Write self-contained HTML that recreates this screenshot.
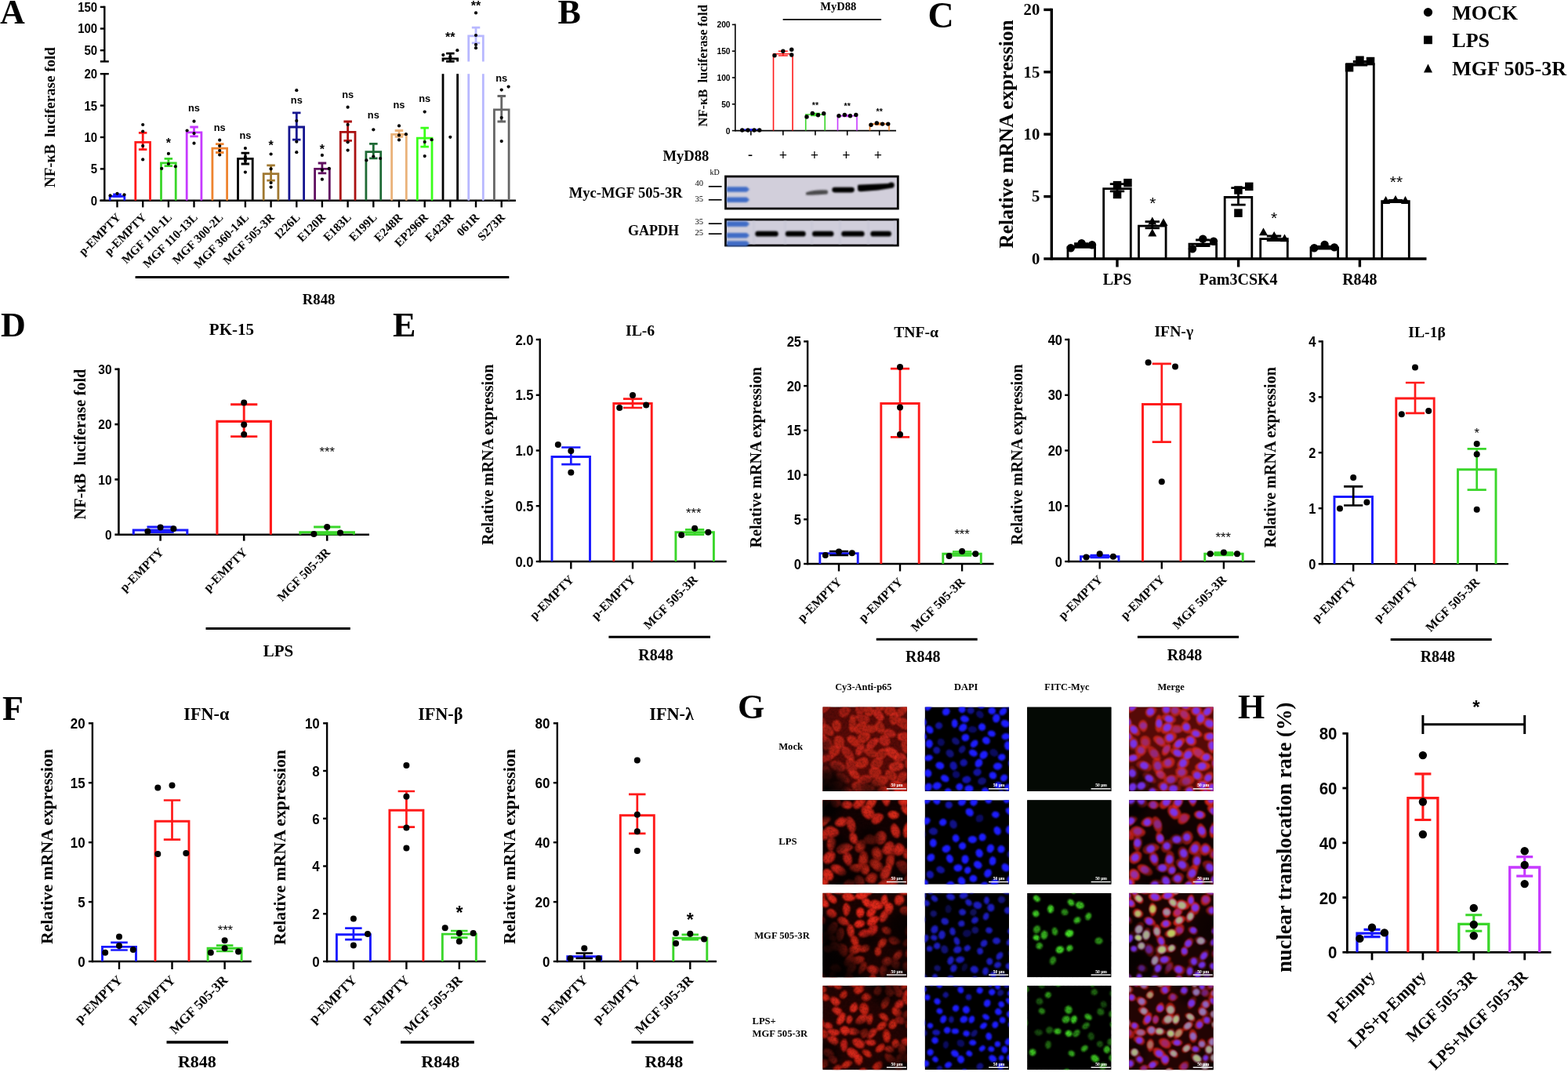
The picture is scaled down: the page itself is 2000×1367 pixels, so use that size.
<!DOCTYPE html>
<html><head><meta charset="utf-8"><title>Figure</title>
<style>
html,body{margin:0;padding:0;background:#fff;}
svg{display:block;}
.s{font-family:"Liberation Serif","Times New Roman",serif;font-weight:bold;}
.a{font-family:"Liberation Sans",Arial,sans-serif;font-weight:bold;}
.n{font-family:"Liberation Serif","Times New Roman",serif;}
.r{font-family:"Liberation Sans",Arial,sans-serif;}
</style></head><body>
<svg width="2000" height="1367" viewBox="0 0 2000 1367">
<defs>
<filter id="bl1" x="-20%" y="-100%" width="140%" height="300%"><feGaussianBlur stdDeviation="0.8"/></filter>
<filter id="bl2"><feGaussianBlur stdDeviation="0.9"/></filter>
<filter id="spk" x="0" y="0" width="100%" height="100%"><feTurbulence type="fractalNoise" baseFrequency="0.35" numOctaves="2" seed="7"/><feColorMatrix type="matrix" values="0 0 0 0 0 0 0 0 0 0 0 0 0 0 0 2.2 0 0 0 -0.95"/><feGaussianBlur stdDeviation="0.35"/></filter>
<radialGradient id="dg"><stop offset="0" stop-color="#000" stop-opacity="1"/><stop offset="0.55" stop-color="#000" stop-opacity="0.75"/><stop offset="1" stop-color="#000" stop-opacity="0"/></radialGradient>
<g id="rc0"><path d="M21.6 30.3Q19.7 33.0 16.8 31.5Q13.8 29.9 12.4 26.6Q11.0 23.3 12.4 20.3Q13.8 17.2 16.6 16.5Q19.5 15.7 21.7 18.4Q23.8 21.0 23.7 24.3Q23.5 27.7 21.6 30.3Z" opacity="0.71" stroke="#000" stroke-opacity="0.4" stroke-width="1"/><path d="M10.5 91.9Q8.0 95.1 4.2 94.1Q0.3 93.1 -0.9 89.0Q-2.1 84.9 -1.7 81.6Q-1.3 78.2 1.4 76.0Q4.1 73.8 7.1 76.9Q10.1 80.0 11.6 84.4Q13.0 88.7 10.5 91.9Z" opacity="0.59" stroke="#000" stroke-opacity="0.4" stroke-width="1"/><path d="M24.2 13.2Q21.3 11.6 20.4 8.7Q19.5 5.7 21.8 2.9Q24.0 0.2 27.2 -0.4Q30.4 -0.9 33.4 0.7Q36.5 2.3 34.8 6.0Q33.1 9.6 30.1 12.1Q27.1 14.7 24.2 13.2Z" opacity="0.61" stroke="#000" stroke-opacity="0.4" stroke-width="1"/><path d="M78.4 14.5Q77.9 18.0 74.4 18.0Q70.9 18.0 67.9 14.8Q64.9 11.5 63.2 7.7Q61.5 3.9 64.2 3.0Q66.9 2.0 70.0 3.1Q73.2 4.2 76.0 7.6Q78.9 11.1 78.4 14.5Z" opacity="0.77" stroke="#000" stroke-opacity="0.4" stroke-width="1"/><path d="M93.2 34.0Q94.4 36.7 91.8 38.0Q89.1 39.3 85.4 39.1Q81.6 38.9 79.3 36.5Q77.0 34.0 77.5 31.7Q78.1 29.4 81.4 28.2Q84.7 27.1 88.4 29.2Q92.0 31.3 93.2 34.0Z" opacity="0.77" stroke="#000" stroke-opacity="0.4" stroke-width="1"/><path d="M97.1 97.4Q93.8 98.1 94.1 94.7Q94.5 91.3 96.0 87.7Q97.6 84.1 101.4 82.9Q105.1 81.7 106.9 83.9Q108.7 86.1 107.5 89.5Q106.4 92.9 103.5 94.8Q100.5 96.7 97.1 97.4Z" opacity="0.70" stroke="#000" stroke-opacity="0.4" stroke-width="1"/><path d="M34.2 93.8Q35.3 97.0 31.8 97.3Q28.2 97.5 24.6 96.1Q21.0 94.7 18.5 91.6Q16.1 88.4 17.1 85.7Q18.2 83.0 22.6 83.8Q26.9 84.5 30.0 87.5Q33.1 90.5 34.2 93.8Z" opacity="0.67" stroke="#000" stroke-opacity="0.4" stroke-width="1"/><path d="M48.5 10.0Q45.8 10.4 43.7 8.7Q41.7 7.0 41.4 3.1Q41.1 -0.8 43.7 -3.8Q46.4 -6.8 49.3 -5.6Q52.2 -4.5 53.3 -1.0Q54.4 2.4 52.8 6.0Q51.2 9.6 48.5 10.0Z" opacity="0.63" stroke="#000" stroke-opacity="0.4" stroke-width="1"/><path d="M80.5 114.3Q77.5 116.0 74.8 114.1Q72.1 112.2 70.5 108.9Q68.8 105.5 71.4 103.3Q74.1 101.1 76.8 100.4Q79.6 99.6 81.9 102.2Q84.2 104.8 83.9 108.7Q83.5 112.6 80.5 114.3Z" opacity="0.79" stroke="#000" stroke-opacity="0.4" stroke-width="1"/><path d="M42.2 84.2Q40.0 87.6 36.1 86.2Q32.3 84.8 30.5 79.6Q28.7 74.5 29.6 69.9Q30.5 65.4 33.8 65.0Q37.1 64.6 40.2 67.6Q43.2 70.6 43.9 75.7Q44.5 80.9 42.2 84.2Z" opacity="0.59" stroke="#000" stroke-opacity="0.4" stroke-width="1"/><path d="M58.8 54.5Q56.4 53.6 55.5 51.2Q54.6 48.8 57.8 45.0Q61.0 41.2 64.5 40.0Q68.1 38.7 70.4 39.8Q72.8 41.0 70.8 45.0Q68.8 49.0 65.0 52.2Q61.1 55.4 58.8 54.5Z" opacity="0.80" stroke="#000" stroke-opacity="0.4" stroke-width="1"/><path d="M8.2 106.3Q6.1 104.0 6.6 100.9Q7.1 97.9 11.4 96.2Q15.7 94.5 19.6 94.7Q23.5 94.9 25.1 97.4Q26.7 100.0 23.7 103.3Q20.6 106.6 15.5 107.6Q10.4 108.6 8.2 106.3Z" opacity="0.60" stroke="#000" stroke-opacity="0.4" stroke-width="1"/><path d="M44.9 97.0Q42.9 94.3 44.6 91.6Q46.4 88.8 50.5 87.2Q54.7 85.5 58.5 87.0Q62.3 88.4 62.6 91.2Q62.9 94.0 59.9 96.5Q56.8 99.0 51.9 99.3Q46.9 99.6 44.9 97.0Z" opacity="0.67" stroke="#000" stroke-opacity="0.4" stroke-width="1"/><path d="M0.6 7.8Q-2.6 9.0 -2.7 5.8Q-2.7 2.5 -0.6 -1.9Q1.6 -6.3 4.9 -7.4Q8.3 -8.4 10.1 -7.3Q11.8 -6.2 11.1 -2.7Q10.4 0.9 7.2 3.8Q3.9 6.6 0.6 7.8Z" opacity="0.67" stroke="#000" stroke-opacity="0.4" stroke-width="1"/><path d="M66.5 79.9Q63.2 80.1 61.6 77.2Q59.9 74.2 62.2 70.2Q64.4 66.1 67.7 64.6Q71.0 63.1 74.1 64.1Q77.1 65.0 77.0 69.4Q77.0 73.8 73.4 76.8Q69.8 79.8 66.5 79.9Z" opacity="0.66" stroke="#000" stroke-opacity="0.4" stroke-width="1"/><path d="M60.7 88.7Q59.1 85.7 58.8 82.4Q58.4 79.0 62.7 77.1Q66.9 75.3 70.2 76.9Q73.4 78.5 74.7 81.2Q76.0 83.9 73.7 86.9Q71.3 89.9 66.8 90.7Q62.3 91.6 60.7 88.7Z" opacity="0.66" stroke="#000" stroke-opacity="0.4" stroke-width="1"/><path d="M44.8 77.7Q41.7 76.3 41.5 72.8Q41.3 69.4 44.5 67.2Q47.7 65.0 51.5 64.1Q55.3 63.3 57.4 66.3Q59.4 69.2 57.7 73.1Q55.9 76.9 51.9 78.0Q47.9 79.0 44.8 77.7Z" opacity="0.72" stroke="#000" stroke-opacity="0.4" stroke-width="1"/><path d="M9.0 54.6Q5.9 55.4 2.7 54.9Q-0.5 54.3 -0.5 49.8Q-0.5 45.2 0.6 41.0Q1.7 36.8 4.8 37.7Q8.0 38.7 10.1 41.6Q12.2 44.5 12.1 49.1Q12.1 53.7 9.0 54.6Z" opacity="0.62" stroke="#000" stroke-opacity="0.4" stroke-width="1"/><path d="M84.8 79.6Q83.1 77.2 84.4 74.6Q85.7 72.1 90.2 70.4Q94.6 68.7 98.5 70.1Q102.3 71.4 103.6 74.1Q104.9 76.9 100.9 79.4Q96.8 81.9 91.7 81.9Q86.5 82.0 84.8 79.6Z" opacity="0.81" stroke="#000" stroke-opacity="0.4" stroke-width="1"/><path d="M87.1 103.1Q84.7 100.9 86.0 97.8Q87.4 94.6 91.1 94.0Q94.7 93.4 98.1 94.7Q101.4 95.9 101.7 99.2Q101.9 102.4 99.2 104.9Q96.4 107.3 93.0 106.3Q89.5 105.3 87.1 103.1Z" opacity="0.86" stroke="#000" stroke-opacity="0.4" stroke-width="1"/><path d="M114.4 103.1Q114.7 106.1 112.4 108.3Q110.1 110.4 105.8 109.5Q101.5 108.5 99.7 105.3Q97.9 102.1 99.2 99.7Q100.5 97.2 103.8 96.9Q107.1 96.7 110.6 98.3Q114.1 100.0 114.4 103.1Z" opacity="0.88" stroke="#000" stroke-opacity="0.4" stroke-width="1"/><path d="M47.2 47.0Q47.9 50.1 44.9 50.9Q41.8 51.6 38.0 49.3Q34.1 47.0 31.7 43.4Q29.4 39.9 31.4 37.9Q33.3 35.9 37.3 36.5Q41.2 37.0 43.9 40.4Q46.5 43.8 47.2 47.0Z" opacity="0.74" stroke="#000" stroke-opacity="0.4" stroke-width="1"/><path d="M112.7 22.1Q112.6 25.7 110.0 28.0Q107.4 30.4 102.5 28.3Q97.6 26.3 95.3 23.1Q92.9 20.0 93.0 16.4Q93.0 12.9 98.0 13.2Q103.1 13.6 108.0 16.1Q112.8 18.6 112.7 22.1Z" opacity="0.70" stroke="#000" stroke-opacity="0.4" stroke-width="1"/><path d="M28.6 75.6Q30.2 79.0 27.3 81.4Q24.3 83.8 19.2 82.4Q14.1 81.0 10.7 77.6Q7.4 74.2 9.5 71.4Q11.5 68.7 15.5 68.4Q19.4 68.1 23.2 70.1Q26.9 72.2 28.6 75.6Z" opacity="0.55" stroke="#000" stroke-opacity="0.4" stroke-width="1"/><path d="M109.0 57.8Q107.1 60.5 104.5 58.5Q101.8 56.6 100.6 52.0Q99.3 47.5 101.1 44.4Q102.8 41.4 105.2 39.9Q107.7 38.4 110.1 42.1Q112.4 45.9 111.6 50.5Q110.9 55.0 109.0 57.8Z" opacity="0.76" stroke="#000" stroke-opacity="0.4" stroke-width="1"/><path d="M11.1 62.3Q8.0 60.3 7.3 56.7Q6.5 53.1 9.3 50.5Q12.1 47.8 15.5 48.2Q18.9 48.5 21.1 51.0Q23.2 53.5 22.0 56.9Q20.8 60.2 17.6 62.2Q14.3 64.3 11.1 62.3Z" opacity="0.70" stroke="#000" stroke-opacity="0.4" stroke-width="1"/><path d="M5.9 41.4Q6.4 45.3 2.5 45.7Q-1.4 46.0 -5.0 43.2Q-8.7 40.4 -10.6 36.5Q-12.4 32.7 -10.2 30.5Q-8.0 28.2 -4.0 29.3Q0.0 30.4 2.7 33.9Q5.4 37.4 5.9 41.4Z" opacity="0.77" stroke="#000" stroke-opacity="0.4" stroke-width="1"/><path d="M117.7 2.8Q116.2 6.0 112.9 5.9Q109.6 5.9 106.4 3.7Q103.2 1.5 102.0 -2.2Q100.8 -5.8 103.1 -7.5Q105.5 -9.1 108.9 -8.2Q112.3 -7.3 115.7 -3.9Q119.1 -0.4 117.7 2.8Z" opacity="0.77" stroke="#000" stroke-opacity="0.4" stroke-width="1"/><path d="M-3.3 69.4Q-4.7 67.1 -3.8 64.7Q-2.8 62.3 1.5 61.0Q5.9 59.8 9.9 60.1Q14.0 60.5 14.8 62.8Q15.5 65.2 11.7 67.1Q7.8 69.1 3.0 70.4Q-1.9 71.7 -3.3 69.4Z" opacity="0.63" stroke="#000" stroke-opacity="0.4" stroke-width="1"/><path d="M69.5 26.5Q70.7 29.2 68.5 31.1Q66.3 33.0 62.3 33.5Q58.4 33.9 54.1 32.6Q49.9 31.2 50.6 28.5Q51.4 25.7 54.8 23.7Q58.3 21.7 63.3 22.8Q68.4 23.8 69.5 26.5Z" opacity="0.66" stroke="#000" stroke-opacity="0.4" stroke-width="1"/><path d="M47.6 107.0Q44.3 105.1 46.6 102.2Q49.0 99.4 53.6 99.0Q58.2 98.6 62.4 99.6Q66.5 100.6 66.4 103.5Q66.3 106.4 62.7 108.1Q59.0 109.8 55.0 109.4Q51.0 109.0 47.6 107.0Z" opacity="0.71" stroke="#000" stroke-opacity="0.4" stroke-width="1"/><path d="M43.6 34.2Q40.6 33.0 39.7 29.8Q38.9 26.6 42.4 22.8Q46.0 18.9 50.2 18.2Q54.4 17.4 55.6 20.1Q56.8 22.8 55.2 26.0Q53.6 29.2 50.2 32.3Q46.7 35.5 43.6 34.2Z" opacity="0.75" stroke="#000" stroke-opacity="0.4" stroke-width="1"/><path d="M71.5 68.0Q68.5 67.7 68.0 64.8Q67.4 61.8 69.5 57.7Q71.5 53.6 75.9 52.4Q80.4 51.2 82.8 53.7Q85.2 56.2 82.8 60.1Q80.5 63.9 77.4 66.2Q74.4 68.4 71.5 68.0Z" opacity="0.69" stroke="#000" stroke-opacity="0.4" stroke-width="1"/><path d="M60.5 12.1Q57.2 13.1 54.9 10.8Q52.6 8.5 52.3 5.0Q52.1 1.5 54.5 -0.6Q56.9 -2.8 59.7 -2.5Q62.6 -2.2 64.4 0.7Q66.3 3.6 65.0 7.4Q63.8 11.2 60.5 12.1Z" opacity="0.65" stroke="#000" stroke-opacity="0.4" stroke-width="1"/><path d="M26.2 50.8Q24.5 53.8 20.8 53.8Q17.1 53.8 15.4 49.9Q13.7 46.0 14.0 42.3Q14.3 38.7 17.3 37.1Q20.2 35.4 23.8 37.5Q27.3 39.6 27.6 43.7Q28.0 47.8 26.2 50.8Z" opacity="0.66" stroke="#000" stroke-opacity="0.4" stroke-width="1"/><path d="M93.2 3.7Q93.6 6.9 91.7 9.5Q89.9 12.1 85.8 11.7Q81.7 11.4 79.7 8.5Q77.7 5.6 78.6 3.0Q79.5 0.4 82.4 -0.8Q85.4 -2.0 89.1 -0.7Q92.9 0.6 93.2 3.7Z" opacity="0.74" stroke="#000" stroke-opacity="0.4" stroke-width="1"/><path d="M97.9 61.3Q98.7 65.0 95.2 66.4Q91.8 67.8 87.3 65.1Q82.8 62.4 81.2 59.2Q79.5 56.0 80.2 53.2Q80.8 50.5 85.1 50.9Q89.4 51.3 93.3 54.5Q97.1 57.6 97.9 61.3Z" opacity="0.83" stroke="#000" stroke-opacity="0.4" stroke-width="1"/><path d="M95.3 13.6Q92.0 13.8 92.4 10.5Q92.7 7.2 95.2 3.9Q97.6 0.7 101.4 -1.5Q105.2 -3.7 106.8 -1.5Q108.4 0.7 107.3 4.5Q106.1 8.3 102.3 10.8Q98.6 13.4 95.3 13.6Z" opacity="0.74" stroke="#000" stroke-opacity="0.4" stroke-width="1"/><path d="M64.6 100.7Q60.6 99.1 62.3 95.2Q64.0 91.4 68.4 89.1Q72.9 86.8 77.5 87.2Q82.1 87.6 83.5 90.8Q84.8 94.1 81.3 97.2Q77.7 100.4 73.1 101.3Q68.5 102.2 64.6 100.7Z" opacity="0.65" stroke="#000" stroke-opacity="0.4" stroke-width="1"/><path d="M37.6 108.0Q37.9 111.1 35.5 113.1Q33.2 115.0 29.7 113.7Q26.3 112.5 24.7 110.2Q23.0 107.9 23.4 105.4Q23.8 102.9 27.0 102.2Q30.2 101.5 33.7 103.2Q37.2 104.9 37.6 108.0Z" opacity="0.60" stroke="#000" stroke-opacity="0.4" stroke-width="1"/><path d="M40.3 64.8Q40.8 68.8 37.0 69.0Q33.2 69.3 29.6 65.5Q25.9 61.7 24.4 57.7Q22.8 53.7 24.5 51.0Q26.3 48.3 30.6 50.7Q35.0 53.1 37.4 56.9Q39.8 60.8 40.3 64.8Z" opacity="0.60" stroke="#000" stroke-opacity="0.4" stroke-width="1"/><path d="M113.0 78.7Q111.1 80.5 108.6 79.5Q106.1 78.6 105.3 74.4Q104.4 70.3 105.8 67.0Q107.2 63.8 109.5 64.2Q111.9 64.7 113.4 67.2Q114.9 69.8 114.9 73.3Q114.9 76.8 113.0 78.7Z" opacity="0.74" stroke="#000" stroke-opacity="0.4" stroke-width="1"/><path d="M50.8 103.9Q50.9 107.1 47.9 108.4Q44.8 109.8 41.9 107.8Q39.0 105.9 37.1 102.7Q35.2 99.6 37.8 97.4Q40.4 95.2 43.6 95.3Q46.9 95.5 48.8 98.1Q50.7 100.7 50.8 103.9Z" opacity="0.65" stroke="#000" stroke-opacity="0.4" stroke-width="1"/><path d="M79.4 0.7Q78.7 4.1 75.4 4.8Q72.1 5.5 69.2 3.0Q66.3 0.5 64.0 -3.2Q61.6 -6.8 64.2 -9.2Q66.9 -11.6 70.6 -10.0Q74.4 -8.4 77.2 -5.5Q80.0 -2.6 79.4 0.7Z" opacity="0.71" stroke="#000" stroke-opacity="0.4" stroke-width="1"/><path d="M79.0 30.9Q78.2 34.5 74.6 33.9Q70.9 33.4 68.2 30.5Q65.4 27.7 66.0 24.2Q66.7 20.7 69.1 18.4Q71.5 16.2 74.4 18.6Q77.3 21.1 78.5 24.2Q79.7 27.2 79.0 30.9Z" opacity="0.68" stroke="#000" stroke-opacity="0.4" stroke-width="1"/><path d="M3.0 110.9Q-0.4 111.9 -2.1 108.9Q-3.9 105.8 -2.1 101.7Q-0.3 97.7 2.7 95.7Q5.6 93.7 8.2 94.8Q10.7 96.0 10.4 99.5Q10.0 103.1 8.2 106.5Q6.3 109.8 3.0 110.9Z" opacity="0.65" stroke="#000" stroke-opacity="0.4" stroke-width="1"/><path d="M95.7 41.0Q94.7 38.4 95.3 35.8Q95.8 33.1 100.4 32.5Q105.1 31.8 108.6 33.1Q112.2 34.4 112.4 37.0Q112.6 39.5 109.2 41.1Q105.7 42.7 101.2 43.1Q96.7 43.5 95.7 41.0Z" opacity="0.85" stroke="#000" stroke-opacity="0.4" stroke-width="1"/><path d="M3.1 26.0Q1.4 28.6 -1.3 27.1Q-4.0 25.6 -6.1 22.3Q-8.3 19.0 -7.7 15.6Q-7.1 12.2 -5.0 10.9Q-2.9 9.5 -0.3 12.4Q2.2 15.2 3.4 19.3Q4.7 23.5 3.1 26.0Z" opacity="0.59" stroke="#000" stroke-opacity="0.4" stroke-width="1"/><path d="M44.9 62.3Q42.0 62.0 41.6 59.1Q41.2 56.2 42.9 52.8Q44.6 49.5 47.5 47.7Q50.5 45.9 52.2 47.4Q54.0 48.9 53.2 52.1Q52.5 55.2 50.1 58.9Q47.8 62.6 44.9 62.3Z" opacity="0.78" stroke="#000" stroke-opacity="0.4" stroke-width="1"/><path d="M106.1 113.0Q105.9 116.7 102.4 117.0Q98.8 117.4 95.9 116.1Q92.9 114.8 90.8 111.8Q88.6 108.8 90.9 106.6Q93.1 104.4 96.6 103.9Q100.2 103.3 103.2 106.3Q106.3 109.4 106.1 113.0Z" opacity="0.83" stroke="#000" stroke-opacity="0.4" stroke-width="1"/><path d="M91.3 68.3Q88.9 66.3 90.5 63.6Q92.1 61.0 95.4 59.2Q98.7 57.5 101.5 58.9Q104.3 60.3 106.2 62.7Q108.1 65.0 104.8 67.3Q101.4 69.5 97.6 69.8Q93.8 70.2 91.3 68.3Z" opacity="0.77" stroke="#000" stroke-opacity="0.4" stroke-width="1"/><path d="M14.1 34.5Q13.3 37.6 10.0 37.0Q6.7 36.4 2.9 33.7Q-0.9 31.1 -2.4 26.5Q-3.8 21.9 -0.7 21.5Q2.4 21.1 5.7 22.2Q9.0 23.3 11.9 27.4Q14.9 31.4 14.1 34.5Z" opacity="0.65" stroke="#000" stroke-opacity="0.4" stroke-width="1"/><path d="M94.7 90.1Q94.0 93.3 90.9 94.1Q87.8 95.0 85.0 92.7Q82.1 90.5 80.3 87.4Q78.5 84.3 80.3 81.8Q82.1 79.4 85.8 80.2Q89.5 81.0 92.5 83.9Q95.5 86.9 94.7 90.1Z" opacity="0.69" stroke="#000" stroke-opacity="0.4" stroke-width="1"/><path d="M70.7 60.5Q71.1 63.4 68.1 64.1Q65.2 64.9 61.2 63.8Q57.2 62.7 54.1 59.6Q51.0 56.5 52.4 54.2Q53.7 51.8 57.9 52.4Q62.1 52.9 66.2 55.2Q70.4 57.6 70.7 60.5Z" opacity="0.65" stroke="#000" stroke-opacity="0.4" stroke-width="1"/><path d="M40.4 30.8Q38.5 34.1 35.9 32.0Q33.2 29.9 33.2 24.4Q33.2 18.8 34.3 14.6Q35.3 10.5 37.9 9.8Q40.4 9.2 41.5 13.9Q42.6 18.6 42.4 23.1Q42.3 27.6 40.4 30.8Z" opacity="0.73" stroke="#000" stroke-opacity="0.4" stroke-width="1"/><path d="M47.4 88.2Q47.6 91.2 44.7 91.9Q41.7 92.6 38.6 91.2Q35.5 89.9 34.1 87.1Q32.6 84.4 33.7 82.0Q34.8 79.6 38.2 80.0Q41.6 80.4 44.4 82.8Q47.2 85.2 47.4 88.2Z" opacity="0.72" stroke="#000" stroke-opacity="0.4" stroke-width="1"/><path d="M86.0 45.4Q85.1 48.6 82.0 49.7Q79.0 50.7 75.8 48.6Q72.6 46.5 71.8 43.4Q71.1 40.2 72.9 38.1Q74.6 36.1 78.1 35.8Q81.6 35.5 84.3 38.9Q86.9 42.3 86.0 45.4Z" opacity="0.80" stroke="#000" stroke-opacity="0.4" stroke-width="1"/><path d="M59.9 15.3Q60.6 18.2 58.2 19.9Q55.8 21.5 51.6 20.6Q47.4 19.6 44.0 17.3Q40.6 15.0 41.2 12.3Q41.8 9.6 46.0 9.2Q50.3 8.8 54.8 10.6Q59.2 12.4 59.9 15.3Z" opacity="0.63" stroke="#000" stroke-opacity="0.4" stroke-width="1"/><path d="M92.0 22.9Q89.2 24.3 87.3 21.8Q85.3 19.4 85.1 15.0Q84.8 10.5 87.5 7.5Q90.3 4.4 92.9 5.5Q95.5 6.5 96.5 10.0Q97.4 13.5 96.1 17.5Q94.8 21.4 92.0 22.9Z" opacity="0.71" stroke="#000" stroke-opacity="0.4" stroke-width="1"/><path d="M46.8 45.4Q44.3 43.3 44.3 40.1Q44.2 37.0 47.1 34.3Q50.0 31.5 54.1 31.6Q58.1 31.6 60.2 34.6Q62.2 37.6 59.5 40.9Q56.9 44.2 53.1 45.9Q49.4 47.5 46.8 45.4Z" opacity="0.73" stroke="#000" stroke-opacity="0.4" stroke-width="1"/></g>
<g id="rn0"><ellipse cx="18" cy="23.9" rx="4.4" ry="4.6" transform="rotate(79 18 23.9)" opacity="0.60"/><ellipse cx="4.1" cy="84.5" rx="5.2" ry="4.6" transform="rotate(69 4.1 84.5)"/><ellipse cx="27.2" cy="6.1" rx="5.1" ry="4.6" transform="rotate(136 27.2 6.1)"/><ellipse cx="70.3" cy="9.5" rx="5.3" ry="4.2" transform="rotate(48 70.3 9.5)" opacity="0.42"/><ellipse cx="85.2" cy="34" rx="5" ry="4" transform="rotate(16 85.2 34)"/><ellipse cx="100.9" cy="90.5" rx="4.9" ry="4.2" transform="rotate(133 100.9 90.5)"/><ellipse cx="25.7" cy="91.1" rx="5.6" ry="4.3" transform="rotate(31 25.7 91.1)"/><ellipse cx="47.5" cy="3" rx="4.7" ry="4.5" transform="rotate(102 47.5 3)"/><ellipse cx="77" cy="107.2" rx="4.4" ry="4.6" transform="rotate(86 77 107.2)"/><ellipse cx="36.6" cy="75.1" rx="5.6" ry="4.6" transform="rotate(75 36.6 75.1)" opacity="0.66"/><ellipse cx="63.1" cy="46.9" rx="5.6" ry="4" transform="rotate(135 63.1 46.9)"/><ellipse cx="15.6" cy="100.6" rx="5.6" ry="4.6" transform="rotate(160 15.6 100.6)"/><ellipse cx="53.3" cy="92.7" rx="5.6" ry="4.6" transform="rotate(171 53.3 92.7)" opacity="0.69"/><ellipse cx="4.6" cy="-0.4" rx="5.6" ry="3.9" transform="rotate(127 4.6 -0.4)"/><ellipse cx="68.8" cy="71.7" rx="5.6" ry="4.6" transform="rotate(123 68.8 71.7)"/><ellipse cx="67" cy="83.3" rx="5.2" ry="4.6" transform="rotate(163 67 83.3)" opacity="0.63"/><ellipse cx="49.6" cy="71.2" rx="4.8" ry="4.6" transform="rotate(147 49.6 71.2)" opacity="0.65"/><ellipse cx="5.6" cy="46.9" rx="5.5" ry="4.6" transform="rotate(87 5.6 46.9)"/><ellipse cx="93" cy="75.6" rx="5.6" ry="4.6" transform="rotate(170 93 75.6)"/><ellipse cx="93.6" cy="100" rx="4.8" ry="4.6" transform="rotate(174 93.6 100)"/><ellipse cx="106.5" cy="102.7" rx="4.9" ry="4.6" transform="rotate(22 106.5 102.7)"/><ellipse cx="39.4" cy="43.7" rx="5.5" ry="4.1" transform="rotate(36 39.4 43.7)" opacity="0.46"/><ellipse cx="102.6" cy="21.2" rx="5.6" ry="4.6" transform="rotate(24 102.6 21.2)"/><ellipse cx="19.2" cy="74.8" rx="5.6" ry="4.6" transform="rotate(20 19.2 74.8)"/><ellipse cx="105.9" cy="49.4" rx="5.6" ry="4.4" transform="rotate(84 105.9 49.4)"/><ellipse cx="15.1" cy="55.2" rx="4.4" ry="4.6" transform="rotate(144 15.1 55.2)" opacity="0.61"/><ellipse cx="-2.8" cy="37.1" rx="5.6" ry="4.6" transform="rotate(41 -2.8 37.1)"/><ellipse cx="109.2" cy="-1.4" rx="5.6" ry="4.6" transform="rotate(46 109.2 -1.4)" opacity="0.55"/><ellipse cx="4.8" cy="65" rx="5.6" ry="3.9" transform="rotate(167 4.8 65)"/><ellipse cx="60.8" cy="28.7" rx="5.6" ry="4.3" transform="rotate(2 60.8 28.7)" opacity="0.38"/><ellipse cx="56.4" cy="104.3" rx="5.6" ry="4.6" transform="rotate(176 56.4 104.3)"/><ellipse cx="48.6" cy="26.3" rx="5.6" ry="4.5" transform="rotate(140 48.6 26.3)"/><ellipse cx="75.1" cy="61.2" rx="5.6" ry="4.6" transform="rotate(135 75.1 61.2)"/><ellipse cx="58.6" cy="4.4" rx="4.5" ry="4.6" transform="rotate(99 58.6 4.4)" opacity="0.57"/><ellipse cx="20.6" cy="45" rx="4.9" ry="4.6" transform="rotate(66 20.6 45)" opacity="0.38"/><ellipse cx="85.6" cy="4.8" rx="4.8" ry="4.6" transform="rotate(14 85.6 4.8)"/><ellipse cx="88.1" cy="58.4" rx="5.6" ry="4.6" transform="rotate(31 88.1 58.4)" opacity="0.37"/><ellipse cx="99.8" cy="5.8" rx="5.6" ry="4.1" transform="rotate(134 99.8 5.8)"/><ellipse cx="73" cy="94.6" rx="5.6" ry="4.6" transform="rotate(159 73 94.6)" opacity="0.48"/><ellipse cx="29.7" cy="108" rx="4.5" ry="4.4" transform="rotate(20 29.7 108)"/><ellipse cx="32" cy="59.3" rx="5.6" ry="4.6" transform="rotate(46 32 59.3)" opacity="0.48"/><ellipse cx="110.4" cy="71.9" rx="4.9" ry="3.9" transform="rotate(85 110.4 71.9)"/><ellipse cx="44.2" cy="101.9" rx="4.5" ry="4.6" transform="rotate(37 44.2 101.9)"/><ellipse cx="71.5" cy="-2.6" rx="5.2" ry="4.6" transform="rotate(42 71.5 -2.6)"/><ellipse cx="73" cy="25.6" rx="4.8" ry="4.6" transform="rotate(59 73 25.6)"/><ellipse cx="4.4" cy="102.3" rx="5.3" ry="4.6" transform="rotate(116 4.4 102.3)"/><ellipse cx="103.3" cy="37.7" rx="5.4" ry="4.1" transform="rotate(175 103.3 37.7)"/><ellipse cx="-2.1" cy="19" rx="5.4" ry="4.1" transform="rotate(69 -2.1 19)"/><ellipse cx="47.6" cy="54.1" rx="5.2" ry="3.9" transform="rotate(125 47.6 54.1)" opacity="0.50"/><ellipse cx="97.6" cy="111" rx="4.8" ry="4.6" transform="rotate(34 97.6 111)"/><ellipse cx="98.2" cy="64.1" rx="4.8" ry="4.3" transform="rotate(166 98.2 64.1)"/><ellipse cx="6.1" cy="28.9" rx="5.6" ry="4.3" transform="rotate(50 6.1 28.9)"/><ellipse cx="86.8" cy="87.4" rx="4.9" ry="4.6" transform="rotate(39 86.8 87.4)"/><ellipse cx="61.7" cy="58.7" rx="5.6" ry="4.2" transform="rotate(26 61.7 58.7)"/><ellipse cx="38.1" cy="21" rx="5.6" ry="3.9" transform="rotate(88 38.1 21)"/><ellipse cx="40" cy="86.2" rx="4.8" ry="4.4" transform="rotate(33 40 86.2)" opacity="0.42"/><ellipse cx="78.3" cy="42.8" rx="5.2" ry="4.6" transform="rotate(40 78.3 42.8)"/><ellipse cx="50.9" cy="15.3" rx="5.6" ry="4.3" transform="rotate(16 50.9 15.3)"/><ellipse cx="91.2" cy="14.4" rx="5.6" ry="4.6" transform="rotate(101 91.2 14.4)"/><ellipse cx="51.8" cy="39.1" rx="5" ry="4.6" transform="rotate(150 51.8 39.1)"/></g>
<g id="rc1"><path d="M108.4 47.9Q105.4 49.9 103.6 46.6Q101.9 43.4 102.6 39.0Q103.2 34.5 105.4 30.9Q107.7 27.2 110.7 27.4Q113.7 27.6 114.5 32.2Q115.2 36.8 113.4 41.4Q111.5 46.0 108.4 47.9Z" opacity="0.76" stroke="#000" stroke-opacity="0.4" stroke-width="1"/><path d="M97.1 17.2Q98.3 19.6 96.8 21.8Q95.3 24.1 91.3 24.4Q87.3 24.8 84.9 22.4Q82.5 20.1 82.7 17.7Q83.0 15.2 86.0 14.1Q89.1 13.0 92.5 14.0Q95.9 14.9 97.1 17.2Z" opacity="0.76" stroke="#000" stroke-opacity="0.4" stroke-width="1"/><path d="M87.4 88.3Q84.6 91.2 82.5 87.9Q80.4 84.5 80.1 79.1Q79.9 73.6 82.7 70.8Q85.5 68.0 88.5 66.9Q91.5 65.7 91.7 71.0Q92.0 76.2 91.1 80.8Q90.3 85.5 87.4 88.3Z" opacity="0.50" stroke="#000" stroke-opacity="0.4" stroke-width="1"/><path d="M85.3 113.3Q81.9 112.7 80.0 109.3Q78.2 105.9 81.7 102.3Q85.2 98.6 89.0 98.0Q92.8 97.3 94.8 99.6Q96.8 101.9 96.5 105.7Q96.2 109.4 92.5 111.6Q88.8 113.8 85.3 113.3Z" opacity="0.62" stroke="#000" stroke-opacity="0.4" stroke-width="1"/><path d="M65.9 19.6Q64.4 23.0 60.9 24.4Q57.5 25.9 53.9 22.5Q50.2 19.1 49.3 15.2Q48.5 11.3 50.3 8.2Q52.1 5.1 56.7 6.5Q61.2 7.9 64.3 12.0Q67.3 16.2 65.9 19.6Z" opacity="0.71" stroke="#000" stroke-opacity="0.4" stroke-width="1"/><path d="M65.6 30.8Q62.4 30.0 62.1 26.8Q61.7 23.5 64.3 20.0Q66.8 16.4 70.3 16.6Q73.8 16.7 76.3 18.3Q78.7 19.9 77.1 23.4Q75.4 26.9 72.1 29.2Q68.8 31.6 65.6 30.8Z" opacity="0.71" stroke="#000" stroke-opacity="0.4" stroke-width="1"/><path d="M68.6 47.9Q70.6 50.5 69.2 53.7Q67.8 56.9 63.2 56.8Q58.7 56.7 54.5 55.3Q50.2 53.9 51.4 50.6Q52.5 47.4 55.5 45.0Q58.4 42.6 62.5 43.9Q66.5 45.3 68.6 47.9Z" opacity="0.52" stroke="#000" stroke-opacity="0.4" stroke-width="1"/><path d="M53.8 84.4Q50.6 85.4 47.6 84.0Q44.5 82.6 45.1 77.9Q45.8 73.1 47.3 68.8Q48.9 64.4 52.3 64.7Q55.8 65.0 57.2 69.4Q58.5 73.8 57.7 78.6Q56.9 83.4 53.8 84.4Z" opacity="0.50" stroke="#000" stroke-opacity="0.4" stroke-width="1"/><path d="M41.6 38.9Q40.5 42.2 37.2 41.6Q34.0 41.0 31.7 35.8Q29.4 30.5 29.6 25.9Q29.7 21.2 32.5 20.8Q35.3 20.4 38.1 23.4Q41.0 26.5 41.9 31.0Q42.8 35.6 41.6 38.9Z" opacity="0.61" stroke="#000" stroke-opacity="0.4" stroke-width="1"/><path d="M116.4 72.4Q114.8 75.5 111.6 75.8Q108.5 76.2 105.1 74.6Q101.7 73.1 102.4 69.6Q103.1 66.1 104.9 63.3Q106.8 60.5 110.3 61.8Q113.8 63.2 115.9 66.3Q118.1 69.4 116.4 72.4Z" opacity="0.64" stroke="#000" stroke-opacity="0.4" stroke-width="1"/><path d="M108.7 108.9Q106.0 108.8 104.0 107.1Q102.0 105.5 103.1 101.5Q104.2 97.5 106.7 94.8Q109.2 92.0 111.7 93.1Q114.1 94.2 114.7 97.8Q115.4 101.3 113.3 105.2Q111.3 109.0 108.7 108.9Z" opacity="0.60" stroke="#000" stroke-opacity="0.4" stroke-width="1"/><path d="M13.4 100.1Q11.9 103.1 8.7 102.9Q5.4 102.8 2.3 99.9Q-0.8 97.1 -0.5 93.4Q-0.2 89.7 2.3 88.3Q4.7 86.8 8.0 88.1Q11.3 89.4 13.1 93.2Q14.9 97.1 13.4 100.1Z" opacity="0.81" stroke="#000" stroke-opacity="0.4" stroke-width="1"/><path d="M19.8 38.4Q22.0 41.3 20.0 44.3Q17.9 47.4 12.5 47.6Q7.1 47.8 3.5 44.9Q-0.0 42.0 1.0 38.9Q2.0 35.7 5.7 34.0Q9.3 32.3 13.5 34.0Q17.6 35.6 19.8 38.4Z" opacity="0.68" stroke="#000" stroke-opacity="0.4" stroke-width="1"/><path d="M74.9 56.7Q71.0 57.8 68.6 54.7Q66.2 51.6 66.2 47.6Q66.3 43.5 69.3 41.2Q72.2 38.9 75.5 39.4Q78.9 40.0 80.7 43.6Q82.5 47.2 80.6 51.4Q78.8 55.6 74.9 56.7Z" opacity="0.59" stroke="#000" stroke-opacity="0.4" stroke-width="1"/><path d="M-0.9 8.5Q-4.8 7.8 -5.8 4.0Q-6.8 0.2 -4.1 -3.2Q-1.3 -6.5 2.3 -7.3Q5.8 -8.0 8.7 -6.2Q11.7 -4.4 10.2 -0.6Q8.7 3.1 5.8 6.1Q2.9 9.1 -0.9 8.5Z" opacity="0.73" stroke="#000" stroke-opacity="0.4" stroke-width="1"/><path d="M76.7 85.4Q76.1 88.7 73.3 90.6Q70.5 92.5 66.3 89.5Q62.2 86.5 60.4 83.1Q58.6 79.7 60.0 77.1Q61.4 74.5 65.6 75.0Q69.7 75.5 73.5 78.8Q77.4 82.1 76.7 85.4Z" opacity="0.46" stroke="#000" stroke-opacity="0.4" stroke-width="1"/><path d="M55.1 103.7Q52.3 101.7 54.3 98.8Q56.2 96.0 59.5 93.7Q62.7 91.5 66.6 93.1Q70.6 94.8 69.9 98.2Q69.2 101.7 67.3 104.7Q65.4 107.7 61.6 106.7Q57.9 105.7 55.1 103.7Z" opacity="0.50" stroke="#000" stroke-opacity="0.4" stroke-width="1"/><path d="M20.0 68.0Q17.1 66.4 17.1 63.1Q17.2 59.7 22.2 56.8Q27.3 53.9 31.3 55.0Q35.3 56.0 37.9 58.3Q40.4 60.6 36.3 63.8Q32.1 67.0 27.5 68.3Q22.9 69.6 20.0 68.0Z" opacity="0.57" stroke="#000" stroke-opacity="0.4" stroke-width="1"/><path d="M83.0 70.2Q79.8 70.3 77.2 68.0Q74.5 65.8 76.4 61.3Q78.2 56.7 81.5 54.0Q84.7 51.2 87.8 52.7Q90.8 54.3 91.7 58.5Q92.6 62.8 89.4 66.5Q86.3 70.1 83.0 70.2Z" opacity="0.63" stroke="#000" stroke-opacity="0.4" stroke-width="1"/><path d="M29.8 90.8Q31.0 94.0 28.2 95.8Q25.4 97.6 20.2 95.5Q14.9 93.3 12.3 90.1Q9.6 86.8 10.6 84.4Q11.5 82.0 15.9 81.8Q20.2 81.7 24.5 84.7Q28.7 87.7 29.8 90.8Z" opacity="0.70" stroke="#000" stroke-opacity="0.4" stroke-width="1"/><path d="M13.1 63.6Q10.7 66.3 8.0 63.9Q5.4 61.5 5.4 57.1Q5.5 52.8 6.9 49.7Q8.3 46.6 10.8 46.4Q13.3 46.2 15.5 49.2Q17.7 52.2 16.6 56.5Q15.5 60.8 13.1 63.6Z" opacity="0.65" stroke="#000" stroke-opacity="0.4" stroke-width="1"/><path d="M42.6 11.6Q39.3 11.0 38.6 7.8Q37.8 4.6 41.4 0.4Q45.0 -3.7 48.7 -5.1Q52.3 -6.4 54.6 -5.1Q56.9 -3.9 55.5 0.2Q54.0 4.4 49.9 8.3Q45.9 12.1 42.6 11.6Z" opacity="0.71" stroke="#000" stroke-opacity="0.4" stroke-width="1"/><path d="M102.5 8.0Q99.2 7.2 97.2 4.5Q95.1 1.7 97.6 -3.3Q100.0 -8.3 104.4 -10.4Q108.7 -12.5 112.1 -11.0Q115.4 -9.4 114.7 -4.2Q113.9 1.1 109.8 4.9Q105.7 8.7 102.5 8.0Z" opacity="0.83" stroke="#000" stroke-opacity="0.4" stroke-width="1"/><path d="M75.1 75.6Q73.1 79.1 69.3 77.8Q65.5 76.5 63.5 72.2Q61.5 67.8 62.5 63.9Q63.5 59.9 66.6 59.2Q69.7 58.6 72.3 61.2Q75.0 63.9 76.0 68.0Q77.1 72.1 75.1 75.6Z" opacity="0.47" stroke="#000" stroke-opacity="0.4" stroke-width="1"/><path d="M110.3 90.4Q109.2 93.5 106.0 94.6Q102.9 95.8 99.6 92.3Q96.3 88.9 94.3 84.3Q92.2 79.7 95.7 78.1Q99.1 76.6 103.4 77.5Q107.7 78.4 109.5 82.9Q111.3 87.4 110.3 90.4Z" opacity="0.54" stroke="#000" stroke-opacity="0.4" stroke-width="1"/><path d="M70.2 118.2Q66.3 119.6 66.1 115.9Q65.9 112.3 69.4 108.0Q72.9 103.7 76.9 101.3Q81.0 99.0 83.0 100.7Q85.1 102.4 83.8 106.9Q82.5 111.4 78.3 114.2Q74.0 116.9 70.2 118.2Z" opacity="0.57" stroke="#000" stroke-opacity="0.4" stroke-width="1"/><path d="M4.1 81.3Q0.9 80.3 -0.2 77.1Q-1.3 73.9 1.4 70.3Q4.1 66.7 8.1 65.3Q12.2 63.9 14.5 66.4Q16.9 68.9 16.0 73.0Q15.1 77.2 11.2 79.8Q7.3 82.4 4.1 81.3Z" opacity="0.69" stroke="#000" stroke-opacity="0.4" stroke-width="1"/><path d="M79.1 101.9Q76.1 102.3 74.2 100.0Q72.3 97.7 73.6 92.6Q74.8 87.6 78.6 84.2Q82.4 80.8 85.5 82.4Q88.6 84.0 88.1 88.9Q87.5 93.9 84.8 97.7Q82.0 101.5 79.1 101.9Z" opacity="0.58" stroke="#000" stroke-opacity="0.4" stroke-width="1"/><path d="M98.4 70.7Q94.8 71.9 91.9 69.3Q89.0 66.6 89.9 62.8Q90.9 58.9 93.6 56.4Q96.2 53.9 99.2 55.3Q102.3 56.7 104.1 59.8Q105.9 62.9 103.9 66.2Q101.9 69.5 98.4 70.7Z" opacity="0.69" stroke="#000" stroke-opacity="0.4" stroke-width="1"/><path d="M6.2 46.3Q7.9 50.4 3.5 50.9Q-0.9 51.4 -5.3 49.4Q-9.6 47.5 -12.7 43.6Q-15.7 39.7 -13.3 37.2Q-10.9 34.7 -6.6 35.3Q-2.2 35.9 1.1 39.0Q4.5 42.1 6.2 46.3Z" opacity="0.68" stroke="#000" stroke-opacity="0.4" stroke-width="1"/><path d="M83.8 6.9Q81.7 9.6 79.4 7.1Q77.1 4.6 75.5 0.7Q73.9 -3.2 76.0 -6.2Q78.2 -9.2 81.0 -10.2Q83.8 -11.2 85.2 -7.2Q86.6 -3.2 86.2 0.5Q85.8 4.2 83.8 6.9Z" opacity="0.69" stroke="#000" stroke-opacity="0.4" stroke-width="1"/><path d="M53.6 95.9Q51.2 95.7 49.6 93.9Q48.0 92.0 49.3 88.4Q50.5 84.9 53.5 82.8Q56.6 80.6 58.1 82.9Q59.7 85.2 60.0 88.0Q60.4 90.8 58.2 93.4Q55.9 96.1 53.6 95.9Z" opacity="0.52" stroke="#000" stroke-opacity="0.4" stroke-width="1"/><path d="M27.3 115.9Q24.6 114.8 24.6 111.8Q24.6 108.9 27.3 105.0Q30.0 101.2 33.7 101.4Q37.4 101.6 40.3 102.8Q43.1 104.1 40.6 108.0Q38.0 111.9 34.0 114.5Q30.1 117.1 27.3 115.9Z" opacity="0.73" stroke="#000" stroke-opacity="0.4" stroke-width="1"/><path d="M-4.0 34.1Q-7.4 33.4 -6.0 30.0Q-4.5 26.6 -2.1 23.3Q0.3 20.1 3.8 20.2Q7.2 20.3 9.4 21.9Q11.6 23.5 9.0 26.6Q6.3 29.7 2.8 32.3Q-0.7 34.9 -4.0 34.1Z" opacity="0.79" stroke="#000" stroke-opacity="0.4" stroke-width="1"/><path d="M117.5 17.7Q117.9 20.9 114.6 21.1Q111.3 21.3 107.5 19.3Q103.6 17.2 101.2 14.0Q98.9 10.7 100.1 8.6Q101.4 6.5 105.5 6.9Q109.6 7.3 113.3 10.9Q117.1 14.6 117.5 17.7Z" opacity="0.76" stroke="#000" stroke-opacity="0.4" stroke-width="1"/><path d="M47.1 67.0Q43.6 67.7 41.7 64.6Q39.8 61.5 41.4 57.8Q43.1 54.2 46.0 51.8Q48.8 49.4 51.8 50.8Q54.9 52.1 55.4 56.0Q56.0 59.9 53.3 63.1Q50.6 66.3 47.1 67.0Z" opacity="0.49" stroke="#000" stroke-opacity="0.4" stroke-width="1"/><path d="M21.6 7.3Q19.1 9.8 15.7 9.5Q12.3 9.3 10.2 5.0Q8.1 0.6 8.0 -3.8Q8.0 -8.2 11.1 -9.2Q14.2 -10.1 17.4 -7.4Q20.6 -4.7 22.3 0.0Q24.0 4.8 21.6 7.3Z" opacity="0.69" stroke="#000" stroke-opacity="0.4" stroke-width="1"/><path d="M34.8 89.1Q32.8 87.0 34.7 84.7Q36.7 82.4 40.5 81.6Q44.3 80.8 48.6 81.9Q52.8 83.0 51.9 85.9Q50.9 88.7 48.1 91.1Q45.4 93.6 41.1 92.4Q36.8 91.3 34.8 89.1Z" opacity="0.53" stroke="#000" stroke-opacity="0.4" stroke-width="1"/><path d="M18.0 33.4Q15.2 32.4 15.2 29.4Q15.3 26.4 18.6 23.8Q21.9 21.2 25.6 21.6Q29.3 22.0 30.2 24.7Q31.0 27.3 29.7 30.6Q28.4 33.8 24.6 34.1Q20.8 34.3 18.0 33.4Z" opacity="0.68" stroke="#000" stroke-opacity="0.4" stroke-width="1"/><path d="M98.2 46.3Q96.6 49.0 93.5 48.4Q90.4 47.9 88.2 43.6Q85.9 39.2 86.5 35.7Q87.0 32.1 89.2 30.3Q91.3 28.5 94.3 31.5Q97.3 34.5 98.6 39.0Q99.8 43.5 98.2 46.3Z" opacity="0.68" stroke="#000" stroke-opacity="0.4" stroke-width="1"/><path d="M43.2 55.3Q41.0 57.1 38.6 55.9Q36.1 54.7 34.6 51.2Q33.2 47.7 34.2 44.0Q35.2 40.2 38.0 40.8Q40.8 41.4 42.6 43.8Q44.4 46.2 44.9 49.8Q45.4 53.5 43.2 55.3Z" opacity="0.63" stroke="#000" stroke-opacity="0.4" stroke-width="1"/><path d="M37.8 4.6Q39.0 7.3 36.9 9.5Q34.9 11.6 31.7 11.4Q28.4 11.1 25.6 9.5Q22.8 7.9 23.4 5.3Q24.1 2.6 26.9 1.5Q29.8 0.3 33.2 1.1Q36.7 1.8 37.8 4.6Z" opacity="0.69" stroke="#000" stroke-opacity="0.4" stroke-width="1"/><path d="M60.3 11.2Q56.6 12.0 55.2 8.5Q53.8 5.1 56.2 1.5Q58.7 -2.1 61.4 -3.7Q64.2 -5.3 67.1 -4.6Q69.9 -3.8 69.2 0.0Q68.5 3.9 66.2 7.2Q63.9 10.5 60.3 11.2Z" opacity="0.73" stroke="#000" stroke-opacity="0.4" stroke-width="1"/><path d="M36.8 82.1Q35.6 85.1 32.7 84.2Q29.8 83.3 27.2 78.9Q24.6 74.5 25.6 70.9Q26.6 67.3 28.7 66.0Q30.9 64.8 34.1 67.2Q37.3 69.7 37.7 74.5Q38.0 79.2 36.8 82.1Z" opacity="0.56" stroke="#000" stroke-opacity="0.4" stroke-width="1"/><path d="M52.5 109.1Q51.3 111.9 48.2 111.9Q45.1 111.8 42.3 108.0Q39.5 104.2 40.3 100.6Q41.1 97.1 43.4 96.2Q45.6 95.3 48.6 96.9Q51.6 98.5 52.6 102.4Q53.7 106.4 52.5 109.1Z" opacity="0.63" stroke="#000" stroke-opacity="0.4" stroke-width="1"/><path d="M-4.2 112.5Q-7.0 110.5 -8.0 107.1Q-8.9 103.8 -5.8 101.7Q-2.7 99.5 0.9 98.8Q4.5 98.0 6.2 101.0Q8.0 104.0 7.1 107.7Q6.2 111.3 2.4 112.9Q-1.4 114.5 -4.2 112.5Z" opacity="0.81" stroke="#000" stroke-opacity="0.4" stroke-width="1"/></g>
<g id="rn1"><ellipse cx="108.1" cy="37.9" rx="5.6" ry="4.6" transform="rotate(102 108.1 37.9)"/><ellipse cx="90.2" cy="18.6" rx="4.8" ry="4.2" transform="rotate(7 90.2 18.6)"/><ellipse cx="86.5" cy="77.7" rx="5.6" ry="4.4" transform="rotate(98 86.5 77.7)"/><ellipse cx="89" cy="105.6" rx="5.6" ry="4.6" transform="rotate(134 89 105.6)"/><ellipse cx="57.1" cy="15.6" rx="5.6" ry="4.6" transform="rotate(45 57.1 15.6)"/><ellipse cx="69.9" cy="23.5" rx="5.2" ry="4.6" transform="rotate(138 69.9 23.5)" opacity="0.38"/><ellipse cx="60.8" cy="50.4" rx="5.6" ry="4.6" transform="rotate(0 60.8 50.4)"/><ellipse cx="51.5" cy="75.6" rx="5.6" ry="4.6" transform="rotate(94 51.5 75.6)"/><ellipse cx="36.4" cy="30.9" rx="5.6" ry="4.6" transform="rotate(69 36.4 30.9)" opacity="0.53"/><ellipse cx="109.5" cy="69.2" rx="4.6" ry="4.6" transform="rotate(49 109.5 69.2)" opacity="0.58"/><ellipse cx="108.8" cy="101.3" rx="5" ry="4.1" transform="rotate(109 108.8 101.3)"/><ellipse cx="6.7" cy="95" rx="5" ry="4.6" transform="rotate(57 6.7 95)" opacity="0.69"/><ellipse cx="10.9" cy="39.9" rx="5.6" ry="4.6" transform="rotate(7 10.9 39.9)" opacity="0.56"/><ellipse cx="73.5" cy="47.5" rx="4.9" ry="4.6" transform="rotate(103 73.5 47.5)"/><ellipse cx="2.6" cy="-0.1" rx="5.4" ry="4.6" transform="rotate(133 2.6 -0.1)"/><ellipse cx="67.7" cy="82.6" rx="5.6" ry="4.6" transform="rotate(35 67.7 82.6)"/><ellipse cx="61.8" cy="100.1" rx="4.9" ry="4.6" transform="rotate(170 61.8 100.1)"/><ellipse cx="27.4" cy="62.2" rx="5.6" ry="4.6" transform="rotate(157 27.4 62.2)"/><ellipse cx="83.7" cy="61.8" rx="5.6" ry="4.6" transform="rotate(114 83.7 61.8)"/><ellipse cx="20" cy="88.9" rx="5.6" ry="4.3" transform="rotate(25 20 88.9)" opacity="0.63"/><ellipse cx="10.7" cy="54.7" rx="5.3" ry="4.4" transform="rotate(90 10.7 54.7)"/><ellipse cx="47.6" cy="2.2" rx="5.6" ry="4.5" transform="rotate(132 47.6 2.2)"/><ellipse cx="105.1" cy="-1.3" rx="5.6" ry="4.6" transform="rotate(124 105.1 -1.3)"/><ellipse cx="69.5" cy="67.8" rx="5.6" ry="4.6" transform="rotate(72 69.5 67.8)"/><ellipse cx="103" cy="86.1" rx="5.6" ry="4.6" transform="rotate(49 103 86.1)"/><ellipse cx="75.4" cy="109.3" rx="5.6" ry="4.3" transform="rotate(131 75.4 109.3)"/><ellipse cx="7.7" cy="73.4" rx="5.3" ry="4.6" transform="rotate(134 7.7 73.4)"/><ellipse cx="80.4" cy="93.4" rx="5.6" ry="4.6" transform="rotate(115 80.4 93.4)"/><ellipse cx="97.4" cy="62.6" rx="4.8" ry="4.6" transform="rotate(105 97.4 62.6)"/><ellipse cx="-3.8" cy="43" rx="5.6" ry="4.6" transform="rotate(32 -3.8 43)" opacity="0.36"/><ellipse cx="81.2" cy="-1" rx="5.5" ry="4.6" transform="rotate(87 81.2 -1)"/><ellipse cx="54.7" cy="89.6" rx="4.6" ry="4.1" transform="rotate(119 54.7 89.6)"/><ellipse cx="32.3" cy="108.6" rx="5.6" ry="4.6" transform="rotate(141 32.3 108.6)"/><ellipse cx="2" cy="26.8" rx="5.4" ry="4.2" transform="rotate(145 2 26.8)"/><ellipse cx="108.3" cy="14.3" rx="5.6" ry="4.1" transform="rotate(34 108.3 14.3)"/><ellipse cx="48" cy="58.6" rx="4.7" ry="4.6" transform="rotate(115 48 58.6)"/><ellipse cx="15.1" cy="0.2" rx="5.6" ry="4.6" transform="rotate(67 15.1 0.2)"/><ellipse cx="42.4" cy="86.6" rx="5.6" ry="4.6" transform="rotate(177 42.4 86.6)"/><ellipse cx="23.1" cy="28.4" rx="4.8" ry="4.4" transform="rotate(153 23.1 28.4)"/><ellipse cx="92.5" cy="39.1" rx="5.6" ry="4.4" transform="rotate(67 92.5 39.1)"/><ellipse cx="39.6" cy="48.7" rx="5" ry="4.4" transform="rotate(80 39.6 48.7)"/><ellipse cx="30.7" cy="6.2" rx="4.6" ry="4.5" transform="rotate(7 30.7 6.2)" opacity="0.69"/><ellipse cx="62.5" cy="2.4" rx="5.2" ry="4.6" transform="rotate(121 62.5 2.4)"/><ellipse cx="31.9" cy="74.8" rx="5.6" ry="4.3" transform="rotate(69 31.9 74.8)"/><ellipse cx="47" cy="103.3" rx="5.6" ry="4.6" transform="rotate(63 47 103.3)"/><ellipse cx="-0.3" cy="105.8" rx="4.6" ry="4.6" transform="rotate(144 -0.3 105.8)"/></g>
<g id="rc2"><path d="M98.8 59.8Q100.8 62.0 98.5 63.8Q96.2 65.7 92.6 66.0Q88.9 66.4 86.7 64.4Q84.5 62.4 83.8 59.8Q83.1 57.3 86.5 55.7Q89.9 54.1 93.3 55.9Q96.8 57.6 98.8 59.8Z" opacity="0.57" stroke="#000" stroke-opacity="0.4" stroke-width="1"/><path d="M91.5 88.0Q88.5 88.5 88.3 85.4Q88.2 82.4 90.4 78.4Q92.5 74.4 96.1 72.8Q99.6 71.2 101.0 73.1Q102.4 74.9 101.8 78.3Q101.2 81.7 97.9 84.6Q94.6 87.5 91.5 88.0Z" opacity="0.39" stroke="#000" stroke-opacity="0.4" stroke-width="1"/><path d="M58.7 3.3Q56.3 4.1 55.8 1.6Q55.2 -0.9 55.8 -4.7Q56.3 -8.5 59.1 -9.6Q61.9 -10.8 63.6 -10.1Q65.3 -9.4 65.4 -6.4Q65.6 -3.3 63.3 -0.4Q61.1 2.6 58.7 3.3Z" opacity="0.91" stroke="#000" stroke-opacity="0.4" stroke-width="1"/><path d="M31.6 28.8Q29.3 31.2 27.7 28.1Q26.0 25.0 25.5 21.6Q25.0 18.2 26.5 14.9Q28.0 11.6 30.3 12.5Q32.5 13.4 34.3 16.0Q36.1 18.5 35.0 22.4Q33.9 26.4 31.6 28.8Z" opacity="0.86" stroke="#000" stroke-opacity="0.4" stroke-width="1"/><path d="M78.1 108.0Q75.7 110.4 74.4 107.2Q73.1 104.0 72.4 100.2Q71.8 96.4 74.0 93.4Q76.3 90.3 78.5 91.4Q80.7 92.5 82.3 95.4Q83.9 98.2 82.2 101.9Q80.5 105.7 78.1 108.0Z" opacity="0.41" stroke="#000" stroke-opacity="0.4" stroke-width="1"/><path d="M63.8 54.5Q60.9 56.2 59.0 53.5Q57.0 50.7 57.8 46.8Q58.6 42.9 61.6 40.6Q64.5 38.3 67.4 39.5Q70.2 40.7 70.5 44.3Q70.7 47.9 68.7 50.4Q66.7 52.9 63.8 54.5Z" opacity="0.79" stroke="#000" stroke-opacity="0.4" stroke-width="1"/><path d="M12.5 69.9Q13.6 72.2 12.0 74.3Q10.4 76.4 7.0 76.2Q3.6 76.0 2.0 74.1Q0.3 72.3 -0.2 70.0Q-0.6 67.8 2.3 67.2Q5.2 66.6 8.2 67.1Q11.3 67.5 12.5 69.9Z" opacity="0.82" stroke="#000" stroke-opacity="0.4" stroke-width="1"/><path d="M41.3 5.4Q42.5 8.2 39.6 9.3Q36.7 10.5 32.4 10.5Q28.1 10.5 25.9 7.4Q23.7 4.3 25.0 2.3Q26.4 0.3 29.5 -0.9Q32.6 -2.0 36.3 0.3Q40.0 2.6 41.3 5.4Z" opacity="0.93" stroke="#000" stroke-opacity="0.4" stroke-width="1"/><path d="M112.9 21.1Q114.4 23.9 112.3 26.2Q110.1 28.5 106.3 28.6Q102.5 28.7 99.9 26.3Q97.4 23.8 98.2 21.0Q99.1 18.2 102.1 17.2Q105.1 16.1 108.3 17.3Q111.5 18.4 112.9 21.1Z" opacity="0.89" stroke="#000" stroke-opacity="0.4" stroke-width="1"/><path d="M48.8 31.4Q45.8 32.2 44.1 29.7Q42.5 27.3 42.5 24.2Q42.5 21.1 44.8 19.5Q47.2 18.0 49.5 18.6Q51.9 19.2 52.7 21.8Q53.6 24.4 52.6 27.5Q51.7 30.5 48.8 31.4Z" opacity="0.97" stroke="#000" stroke-opacity="0.4" stroke-width="1"/><path d="M62.7 16.3Q63.0 19.4 59.9 19.2Q56.8 19.1 54.0 16.6Q51.3 14.1 50.0 11.1Q48.7 8.0 50.5 6.7Q52.2 5.4 55.3 6.0Q58.4 6.6 60.4 9.8Q62.4 13.1 62.7 16.3Z" opacity="0.97" stroke="#000" stroke-opacity="0.4" stroke-width="1"/><path d="M22.6 61.7Q20.2 63.7 18.6 60.9Q17.0 58.1 16.7 54.1Q16.4 50.2 18.6 47.1Q20.8 44.0 23.5 44.1Q26.2 44.2 27.0 48.2Q27.8 52.2 26.4 55.9Q25.1 59.6 22.6 61.7Z" opacity="0.91" stroke="#000" stroke-opacity="0.4" stroke-width="1"/><path d="M18.2 9.8Q18.0 12.0 16.1 13.2Q14.1 14.4 10.6 12.0Q7.1 9.7 5.5 6.4Q4.0 3.0 5.8 1.4Q7.5 -0.1 10.6 1.4Q13.7 2.9 16.1 5.3Q18.4 7.6 18.2 9.8Z" opacity="0.97" stroke="#000" stroke-opacity="0.4" stroke-width="1"/><path d="M33.6 37.7Q34.7 40.8 31.4 41.4Q28.1 41.9 24.8 40.9Q21.6 39.9 19.6 37.3Q17.6 34.7 18.9 32.6Q20.1 30.5 23.3 30.2Q26.5 29.9 29.5 32.3Q32.5 34.6 33.6 37.7Z" opacity="0.95" stroke="#000" stroke-opacity="0.4" stroke-width="1"/><path d="M30.1 79.8Q27.9 82.7 24.9 80.7Q21.9 78.7 19.8 75.0Q17.6 71.3 18.8 67.4Q20.0 63.6 22.8 63.8Q25.6 64.1 28.6 65.9Q31.6 67.7 31.9 72.3Q32.2 77.0 30.1 79.8Z" opacity="0.77" stroke="#000" stroke-opacity="0.4" stroke-width="1"/><path d="M81.0 16.8Q78.7 17.4 76.7 16.4Q74.7 15.4 74.2 11.2Q73.6 7.0 75.4 4.6Q77.2 2.1 79.2 1.6Q81.2 1.1 82.2 4.4Q83.3 7.7 83.2 11.9Q83.2 16.1 81.0 16.8Z" opacity="0.90" stroke="#000" stroke-opacity="0.4" stroke-width="1"/><path d="M45.2 67.1Q43.9 69.0 41.7 68.4Q39.5 67.7 36.9 64.4Q34.4 61.0 34.7 57.2Q35.0 53.3 37.4 53.5Q39.7 53.6 42.5 55.2Q45.3 56.7 45.8 60.9Q46.4 65.2 45.2 67.1Z" opacity="0.77" stroke="#000" stroke-opacity="0.4" stroke-width="1"/><path d="M105.6 68.3Q103.5 68.1 102.2 66.2Q100.9 64.4 103.3 61.3Q105.7 58.2 108.7 56.1Q111.6 54.1 113.4 55.6Q115.2 57.2 114.0 60.5Q112.8 63.8 110.3 66.1Q107.8 68.5 105.6 68.3Z" opacity="0.55" stroke="#000" stroke-opacity="0.4" stroke-width="1"/><path d="M87.8 47.7Q88.4 50.0 86.8 52.0Q85.3 54.0 81.8 53.0Q78.3 51.9 76.4 49.6Q74.5 47.2 75.4 45.0Q76.2 42.7 79.2 42.6Q82.2 42.4 84.7 43.9Q87.2 45.5 87.8 47.7Z" opacity="0.65" stroke="#000" stroke-opacity="0.4" stroke-width="1"/><path d="M32.1 94.0Q29.6 94.5 28.0 92.5Q26.3 90.6 27.7 86.5Q29.1 82.3 31.6 79.6Q34.1 76.8 36.7 77.2Q39.3 77.5 39.4 81.7Q39.6 86.0 37.1 89.7Q34.6 93.4 32.1 94.0Z" opacity="0.76" stroke="#000" stroke-opacity="0.4" stroke-width="1"/><path d="M8.0 14.8Q8.5 17.2 6.2 18.1Q3.9 18.9 0.4 17.7Q-3.0 16.5 -4.8 13.4Q-6.5 10.3 -5.1 8.1Q-3.6 6.0 -0.2 6.7Q3.3 7.3 5.4 9.8Q7.6 12.4 8.0 14.8Z" opacity="0.97" stroke="#000" stroke-opacity="0.4" stroke-width="1"/><path d="M58.5 30.7Q55.9 29.8 55.6 27.1Q55.2 24.5 57.4 21.9Q59.7 19.4 62.9 18.6Q66.0 17.8 67.4 19.8Q68.8 21.8 67.7 24.6Q66.6 27.4 63.8 29.5Q61.0 31.7 58.5 30.7Z" stroke="#000" stroke-opacity="0.4" stroke-width="1"/><path d="M17.6 29.0Q16.2 31.5 13.7 31.8Q11.2 32.2 8.3 30.8Q5.4 29.4 4.8 26.2Q4.2 23.0 6.3 21.3Q8.3 19.6 11.4 20.2Q14.4 20.8 16.7 23.7Q18.9 26.5 17.6 29.0Z" stroke="#000" stroke-opacity="0.4" stroke-width="1"/><path d="M14.4 114.1Q12.4 115.4 10.4 114.2Q8.3 113.0 8.1 109.2Q7.9 105.4 9.4 102.3Q10.9 99.1 13.3 99.2Q15.8 99.3 17.0 102.6Q18.3 105.9 17.3 109.3Q16.3 112.7 14.4 114.1Z" opacity="0.76" stroke="#000" stroke-opacity="0.4" stroke-width="1"/><path d="M59.0 41.7Q55.9 41.0 56.2 37.8Q56.5 34.6 59.4 32.1Q62.2 29.6 65.2 29.1Q68.2 28.6 70.6 30.0Q72.9 31.3 71.2 34.8Q69.6 38.3 65.8 40.3Q62.1 42.3 59.0 41.7Z" opacity="0.98" stroke="#000" stroke-opacity="0.4" stroke-width="1"/><path d="M-1.7 65.8Q-4.2 66.0 -5.6 63.8Q-7.0 61.7 -4.8 57.7Q-2.7 53.6 0.6 50.5Q3.9 47.4 5.7 49.4Q7.6 51.4 7.2 55.3Q6.8 59.1 3.8 62.3Q0.8 65.6 -1.7 65.8Z" opacity="0.81" stroke="#000" stroke-opacity="0.4" stroke-width="1"/><path d="M96.9 16.2Q93.6 16.4 92.1 13.5Q90.6 10.6 91.7 6.9Q92.7 3.3 95.7 2.5Q98.8 1.7 100.9 2.8Q103.1 3.9 104.1 6.9Q105.0 9.9 102.6 12.9Q100.2 15.9 96.9 16.2Z" opacity="0.86" stroke="#000" stroke-opacity="0.4" stroke-width="1"/><path d="M117.5 111.6Q117.0 114.4 114.5 115.3Q111.9 116.1 108.9 115.1Q105.9 114.0 104.0 111.3Q102.0 108.6 103.2 106.2Q104.3 103.7 107.8 104.1Q111.3 104.6 114.6 106.7Q118.0 108.7 117.5 111.6Z" opacity="0.33" stroke="#000" stroke-opacity="0.4" stroke-width="1"/><path d="M4.0 36.1Q3.8 39.3 0.8 39.8Q-2.3 40.4 -5.5 38.8Q-8.8 37.3 -9.9 34.2Q-11.0 31.2 -9.9 28.5Q-8.7 25.9 -5.2 27.3Q-1.8 28.7 1.2 30.9Q4.1 33.0 4.0 36.1Z" opacity="0.97" stroke="#000" stroke-opacity="0.4" stroke-width="1"/><path d="M35.3 103.3Q32.6 104.5 30.9 102.1Q29.2 99.7 31.0 95.7Q32.7 91.7 35.5 89.6Q38.3 87.6 40.2 89.0Q42.1 90.3 42.6 93.5Q43.2 96.7 40.6 99.5Q38.0 102.2 35.3 103.3Z" opacity="0.72" stroke="#000" stroke-opacity="0.4" stroke-width="1"/><path d="M108.5 100.6Q105.5 101.4 103.4 99.1Q101.3 96.9 101.1 93.3Q100.8 89.7 103.7 88.4Q106.6 87.1 109.5 86.8Q112.5 86.6 113.6 90.0Q114.6 93.3 113.1 96.5Q111.5 99.7 108.5 100.6Z" opacity="0.39" stroke="#000" stroke-opacity="0.4" stroke-width="1"/><path d="M72.9 70.4Q70.5 70.0 69.8 67.6Q69.1 65.2 70.9 62.2Q72.6 59.2 75.7 57.7Q78.7 56.2 80.8 57.8Q82.8 59.4 81.9 62.8Q81.0 66.2 78.2 68.5Q75.4 70.9 72.9 70.4Z" opacity="0.62" stroke="#000" stroke-opacity="0.4" stroke-width="1"/><path d="M48.4 103.1Q45.6 104.8 45.2 101.6Q44.8 98.3 46.3 94.6Q47.7 90.9 50.2 88.9Q52.6 87.0 54.4 87.6Q56.2 88.3 56.5 91.6Q56.7 95.0 54.0 98.2Q51.3 101.4 48.4 103.1Z" opacity="0.63" stroke="#000" stroke-opacity="0.4" stroke-width="1"/><path d="M71.9 97.9Q71.8 101.1 69.4 103.0Q67.0 104.9 63.0 103.6Q59.1 102.3 56.9 99.6Q54.7 96.8 56.0 94.6Q57.3 92.4 60.5 91.8Q63.7 91.1 67.8 92.9Q72.0 94.7 71.9 97.9Z" opacity="0.57" stroke="#000" stroke-opacity="0.4" stroke-width="1"/><path d="M87.1 26.6Q84.7 29.2 82.0 26.9Q79.2 24.6 78.9 20.9Q78.5 17.2 79.8 14.0Q81.1 10.9 83.8 11.3Q86.5 11.8 88.7 14.1Q90.9 16.4 90.2 20.2Q89.5 24.0 87.1 26.6Z" opacity="0.91" stroke="#000" stroke-opacity="0.4" stroke-width="1"/><path d="M73.5 79.3Q71.8 80.8 69.4 80.6Q67.0 80.4 66.3 76.9Q65.6 73.4 66.5 70.8Q67.3 68.3 69.3 67.9Q71.3 67.5 73.2 69.5Q75.0 71.5 75.1 74.6Q75.2 77.8 73.5 79.3Z" opacity="0.61" stroke="#000" stroke-opacity="0.4" stroke-width="1"/><path d="M47.4 55.6Q44.8 54.1 45.6 51.2Q46.5 48.3 50.2 46.9Q54.0 45.4 57.3 46.1Q60.6 46.7 61.7 49.1Q62.9 51.5 60.2 54.0Q57.5 56.5 53.7 56.8Q49.9 57.1 47.4 55.6Z" opacity="0.78" stroke="#000" stroke-opacity="0.4" stroke-width="1"/><path d="M23.3 95.5Q24.6 98.2 22.3 100.1Q20.1 102.0 16.8 101.0Q13.4 100.1 10.9 98.2Q8.4 96.4 9.6 94.3Q10.8 92.3 13.4 90.8Q15.9 89.4 19.0 91.1Q22.1 92.9 23.3 95.5Z" opacity="0.69" stroke="#000" stroke-opacity="0.4" stroke-width="1"/><path d="M35.2 77.7Q33.1 75.4 33.2 72.3Q33.3 69.1 37.5 67.0Q41.8 64.9 46.1 65.4Q50.4 65.9 50.9 68.9Q51.4 72.0 48.4 74.4Q45.4 76.8 41.3 78.4Q37.2 80.0 35.2 77.7Z" opacity="0.65" stroke="#000" stroke-opacity="0.4" stroke-width="1"/><path d="M5.9 109.6Q7.1 112.6 4.1 113.4Q1.1 114.1 -2.8 112.2Q-6.8 110.4 -9.6 107.0Q-12.4 103.6 -10.7 101.4Q-9.0 99.2 -4.9 100.1Q-0.8 101.1 2.0 103.9Q4.8 106.7 5.9 109.6Z" opacity="0.80" stroke="#000" stroke-opacity="0.4" stroke-width="1"/><path d="M98.2 95.7Q97.0 98.6 93.9 98.2Q90.8 97.8 89.1 95.5Q87.3 93.3 86.9 90.2Q86.5 87.1 89.3 86.0Q92.2 84.9 95.2 85.7Q98.3 86.5 98.9 89.7Q99.5 92.9 98.2 95.7Z" opacity="0.38" stroke="#000" stroke-opacity="0.4" stroke-width="1"/><path d="M50.0 75.8Q47.4 75.4 47.4 72.7Q47.5 70.1 50.1 67.6Q52.6 65.1 55.3 65.2Q58.0 65.3 59.4 66.7Q60.8 68.1 60.0 70.9Q59.2 73.7 55.9 75.0Q52.6 76.3 50.0 75.8Z" opacity="0.62" stroke="#000" stroke-opacity="0.4" stroke-width="1"/><path d="M38.5 55.9Q37.0 58.2 34.7 56.6Q32.5 55.1 31.1 51.4Q29.7 47.8 30.7 44.5Q31.7 41.1 34.0 39.9Q36.4 38.8 38.6 42.2Q40.7 45.7 40.4 49.6Q40.0 53.6 38.5 55.9Z" opacity="0.90" stroke="#000" stroke-opacity="0.4" stroke-width="1"/><path d="M36.9 89.0Q34.5 87.0 35.9 84.2Q37.2 81.5 41.6 80.6Q46.0 79.8 49.4 80.4Q52.8 81.1 53.4 83.3Q54.0 85.6 51.5 88.3Q49.0 91.1 44.1 91.1Q39.2 91.1 36.9 89.0Z" opacity="0.73" stroke="#000" stroke-opacity="0.4" stroke-width="1"/><path d="M114.2 82.3Q111.4 82.9 108.4 82.5Q105.5 82.1 105.2 78.7Q105.0 75.2 106.5 72.6Q108.1 70.0 110.8 70.3Q113.5 70.7 115.3 72.8Q117.1 74.9 117.1 78.3Q117.1 81.6 114.2 82.3Z" opacity="0.49" stroke="#000" stroke-opacity="0.4" stroke-width="1"/><path d="M8.8 4.1Q6.8 5.9 5.0 3.8Q3.2 1.6 2.4 -1.8Q1.6 -5.2 3.3 -8.1Q5.0 -11.1 7.1 -10.1Q9.2 -9.1 11.0 -6.9Q12.7 -4.7 11.8 -1.2Q10.9 2.3 8.8 4.1Z" opacity="0.89" stroke="#000" stroke-opacity="0.4" stroke-width="1"/><path d="M42.7 6.9Q40.4 5.4 41.5 2.9Q42.6 0.3 46.5 -1.2Q50.3 -2.7 54.6 -2.5Q58.9 -2.4 58.8 0.3Q58.6 3.0 56.1 5.7Q53.6 8.4 49.4 8.3Q45.1 8.3 42.7 6.9Z" stroke="#000" stroke-opacity="0.4" stroke-width="1"/><path d="M76.2 90.8Q74.4 88.1 75.9 85.2Q77.4 82.4 80.6 81.4Q83.8 80.5 86.7 82.0Q89.6 83.6 89.4 86.6Q89.3 89.6 87.2 91.8Q85.0 94.1 81.5 93.8Q78.0 93.6 76.2 90.8Z" opacity="0.39" stroke="#000" stroke-opacity="0.4" stroke-width="1"/><path d="M111.0 55.9Q108.1 56.7 106.5 54.4Q104.9 52.0 104.7 49.0Q104.5 46.0 106.4 43.0Q108.3 40.0 110.8 41.4Q113.3 42.8 114.7 45.4Q116.1 48.1 115.0 51.6Q113.9 55.1 111.0 55.9Z" opacity="0.63" stroke="#000" stroke-opacity="0.4" stroke-width="1"/><path d="M66.2 118.0Q63.6 119.7 61.6 117.4Q59.6 115.0 58.9 111.8Q58.2 108.5 59.8 105.9Q61.5 103.3 63.8 103.6Q66.2 103.9 68.2 106.2Q70.2 108.5 69.4 112.4Q68.7 116.2 66.2 118.0Z" opacity="0.62" stroke="#000" stroke-opacity="0.4" stroke-width="1"/><path d="M91.8 109.2Q90.2 111.1 87.7 111.0Q85.2 110.9 83.0 107.8Q80.8 104.8 81.8 101.8Q82.8 98.9 84.8 97.1Q86.8 95.4 88.9 98.3Q91.0 101.2 92.2 104.3Q93.4 107.3 91.8 109.2Z" opacity="0.42" stroke="#000" stroke-opacity="0.4" stroke-width="1"/><path d="M100.8 112.2Q98.0 112.7 95.9 111.0Q93.9 109.3 93.3 106.1Q92.7 102.9 95.0 100.9Q97.4 99.0 99.9 99.4Q102.4 99.9 103.9 102.4Q105.4 104.9 104.6 108.3Q103.7 111.7 100.8 112.2Z" opacity="0.34" stroke="#000" stroke-opacity="0.4" stroke-width="1"/><path d="M110.8 -1.6Q112.0 0.4 109.9 1.5Q107.8 2.6 103.8 2.6Q99.7 2.6 97.7 0.1Q95.7 -2.5 96.1 -4.3Q96.6 -6.2 99.8 -6.8Q103.1 -7.4 106.3 -5.5Q109.6 -3.6 110.8 -1.6Z" opacity="0.81" stroke="#000" stroke-opacity="0.4" stroke-width="1"/><path d="M25.6 -3.3Q27.3 -1.0 25.1 0.6Q22.8 2.1 18.6 1.3Q14.5 0.5 12.4 -2.0Q10.4 -4.4 11.3 -6.2Q12.3 -8.0 15.1 -8.8Q18.0 -9.6 20.9 -7.6Q23.8 -5.6 25.6 -3.3Z" opacity="0.82" stroke="#000" stroke-opacity="0.4" stroke-width="1"/><path d="M35.8 115.3Q33.4 116.9 30.5 115.8Q27.7 114.7 27.4 111.4Q27.2 108.1 28.0 104.7Q28.8 101.2 32.1 101.2Q35.3 101.2 37.6 104.0Q39.9 106.7 39.1 110.2Q38.3 113.7 35.8 115.3Z" opacity="0.68" stroke="#000" stroke-opacity="0.4" stroke-width="1"/><path d="M76.8 15.6Q77.6 19.0 74.4 20.4Q71.2 21.8 67.0 21.7Q62.8 21.6 60.7 18.5Q58.7 15.5 59.4 12.9Q60.1 10.3 63.7 8.9Q67.2 7.6 71.6 9.9Q75.9 12.2 76.8 15.6Z" opacity="0.94" stroke="#000" stroke-opacity="0.4" stroke-width="1"/><path d="M17.2 57.4Q17.9 59.4 16.3 60.8Q14.8 62.3 11.9 61.3Q9.0 60.3 7.1 58.5Q5.2 56.6 6.0 54.9Q6.7 53.2 9.3 52.9Q11.8 52.6 14.2 54.0Q16.6 55.5 17.2 57.4Z" opacity="0.93" stroke="#000" stroke-opacity="0.4" stroke-width="1"/><path d="M3.1 7.8Q2.7 11.1 -0.5 10.3Q-3.7 9.5 -6.7 6.8Q-9.6 4.2 -9.1 0.9Q-8.6 -2.3 -6.9 -4.8Q-5.3 -7.3 -2.0 -4.9Q1.2 -2.5 2.3 1.0Q3.5 4.5 3.1 7.8Z" opacity="0.77" stroke="#000" stroke-opacity="0.4" stroke-width="1"/><path d="M76.9 37.3Q74.4 38.1 72.9 35.9Q71.5 33.7 72.8 29.6Q74.0 25.5 76.8 22.8Q79.5 20.2 81.9 21.0Q84.4 21.8 84.4 25.9Q84.5 29.9 82.0 33.2Q79.5 36.6 76.9 37.3Z" opacity="0.81" stroke="#000" stroke-opacity="0.4" stroke-width="1"/><path d="M40.9 42.8Q39.2 40.7 40.4 38.4Q41.6 36.1 44.4 34.8Q47.3 33.6 50.1 34.4Q53.0 35.2 53.8 37.6Q54.6 40.0 52.1 42.1Q49.7 44.2 46.1 44.5Q42.6 44.9 40.9 42.8Z" opacity="0.97" stroke="#000" stroke-opacity="0.4" stroke-width="1"/><path d="M21.4 70.8Q19.8 73.0 17.1 73.8Q14.5 74.5 11.7 72.2Q8.9 69.9 8.9 66.5Q8.9 63.0 11.5 62.2Q14.0 61.3 16.7 62.0Q19.4 62.6 21.2 65.6Q23.0 68.5 21.4 70.8Z" opacity="0.84" stroke="#000" stroke-opacity="0.4" stroke-width="1"/><path d="M11.2 53.8Q8.5 54.5 6.6 52.3Q4.7 50.0 6.1 45.7Q7.4 41.3 10.7 38.6Q13.9 36.0 16.6 37.3Q19.4 38.6 19.0 42.7Q18.6 46.9 16.3 50.0Q14.0 53.0 11.2 53.8Z" opacity="0.94" stroke="#000" stroke-opacity="0.4" stroke-width="1"/></g>
<g id="rn2"><ellipse cx="91.5" cy="61" rx="5" ry="4.2" transform="rotate(6 91.5 61)"/><ellipse cx="95.4" cy="80.1" rx="5.5" ry="3.7" transform="rotate(129 95.4 80.1)"/><ellipse cx="60.3" cy="-3.7" rx="5" ry="3.5" transform="rotate(116 60.3 -3.7)"/><ellipse cx="30" cy="20.4" rx="5.1" ry="4" transform="rotate(93 30 20.4)" opacity="0.37"/><ellipse cx="77.4" cy="99.7" rx="5.1" ry="3.8" transform="rotate(98 77.4 99.7)"/><ellipse cx="64.3" cy="47.3" rx="4.4" ry="4.4" transform="rotate(111 64.3 47.3)" opacity="0.58"/><ellipse cx="6" cy="71.1" rx="3.8" ry="3.6" transform="rotate(7 6 71.1)"/><ellipse cx="32.9" cy="4.8" rx="5.6" ry="4.2" transform="rotate(19 32.9 4.8)"/><ellipse cx="105.7" cy="22.3" rx="4.3" ry="4.3" transform="rotate(10 105.7 22.3)"/><ellipse cx="48" cy="24.4" rx="4.1" ry="4.5" transform="rotate(105 48 24.4)"/><ellipse cx="55.9" cy="12.1" rx="4.8" ry="3.7" transform="rotate(45 55.9 12.1)"/><ellipse cx="21.9" cy="53.4" rx="5.6" ry="4.3" transform="rotate(99 21.9 53.4)"/><ellipse cx="12.3" cy="7" rx="4.7" ry="3.4" transform="rotate(40 12.3 7)"/><ellipse cx="25.6" cy="36.1" rx="5" ry="4.3" transform="rotate(27 25.6 36.1)"/><ellipse cx="25.2" cy="71.9" rx="5.3" ry="4.5" transform="rotate(75 25.2 71.9)" opacity="0.63"/><ellipse cx="78.9" cy="9.4" rx="4.9" ry="3.4" transform="rotate(91 78.9 9.4)"/><ellipse cx="40.8" cy="61.2" rx="5.3" ry="3.6" transform="rotate(68 40.8 61.2)"/><ellipse cx="108.1" cy="62.4" rx="4.7" ry="3.5" transform="rotate(128 108.1 62.4)"/><ellipse cx="81.9" cy="47.5" rx="4.3" ry="3.9" transform="rotate(20 81.9 47.5)"/><ellipse cx="32.9" cy="86.1" rx="5.5" ry="3.9" transform="rotate(111 32.9 86.1)"/><ellipse cx="1.9" cy="12.8" rx="4.6" ry="3.8" transform="rotate(33 1.9 12.8)"/><ellipse cx="61.9" cy="24.6" rx="4.5" ry="4.1" transform="rotate(139 61.9 24.6)" opacity="0.47"/><ellipse cx="11.2" cy="26.3" rx="4.2" ry="4.2" transform="rotate(46 11.2 26.3)" opacity="0.57"/><ellipse cx="12.9" cy="107.6" rx="4.5" ry="3.5" transform="rotate(93 12.9 107.6)"/><ellipse cx="63.9" cy="34.7" rx="4.7" ry="3.9" transform="rotate(142 63.9 34.7)"/><ellipse cx="0.5" cy="58.2" rx="5.6" ry="3.9" transform="rotate(121 0.5 58.2)"/><ellipse cx="97.9" cy="8.4" rx="4.5" ry="4.6" transform="rotate(118 97.9 8.4)" opacity="0.66"/><ellipse cx="110.1" cy="110.3" rx="4.4" ry="4.1" transform="rotate(30 110.1 110.3)" opacity="0.39"/><ellipse cx="-3.6" cy="33.6" rx="4.6" ry="4.2" transform="rotate(37 -3.6 33.6)"/><ellipse cx="36.8" cy="96" rx="5.1" ry="4" transform="rotate(116 36.8 96)"/><ellipse cx="107.5" cy="93.4" rx="4.1" ry="4.5" transform="rotate(104 107.5 93.4)"/><ellipse cx="75.5" cy="64.1" rx="4.9" ry="4.1" transform="rotate(130 75.5 64.1)"/><ellipse cx="50.7" cy="94.7" rx="5.3" ry="3.4" transform="rotate(117 50.7 94.7)" opacity="0.35"/><ellipse cx="63.2" cy="97.5" rx="5.2" ry="4.6" transform="rotate(22 63.2 97.5)"/><ellipse cx="84.3" cy="18.7" rx="4.9" ry="4.6" transform="rotate(87 84.3 18.7)"/><ellipse cx="70.5" cy="74.1" rx="4.3" ry="3.8" transform="rotate(78 70.5 74.1)"/><ellipse cx="53.8" cy="51.4" rx="5.4" ry="4.6" transform="rotate(163 53.8 51.4)" opacity="0.43"/><ellipse cx="16.1" cy="95.9" rx="4.2" ry="3.8" transform="rotate(15 16.1 95.9)" opacity="0.56"/><ellipse cx="41.8" cy="72.3" rx="5.3" ry="4.5" transform="rotate(160 41.8 72.3)"/><ellipse cx="-1.9" cy="106.9" rx="5.5" ry="4" transform="rotate(32 -1.9 106.9)" opacity="0.60"/><ellipse cx="92.9" cy="91.7" rx="3.8" ry="4.6" transform="rotate(59 92.9 91.7)"/><ellipse cx="54.2" cy="70.4" rx="4.3" ry="3.6" transform="rotate(143 54.2 70.4)"/><ellipse cx="35.4" cy="49" rx="5.1" ry="3.7" transform="rotate(80 35.4 49)"/><ellipse cx="45" cy="84.9" rx="5.6" ry="4.1" transform="rotate(168 45 84.9)"/><ellipse cx="111.2" cy="76.6" rx="4" ry="4.5" transform="rotate(88 111.2 76.6)" opacity="0.66"/><ellipse cx="7.1" cy="-2.9" rx="4.6" ry="3.7" transform="rotate(92 7.1 -2.9)"/><ellipse cx="49.6" cy="3" rx="5.6" ry="4.1" transform="rotate(165 49.6 3)"/><ellipse cx="82.7" cy="87.3" rx="4" ry="4.6" transform="rotate(175 82.7 87.3)"/><ellipse cx="109.7" cy="48.7" rx="4.2" ry="4.2" transform="rotate(101 109.7 48.7)"/><ellipse cx="63.8" cy="110.5" rx="4.5" ry="4.1" transform="rotate(91 63.8 110.5)"/><ellipse cx="87.4" cy="104.3" rx="4.3" ry="3.9" transform="rotate(67 87.4 104.3)"/><ellipse cx="99" cy="105.7" rx="4" ry="4.4" transform="rotate(98 99 105.7)" opacity="0.46"/><ellipse cx="103.8" cy="-2" rx="5.3" ry="3.4" transform="rotate(16 103.8 -2)"/><ellipse cx="18.3" cy="-4" rx="4.8" ry="3.5" transform="rotate(18 18.3 -4)"/><ellipse cx="32.8" cy="109.2" rx="4.3" ry="4.6" transform="rotate(85 32.8 109.2)"/><ellipse cx="67.3" cy="15.6" rx="5.5" ry="4.6" transform="rotate(18 67.3 15.6)"/><ellipse cx="11.7" cy="57" rx="4.2" ry="3.4" transform="rotate(20 11.7 57)"/><ellipse cx="-2.8" cy="2.5" rx="4.9" ry="4.3" transform="rotate(57 -2.8 2.5)"/><ellipse cx="78.1" cy="29.7" rx="5" ry="3.6" transform="rotate(113 78.1 29.7)"/><ellipse cx="46.8" cy="39" rx="4.1" ry="3.9" transform="rotate(167 46.8 39)"/><ellipse cx="15.6" cy="67.4" rx="4.1" ry="4.3" transform="rotate(53 15.6 67.4)"/><ellipse cx="12.4" cy="46.3" rx="5.3" ry="4.4" transform="rotate(115 12.4 46.3)"/></g>
<g id="rg2"><ellipse cx="91.5" cy="61" rx="5" ry="4.2" transform="rotate(6 91.5 61)" opacity="0.62"/><ellipse cx="60.3" cy="-3.7" rx="5" ry="3.5" transform="rotate(116 60.3 -3.7)" opacity="0.79"/><ellipse cx="30" cy="20.4" rx="5.1" ry="4" transform="rotate(93 30 20.4)" opacity="0.92"/><ellipse cx="48" cy="24.4" rx="4.1" ry="4.5" transform="rotate(105 48 24.4)" opacity="0.59"/><ellipse cx="55.9" cy="12.1" rx="4.8" ry="3.7" transform="rotate(45 55.9 12.1)" opacity="0.82"/><ellipse cx="21.9" cy="53.4" rx="5.6" ry="4.3" transform="rotate(99 21.9 53.4)" opacity="0.75"/><ellipse cx="12.3" cy="7" rx="4.7" ry="3.4" transform="rotate(40 12.3 7)" opacity="0.91"/><ellipse cx="32.9" cy="86.1" rx="5.5" ry="3.9" transform="rotate(111 32.9 86.1)" opacity="0.59"/><ellipse cx="11.2" cy="26.3" rx="4.2" ry="4.2" transform="rotate(46 11.2 26.3)" opacity="0.87"/><ellipse cx="63.9" cy="34.7" rx="4.7" ry="3.9" transform="rotate(142 63.9 34.7)" opacity="0.78"/><ellipse cx="53.8" cy="51.4" rx="5.4" ry="4.6" transform="rotate(163 53.8 51.4)" opacity="0.96"/><ellipse cx="41.8" cy="72.3" rx="5.3" ry="4.5" transform="rotate(160 41.8 72.3)" opacity="0.91"/><ellipse cx="54.2" cy="70.4" rx="4.3" ry="3.6" transform="rotate(143 54.2 70.4)" opacity="0.85"/><ellipse cx="35.4" cy="49" rx="5.1" ry="3.7" transform="rotate(80 35.4 49)" opacity="0.66"/><ellipse cx="67.3" cy="15.6" rx="5.5" ry="4.6" transform="rotate(18 67.3 15.6)" opacity="0.81"/><ellipse cx="11.7" cy="57" rx="4.2" ry="3.4" transform="rotate(20 11.7 57)" opacity="0.93"/><ellipse cx="78.1" cy="29.7" rx="5" ry="3.6" transform="rotate(113 78.1 29.7)" opacity="0.76"/><ellipse cx="15.6" cy="67.4" rx="4.1" ry="4.3" transform="rotate(53 15.6 67.4)" opacity="0.71"/><ellipse cx="12.4" cy="46.3" rx="5.3" ry="4.4" transform="rotate(115 12.4 46.3)" opacity="0.62"/></g>
<g id="rc3"><path d="M47.1 89.6Q47.2 92.8 43.9 93.4Q40.7 93.9 36.7 92.3Q32.7 90.8 31.2 87.3Q29.8 83.9 30.8 81.2Q31.9 78.6 36.1 79.1Q40.3 79.6 43.6 83.0Q47.0 86.3 47.1 89.6Z" opacity="0.88" stroke="#000" stroke-opacity="0.4" stroke-width="1"/><path d="M113.1 53.9Q111.5 55.4 109.0 55.5Q106.5 55.6 105.8 52.6Q105.2 49.6 105.4 46.6Q105.5 43.6 108.0 43.3Q110.6 43.1 112.3 45.1Q114.0 47.1 114.4 49.7Q114.8 52.4 113.1 53.9Z" opacity="0.77" stroke="#000" stroke-opacity="0.4" stroke-width="1"/><path d="M102.1 96.3Q99.9 93.9 101.3 91.0Q102.6 88.1 106.4 86.7Q110.1 85.2 114.0 86.0Q117.9 86.8 118.7 89.9Q119.5 93.0 116.4 95.6Q113.2 98.2 108.8 98.5Q104.3 98.8 102.1 96.3Z" opacity="0.60" stroke="#000" stroke-opacity="0.4" stroke-width="1"/><path d="M59.3 68.1Q56.5 68.1 56.7 65.3Q56.9 62.5 58.6 58.8Q60.3 55.1 63.4 54.7Q66.4 54.2 68.3 55.0Q70.2 55.8 69.1 59.1Q68.1 62.4 65.1 65.2Q62.0 68.0 59.3 68.1Z" opacity="0.84" stroke="#000" stroke-opacity="0.4" stroke-width="1"/><path d="M19.9 69.9Q20.4 72.6 18.5 74.9Q16.5 77.1 13.2 75.5Q9.9 73.9 7.4 71.9Q4.8 69.8 5.7 67.2Q6.7 64.6 10.0 63.9Q13.4 63.2 16.4 65.2Q19.4 67.1 19.9 69.9Z" opacity="0.83" stroke="#000" stroke-opacity="0.4" stroke-width="1"/><path d="M69.6 85.5Q67.4 85.0 66.9 82.9Q66.3 80.8 68.9 77.7Q71.4 74.7 74.7 73.9Q78.0 73.2 79.0 75.1Q79.9 76.9 79.0 79.8Q78.1 82.6 74.9 84.3Q71.7 85.9 69.6 85.5Z" opacity="0.75" stroke="#000" stroke-opacity="0.4" stroke-width="1"/><path d="M59.7 50.4Q57.4 50.3 56.1 48.5Q54.9 46.7 55.0 42.9Q55.2 39.2 57.8 37.4Q60.3 35.6 62.4 36.0Q64.5 36.4 64.4 39.7Q64.4 43.0 63.2 46.8Q62.0 50.5 59.7 50.4Z" opacity="0.70" stroke="#000" stroke-opacity="0.4" stroke-width="1"/><path d="M85.8 4.7Q83.8 6.3 81.7 4.8Q79.6 3.3 79.4 -1.0Q79.2 -5.3 79.9 -9.4Q80.5 -13.4 82.6 -12.6Q84.7 -11.9 86.4 -9.1Q88.1 -6.3 88.0 -1.5Q87.9 3.2 85.8 4.7Z" opacity="0.76" stroke="#000" stroke-opacity="0.4" stroke-width="1"/><path d="M66.9 108.9Q64.6 108.1 63.5 105.7Q62.4 103.3 65.2 100.3Q68.0 97.4 71.4 96.5Q74.7 95.6 75.8 97.9Q76.9 100.1 76.2 103.0Q75.5 105.9 72.4 107.8Q69.3 109.7 66.9 108.9Z" opacity="0.74" stroke="#000" stroke-opacity="0.4" stroke-width="1"/><path d="M104.2 15.0Q101.7 13.5 102.2 10.7Q102.8 7.9 105.8 5.8Q108.9 3.8 112.6 3.5Q116.3 3.2 117.3 5.8Q118.4 8.4 115.9 10.9Q113.5 13.5 110.0 15.0Q106.6 16.5 104.2 15.0Z" opacity="0.83" stroke="#000" stroke-opacity="0.4" stroke-width="1"/><path d="M113.7 23.0Q114.0 25.3 111.9 26.4Q109.9 27.5 106.8 24.7Q103.7 22.0 101.9 19.1Q100.0 16.2 101.1 14.2Q102.2 12.2 105.7 13.6Q109.3 15.0 111.4 17.8Q113.4 20.7 113.7 23.0Z" opacity="0.67" stroke="#000" stroke-opacity="0.4" stroke-width="1"/><path d="M62.8 88.4Q63.0 90.8 60.9 91.9Q58.8 92.9 56.0 91.0Q53.3 89.1 51.2 86.7Q49.1 84.3 50.5 82.5Q51.8 80.7 54.8 81.2Q57.9 81.6 60.2 83.9Q62.5 86.1 62.8 88.4Z" opacity="0.74" stroke="#000" stroke-opacity="0.4" stroke-width="1"/><path d="M8.6 14.3Q9.9 16.4 8.2 18.2Q6.4 20.0 3.7 19.9Q0.9 19.8 -0.8 18.0Q-2.5 16.2 -2.8 13.7Q-3.1 11.1 -0.2 10.4Q2.7 9.6 5.1 10.9Q7.4 12.2 8.6 14.3Z" opacity="0.77" stroke="#000" stroke-opacity="0.4" stroke-width="1"/><path d="M94.6 79.6Q92.7 80.5 90.6 79.6Q88.5 78.7 88.0 75.7Q87.4 72.8 89.0 70.4Q90.6 67.9 93.1 68.0Q95.6 68.1 97.1 70.6Q98.6 73.2 97.6 75.9Q96.6 78.6 94.6 79.6Z" opacity="0.76" stroke="#000" stroke-opacity="0.4" stroke-width="1"/><path d="M78.3 29.6Q75.6 30.6 74.8 27.8Q73.9 25.1 74.8 21.8Q75.7 18.5 78.4 15.8Q81.1 13.1 83.8 14.2Q86.6 15.3 85.8 19.2Q85.1 23.2 83.0 25.9Q81.0 28.5 78.3 29.6Z" opacity="0.69" stroke="#000" stroke-opacity="0.4" stroke-width="1"/><path d="M94.0 95.8Q94.5 98.7 91.7 99.4Q88.9 100.1 85.0 98.3Q81.1 96.6 79.7 93.3Q78.3 90.1 79.3 87.6Q80.3 85.2 84.0 86.6Q87.8 88.1 90.7 90.5Q93.5 92.9 94.0 95.8Z" opacity="0.68" stroke="#000" stroke-opacity="0.4" stroke-width="1"/><path d="M13.0 51.7Q13.3 54.2 11.3 55.6Q9.2 57.1 6.1 56.2Q3.0 55.3 2.0 52.9Q1.1 50.5 1.9 48.5Q2.6 46.6 5.1 46.6Q7.7 46.5 10.2 47.9Q12.7 49.3 13.0 51.7Z" opacity="0.79" stroke="#000" stroke-opacity="0.4" stroke-width="1"/><path d="M101.9 105.3Q100.8 107.4 98.5 108.8Q96.2 110.2 94.0 107.6Q91.8 105.0 91.3 102.3Q90.8 99.6 92.4 97.5Q94.0 95.4 97.2 96.2Q100.4 97.0 101.7 100.1Q103.0 103.2 101.9 105.3Z" opacity="0.73" stroke="#000" stroke-opacity="0.4" stroke-width="1"/><path d="M22.6 22.3Q21.5 24.8 19.2 25.9Q16.9 27.1 14.2 25.1Q11.4 23.2 10.0 20.3Q8.6 17.5 10.2 15.4Q11.7 13.3 14.9 14.2Q18.0 15.1 20.8 17.5Q23.6 19.9 22.6 22.3Z" opacity="0.84" stroke="#000" stroke-opacity="0.4" stroke-width="1"/><path d="M56.2 37.3Q54.0 39.0 51.5 37.7Q49.0 36.5 47.2 33.0Q45.3 29.5 46.8 25.9Q48.4 22.2 51.4 21.6Q54.5 21.1 57.1 24.2Q59.7 27.3 59.1 31.4Q58.5 35.5 56.2 37.3Z" opacity="0.76" stroke="#000" stroke-opacity="0.4" stroke-width="1"/><path d="M46.1 57.0Q48.1 59.0 46.2 61.0Q44.3 63.0 40.4 63.3Q36.4 63.5 33.9 61.7Q31.5 59.9 31.6 57.8Q31.7 55.8 34.5 54.4Q37.2 53.1 40.7 54.0Q44.1 54.9 46.1 57.0Z" opacity="0.91" stroke="#000" stroke-opacity="0.4" stroke-width="1"/><path d="M25.0 33.8Q24.3 36.0 22.6 37.5Q20.8 39.0 17.8 37.4Q14.7 35.8 12.7 33.2Q10.7 30.5 12.4 28.7Q14.0 26.9 17.0 27.0Q20.0 27.1 22.9 29.3Q25.7 31.6 25.0 33.8Z" opacity="0.82" stroke="#000" stroke-opacity="0.4" stroke-width="1"/><path d="M21.4 58.4Q22.5 60.4 21.2 62.2Q19.8 64.1 16.1 64.1Q12.5 64.1 9.4 62.8Q6.3 61.4 5.7 58.9Q5.2 56.4 9.2 55.8Q13.2 55.1 16.8 55.8Q20.4 56.4 21.4 58.4Z" opacity="0.89" stroke="#000" stroke-opacity="0.4" stroke-width="1"/><path d="M7.1 62.8Q7.1 66.3 3.7 67.1Q0.2 67.9 -3.6 66.2Q-7.5 64.5 -8.5 61.3Q-9.5 58.0 -7.9 56.2Q-6.3 54.3 -3.2 54.2Q-0.0 54.0 3.6 56.6Q7.1 59.3 7.1 62.8Z" opacity="0.75" stroke="#000" stroke-opacity="0.4" stroke-width="1"/><path d="M101.5 5.3Q99.1 5.1 98.7 2.6Q98.2 0.2 100.6 -2.7Q102.9 -5.6 106.1 -7.3Q109.3 -9.0 111.0 -7.3Q112.7 -5.6 110.8 -2.6Q108.9 0.5 106.5 3.1Q104.0 5.6 101.5 5.3Z" opacity="0.70" stroke="#000" stroke-opacity="0.4" stroke-width="1"/><path d="M24.5 105.9Q21.6 105.6 23.0 103.0Q24.3 100.4 26.8 97.7Q29.2 95.0 32.8 95.1Q36.4 95.1 37.5 97.2Q38.6 99.3 36.0 101.8Q33.3 104.2 30.4 105.2Q27.4 106.2 24.5 105.9Z" opacity="0.71" stroke="#000" stroke-opacity="0.4" stroke-width="1"/><path d="M35.0 48.6Q33.4 49.7 31.7 48.7Q29.9 47.7 29.8 44.6Q29.6 41.6 31.0 39.5Q32.4 37.4 34.1 37.5Q35.9 37.6 37.4 39.7Q38.9 41.8 37.8 44.7Q36.7 47.5 35.0 48.6Z" opacity="0.85" stroke="#000" stroke-opacity="0.4" stroke-width="1"/><path d="M101.7 11.8Q101.0 14.4 98.4 14.8Q95.8 15.2 93.8 13.5Q91.7 11.7 91.2 9.1Q90.7 6.5 92.6 4.8Q94.5 3.0 97.5 3.3Q100.4 3.6 101.4 6.5Q102.3 9.3 101.7 11.8Z" opacity="0.67" stroke="#000" stroke-opacity="0.4" stroke-width="1"/><path d="M98.0 98.2Q95.8 98.7 94.3 97.0Q92.9 95.4 93.3 92.6Q93.7 89.8 95.5 88.3Q97.4 86.9 99.5 86.8Q101.7 86.7 102.4 89.5Q103.2 92.3 101.7 95.0Q100.1 97.7 98.0 98.2Z" opacity="0.65" stroke="#000" stroke-opacity="0.4" stroke-width="1"/><path d="M105.1 42.6Q105.5 45.1 104.4 47.5Q103.3 50.0 100.0 49.4Q96.8 48.9 94.8 47.1Q92.8 45.2 92.5 42.6Q92.3 39.9 95.5 39.5Q98.6 39.1 101.7 39.6Q104.7 40.1 105.1 42.6Z" opacity="0.80" stroke="#000" stroke-opacity="0.4" stroke-width="1"/><path d="M45.4 -2.9Q46.8 -0.9 45.0 0.8Q43.1 2.5 40.0 2.0Q36.8 1.5 34.3 -0.2Q31.7 -1.9 32.2 -4.2Q32.7 -6.4 35.7 -7.3Q38.7 -8.1 41.3 -6.5Q44.0 -5.0 45.4 -2.9Z" opacity="0.71" stroke="#000" stroke-opacity="0.4" stroke-width="1"/><path d="M67.9 71.1Q68.9 73.2 67.5 75.1Q66.0 76.9 62.7 76.9Q59.3 76.9 56.7 75.7Q54.1 74.5 53.3 72.2Q52.5 69.9 56.1 69.2Q59.7 68.6 63.2 68.8Q66.8 69.0 67.9 71.1Z" opacity="0.78" stroke="#000" stroke-opacity="0.4" stroke-width="1"/><path d="M49.3 100.1Q47.6 102.2 44.9 101.5Q42.2 100.8 40.6 97.0Q39.0 93.3 40.3 90.0Q41.6 86.7 44.2 86.7Q46.8 86.6 49.2 88.7Q51.6 90.8 51.4 94.4Q51.1 97.9 49.3 100.1Z" opacity="0.74" stroke="#000" stroke-opacity="0.4" stroke-width="1"/><path d="M53.2 1.1Q51.3 3.1 48.3 2.9Q45.3 2.7 44.4 -0.5Q43.5 -3.7 44.3 -6.4Q45.0 -9.2 47.6 -10.2Q50.2 -11.3 52.2 -9.0Q54.3 -6.8 54.7 -3.9Q55.1 -1.0 53.2 1.1Z" opacity="0.78" stroke="#000" stroke-opacity="0.4" stroke-width="1"/><path d="M4.7 3.5Q5.7 6.0 3.9 8.1Q2.1 10.3 -1.6 10.0Q-5.2 9.8 -7.2 7.8Q-9.2 5.7 -9.6 3.2Q-9.9 0.8 -6.7 -0.4Q-3.5 -1.5 0.1 -0.3Q3.7 0.9 4.7 3.5Z" opacity="0.70" stroke="#000" stroke-opacity="0.4" stroke-width="1"/><path d="M28.1 84.1Q25.6 85.5 24.2 82.8Q22.8 80.1 22.3 76.4Q21.9 72.7 23.9 70.2Q25.8 67.7 27.9 67.8Q30.0 67.9 31.1 71.0Q32.2 74.1 31.4 78.4Q30.6 82.8 28.1 84.1Z" opacity="0.80" stroke="#000" stroke-opacity="0.4" stroke-width="1"/><path d="M69.9 57.4Q67.8 56.3 68.3 53.9Q68.8 51.5 71.3 48.8Q73.8 46.1 76.9 45.8Q80.0 45.4 81.3 46.9Q82.6 48.5 81.2 51.5Q79.9 54.5 75.9 56.5Q72.0 58.6 69.9 57.4Z" opacity="0.76" stroke="#000" stroke-opacity="0.4" stroke-width="1"/><path d="M0.6 54.0Q-1.8 55.4 -4.2 54.4Q-6.6 53.4 -7.4 49.9Q-8.1 46.4 -7.9 42.5Q-7.7 38.6 -5.1 39.4Q-2.4 40.2 -0.6 42.4Q1.3 44.6 2.1 48.6Q3.0 52.7 0.6 54.0Z" opacity="0.80" stroke="#000" stroke-opacity="0.4" stroke-width="1"/><path d="M13.3 -0.4Q13.2 1.9 10.9 1.8Q8.6 1.7 6.3 0.3Q4.0 -1.2 3.5 -3.6Q2.9 -6.1 4.3 -7.6Q5.6 -9.0 8.1 -8.2Q10.6 -7.4 12.0 -5.1Q13.5 -2.7 13.3 -0.4Z" opacity="0.77" stroke="#000" stroke-opacity="0.4" stroke-width="1"/><path d="M47.3 116.4Q45.1 115.3 44.8 113.0Q44.6 110.7 46.3 108.0Q48.0 105.3 50.9 104.9Q53.8 104.5 55.6 106.0Q57.4 107.6 56.2 110.4Q55.0 113.3 52.2 115.4Q49.5 117.6 47.3 116.4Z" opacity="0.78" stroke="#000" stroke-opacity="0.4" stroke-width="1"/><path d="M34.3 58.9Q33.3 61.2 31.1 63.0Q28.9 64.9 25.8 62.8Q22.6 60.7 22.0 57.5Q21.5 54.3 23.5 52.8Q25.6 51.3 28.3 51.4Q31.1 51.5 33.2 54.0Q35.3 56.5 34.3 58.9Z" opacity="0.91" stroke="#000" stroke-opacity="0.4" stroke-width="1"/><path d="M92.5 28.2Q90.2 26.4 91.2 23.7Q92.2 21.0 94.8 19.1Q97.3 17.2 100.3 18.1Q103.4 19.0 103.8 21.7Q104.1 24.4 102.6 26.7Q101.0 29.1 97.9 29.5Q94.8 30.0 92.5 28.2Z" opacity="0.79" stroke="#000" stroke-opacity="0.4" stroke-width="1"/><path d="M89.1 55.8Q86.8 56.3 84.8 54.7Q82.8 53.1 83.9 49.3Q84.9 45.4 87.8 43.5Q90.7 41.5 92.8 43.0Q94.9 44.4 95.3 47.5Q95.7 50.6 93.5 52.9Q91.3 55.3 89.1 55.8Z" opacity="0.73" stroke="#000" stroke-opacity="0.4" stroke-width="1"/><path d="M15.8 110.0Q14.2 108.9 13.2 106.9Q12.2 104.9 14.8 102.8Q17.3 100.7 19.9 100.8Q22.4 101.0 23.6 102.5Q24.9 104.1 23.5 106.2Q22.1 108.3 19.8 109.7Q17.4 111.2 15.8 110.0Z" opacity="0.70" stroke="#000" stroke-opacity="0.4" stroke-width="1"/><path d="M112.3 72.0Q112.3 74.7 110.1 76.1Q107.9 77.5 105.2 76.9Q102.4 76.2 100.6 73.8Q98.7 71.3 100.6 69.2Q102.4 67.1 105.0 66.4Q107.6 65.7 109.9 67.6Q112.3 69.4 112.3 72.0Z" opacity="0.80" stroke="#000" stroke-opacity="0.4" stroke-width="1"/><path d="M38.0 34.7Q35.7 34.5 34.6 32.4Q33.6 30.4 34.6 27.2Q35.7 24.0 38.8 22.1Q41.9 20.3 43.4 22.6Q44.9 24.9 45.1 27.8Q45.3 30.7 42.8 32.8Q40.2 34.9 38.0 34.7Z" opacity="0.84" stroke="#000" stroke-opacity="0.4" stroke-width="1"/><path d="M61.8 12.8Q63.5 14.9 61.7 16.8Q59.9 18.8 57.0 19.8Q54.1 20.7 51.5 19.0Q48.9 17.3 49.4 14.9Q49.8 12.4 52.0 10.5Q54.2 8.5 57.1 9.6Q60.1 10.7 61.8 12.8Z" opacity="0.67" stroke="#000" stroke-opacity="0.4" stroke-width="1"/><path d="M104.8 41.7Q102.2 40.6 101.9 37.7Q101.6 34.8 104.3 33.1Q106.9 31.3 109.9 30.9Q113.0 30.4 114.4 32.9Q115.9 35.4 114.3 38.0Q112.8 40.6 110.1 41.7Q107.3 42.8 104.8 41.7Z" opacity="0.71" stroke="#000" stroke-opacity="0.4" stroke-width="1"/><path d="M13.9 85.6Q15.3 88.4 12.5 89.9Q9.7 91.4 6.4 90.9Q3.0 90.4 1.4 87.8Q-0.3 85.1 0.7 82.7Q1.6 80.2 4.6 80.1Q7.5 80.1 10.0 81.4Q12.4 82.8 13.9 85.6Z" opacity="0.83" stroke="#000" stroke-opacity="0.4" stroke-width="1"/><path d="M84.5 42.1Q85.2 44.4 83.2 45.7Q81.2 47.0 77.7 44.8Q74.2 42.7 72.1 40.1Q70.0 37.5 71.6 36.2Q73.1 34.9 76.0 34.8Q78.8 34.8 81.3 37.2Q83.9 39.7 84.5 42.1Z" opacity="0.71" stroke="#000" stroke-opacity="0.4" stroke-width="1"/><path d="M101.4 36.6Q100.7 39.8 97.5 39.8Q94.3 39.9 91.5 38.1Q88.7 36.3 88.0 33.4Q87.4 30.6 88.7 28.3Q90.1 26.1 93.1 27.3Q96.2 28.5 99.1 31.0Q102.0 33.4 101.4 36.6Z" opacity="0.77" stroke="#000" stroke-opacity="0.4" stroke-width="1"/><path d="M84.9 71.5Q83.2 73.7 80.6 72.6Q78.0 71.6 77.0 67.6Q76.1 63.7 76.7 60.0Q77.4 56.4 80.0 55.6Q82.7 54.9 84.9 58.2Q87.0 61.5 86.8 65.3Q86.6 69.2 84.9 71.5Z" opacity="0.76" stroke="#000" stroke-opacity="0.4" stroke-width="1"/><path d="M41.3 10.3Q39.1 8.3 39.1 5.4Q39.2 2.4 41.9 0.8Q44.7 -0.8 47.5 -0.2Q50.4 0.5 52.1 3.0Q53.8 5.6 51.4 7.8Q49.0 9.9 46.3 11.0Q43.5 12.2 41.3 10.3Z" opacity="0.72" stroke="#000" stroke-opacity="0.4" stroke-width="1"/><path d="M53.6 76.1Q53.3 79.1 50.5 80.1Q47.6 81.0 43.8 79.2Q40.1 77.4 38.4 73.9Q36.7 70.3 38.7 68.4Q40.8 66.5 44.4 66.6Q48.0 66.7 50.9 69.9Q53.8 73.1 53.6 76.1Z" opacity="0.86" stroke="#000" stroke-opacity="0.4" stroke-width="1"/><path d="M24.3 3.1Q22.9 5.5 20.2 5.1Q17.5 4.7 14.5 2.2Q11.4 -0.3 11.5 -3.9Q11.6 -7.6 14.0 -8.5Q16.3 -9.4 19.1 -7.9Q21.9 -6.4 23.8 -2.9Q25.7 0.7 24.3 3.1Z" opacity="0.68" stroke="#000" stroke-opacity="0.4" stroke-width="1"/><path d="M22.4 50.1Q19.9 51.2 18.1 49.1Q16.4 47.0 18.1 42.8Q19.7 38.7 22.6 35.9Q25.4 33.1 27.6 34.5Q29.7 35.9 29.2 39.6Q28.7 43.2 26.8 46.1Q24.9 48.9 22.4 50.1Z" opacity="0.90" stroke="#000" stroke-opacity="0.4" stroke-width="1"/><path d="M53.3 67.0Q50.8 68.0 49.3 65.7Q47.9 63.5 47.5 60.4Q47.1 57.3 49.8 55.8Q52.5 54.3 55.2 54.8Q57.9 55.3 58.0 58.3Q58.1 61.3 57.0 63.7Q55.8 66.1 53.3 67.0Z" opacity="0.75" stroke="#000" stroke-opacity="0.4" stroke-width="1"/><path d="M43.9 49.4Q40.9 48.2 41.8 45.1Q42.6 42.0 45.5 39.2Q48.4 36.5 52.3 36.3Q56.1 36.1 57.3 38.6Q58.6 41.0 56.6 44.2Q54.6 47.3 50.8 48.9Q46.9 50.5 43.9 49.4Z" opacity="0.84" stroke="#000" stroke-opacity="0.4" stroke-width="1"/><path d="M24.7 16.9Q22.6 16.5 21.5 14.5Q20.5 12.6 22.3 10.1Q24.1 7.7 26.8 6.2Q29.5 4.7 30.6 6.9Q31.7 9.0 31.5 11.5Q31.2 13.9 29.0 15.6Q26.8 17.2 24.7 16.9Z" opacity="0.71" stroke="#000" stroke-opacity="0.4" stroke-width="1"/><path d="M104.1 88.3Q101.9 90.0 99.4 88.8Q96.9 87.5 96.2 83.6Q95.5 79.7 97.1 76.3Q98.7 72.9 101.5 73.5Q104.2 74.1 105.4 77.0Q106.7 80.0 106.4 83.3Q106.2 86.6 104.1 88.3Z" opacity="0.67" stroke="#000" stroke-opacity="0.4" stroke-width="1"/><path d="M7.6 96.9Q7.8 99.7 6.5 101.6Q5.2 103.6 2.0 104.9Q-1.1 106.3 -4.1 104.2Q-7.0 102.0 -6.6 99.1Q-6.1 96.1 -3.1 94.7Q-0.1 93.4 3.6 93.7Q7.3 94.1 7.6 96.9Z" opacity="0.77" stroke="#000" stroke-opacity="0.4" stroke-width="1"/><path d="M69.3 12.8Q66.7 12.2 65.3 10.2Q63.8 8.2 65.3 5.4Q66.8 2.7 69.2 0.4Q71.5 -1.9 73.3 0.1Q75.0 2.0 75.7 4.8Q76.3 7.5 74.1 10.4Q71.9 13.3 69.3 12.8Z" opacity="0.65" stroke="#000" stroke-opacity="0.4" stroke-width="1"/><path d="M96.8 7.8Q95.4 10.7 93.0 8.2Q90.7 5.6 89.4 2.5Q88.1 -0.7 88.6 -3.8Q89.0 -6.8 90.9 -8.2Q92.8 -9.5 95.0 -6.5Q97.2 -3.4 97.7 0.8Q98.2 4.9 96.8 7.8Z" opacity="0.72" stroke="#000" stroke-opacity="0.4" stroke-width="1"/><path d="M91.0 11.1Q89.5 13.1 87.2 14.2Q84.8 15.2 82.3 13.0Q79.8 10.8 79.2 7.5Q78.6 4.2 81.0 2.5Q83.3 0.8 86.3 2.1Q89.2 3.4 90.9 6.2Q92.6 9.0 91.0 11.1Z" opacity="0.68" stroke="#000" stroke-opacity="0.4" stroke-width="1"/><path d="M18.5 96.6Q17.9 98.7 15.8 99.8Q13.8 101.0 10.9 98.9Q8.0 96.7 7.1 93.6Q6.2 90.4 8.4 89.4Q10.6 88.4 13.2 88.9Q15.9 89.3 17.5 91.9Q19.2 94.6 18.5 96.6Z" opacity="0.80" stroke="#000" stroke-opacity="0.4" stroke-width="1"/><path d="M90.6 80.5Q92.1 82.5 90.5 84.3Q88.9 86.2 85.7 85.7Q82.4 85.2 80.0 83.5Q77.5 81.8 78.6 79.9Q79.6 78.1 81.9 77.2Q84.2 76.3 86.7 77.5Q89.2 78.6 90.6 80.5Z" opacity="0.67" stroke="#000" stroke-opacity="0.4" stroke-width="1"/></g>
<g id="rn3"><ellipse cx="38.4" cy="86.7" rx="5.3" ry="4.2" transform="rotate(34 38.4 86.7)"/><ellipse cx="109.9" cy="49.6" rx="3.6" ry="3.8" transform="rotate(74 109.9 49.6)"/><ellipse cx="109.5" cy="91.9" rx="5" ry="4.5" transform="rotate(167 109.5 91.9)"/><ellipse cx="63" cy="60.8" rx="5.1" ry="3.5" transform="rotate(131 63 60.8)" opacity="0.45"/><ellipse cx="13" cy="69.9" rx="4.3" ry="4.2" transform="rotate(20 13 69.9)"/><ellipse cx="73.2" cy="80.1" rx="4.4" ry="3.2" transform="rotate(139 73.2 80.1)"/><ellipse cx="59.8" cy="43.2" rx="4.9" ry="3.6" transform="rotate(109 59.8 43.2)"/><ellipse cx="83.3" cy="-3.6" rx="5.3" ry="3.3" transform="rotate(87 83.3 -3.6)"/><ellipse cx="70.3" cy="103" rx="4.7" ry="4" transform="rotate(138 70.3 103)" opacity="0.51"/><ellipse cx="109.6" cy="9.6" rx="4.5" ry="3.9" transform="rotate(153 109.6 9.6)"/><ellipse cx="107.7" cy="20" rx="5" ry="3.4" transform="rotate(40 107.7 20)"/><ellipse cx="56.7" cy="86.6" rx="4.1" ry="3.4" transform="rotate(33 56.7 86.6)"/><ellipse cx="3.2" cy="15.1" rx="3.6" ry="3.8" transform="rotate(10 3.2 15.1)"/><ellipse cx="92.8" cy="74.6" rx="3.6" ry="3.7" transform="rotate(91 92.8 74.6)"/><ellipse cx="79.6" cy="22.5" rx="5" ry="4.2" transform="rotate(116 79.6 22.5)"/><ellipse cx="86.6" cy="93" rx="5.4" ry="4.1" transform="rotate(35 86.6 93)"/><ellipse cx="6.9" cy="51.1" rx="3.6" ry="3.5" transform="rotate(26 6.9 51.1)"/><ellipse cx="96.7" cy="102.7" rx="4.1" ry="4.2" transform="rotate(49 96.7 102.7)"/><ellipse cx="15.9" cy="20.2" rx="4.3" ry="4" transform="rotate(39 15.9 20.2)"/><ellipse cx="52.8" cy="30.8" rx="4.9" ry="4.5" transform="rotate(81 52.8 30.8)"/><ellipse cx="38.8" cy="58.3" rx="4.6" ry="3.5" transform="rotate(3 38.8 58.3)"/><ellipse cx="18.8" cy="32.5" rx="4" ry="3.5" transform="rotate(32 18.8 32.5)"/><ellipse cx="14.6" cy="59.8" rx="5" ry="3.6" transform="rotate(4 14.6 59.8)" opacity="0.69"/><ellipse cx="-1.8" cy="60.2" rx="5" ry="4.5" transform="rotate(34 -1.8 60.2)" opacity="0.51"/><ellipse cx="105" cy="-1.1" rx="4.6" ry="3.4" transform="rotate(133 105 -1.1)" opacity="0.63"/><ellipse cx="29.9" cy="101.2" rx="4.8" ry="3.6" transform="rotate(152 29.9 101.2)"/><ellipse cx="33.8" cy="43.4" rx="4.1" ry="3.3" transform="rotate(93 33.8 43.4)" opacity="0.56"/><ellipse cx="96.5" cy="9.3" rx="3.7" ry="4.3" transform="rotate(48 96.5 9.3)" opacity="0.50"/><ellipse cx="97.6" cy="92.4" rx="3.6" ry="3.3" transform="rotate(106 97.6 92.4)"/><ellipse cx="99.1" cy="44" rx="3.8" ry="3.9" transform="rotate(9 99.1 44)"/><ellipse cx="39.3" cy="-2.6" rx="3.9" ry="3.4" transform="rotate(12 39.3 -2.6)"/><ellipse cx="61.1" cy="72.8" rx="4.6" ry="3.6" transform="rotate(2 61.1 72.8)"/><ellipse cx="45.9" cy="94.1" rx="5" ry="4.5" transform="rotate(78 45.9 94.1)"/><ellipse cx="49.3" cy="-3.9" rx="3.9" ry="4.4" transform="rotate(73 49.3 -3.9)"/><ellipse cx="-2.5" cy="4.7" rx="4.7" ry="4.2" transform="rotate(9 -2.5 4.7)"/><ellipse cx="26.9" cy="75.5" rx="4.9" ry="3.5" transform="rotate(97 26.9 75.5)" opacity="0.38"/><ellipse cx="74.9" cy="51.3" rx="5" ry="3.4" transform="rotate(145 74.9 51.3)"/><ellipse cx="-3.3" cy="47.2" rx="4.8" ry="4" transform="rotate(79 -3.3 47.2)"/><ellipse cx="8.3" cy="-3.2" rx="3.7" ry="3.3" transform="rotate(46 8.3 -3.2)"/><ellipse cx="50.3" cy="110.6" rx="4.5" ry="4.1" transform="rotate(138 50.3 110.6)"/><ellipse cx="28.5" cy="56.9" rx="4.2" ry="4.4" transform="rotate(41 28.5 56.9)"/><ellipse cx="97.6" cy="23.9" rx="3.7" ry="4" transform="rotate(161 97.6 23.9)"/><ellipse cx="89.8" cy="49.9" rx="4.4" ry="3.9" transform="rotate(114 89.8 49.9)"/><ellipse cx="18.8" cy="105.7" rx="3.7" ry="3.4" transform="rotate(145 18.8 105.7)" opacity="0.54"/><ellipse cx="106.3" cy="71.7" rx="3.8" ry="4.4" transform="rotate(26 106.3 71.7)"/><ellipse cx="39.5" cy="28.9" rx="4.4" ry="4.1" transform="rotate(124 39.5 28.9)"/><ellipse cx="55.9" cy="14.8" rx="3.7" ry="3.8" transform="rotate(0 55.9 14.8)" opacity="0.64"/><ellipse cx="108.5" cy="36.6" rx="4.1" ry="4.5" transform="rotate(147 108.5 36.6)"/><ellipse cx="7" cy="85.1" rx="4.1" ry="4.3" transform="rotate(21 7 85.1)"/><ellipse cx="78" cy="40" rx="4.8" ry="3.4" transform="rotate(31 78 40)"/><ellipse cx="93.8" cy="33.4" rx="4.5" ry="4.2" transform="rotate(43 93.8 33.4)"/><ellipse cx="81.6" cy="64.7" rx="4.9" ry="3.9" transform="rotate(79 81.6 64.7)"/><ellipse cx="45.7" cy="5.5" rx="3.8" ry="4.5" transform="rotate(156 45.7 5.5)"/><ellipse cx="45.8" cy="73.5" rx="5.1" ry="4.4" transform="rotate(36 45.8 73.5)" opacity="0.39"/><ellipse cx="18.3" cy="-1.8" rx="5.1" ry="4.3" transform="rotate(57 18.3 -1.8)"/><ellipse cx="23.7" cy="42.9" rx="5.2" ry="3.8" transform="rotate(115 23.7 42.9)"/><ellipse cx="53" cy="61.1" rx="3.8" ry="4.2" transform="rotate(107 53 61.1)"/><ellipse cx="49.7" cy="43.1" rx="5.1" ry="4.3" transform="rotate(149 49.7 43.1)"/><ellipse cx="26.7" cy="11.9" rx="3.7" ry="3.5" transform="rotate(131 26.7 11.9)" opacity="0.56"/><ellipse cx="101.8" cy="81.7" rx="4.5" ry="4" transform="rotate(89 101.8 81.7)"/><ellipse cx="1.3" cy="99.4" rx="4.2" ry="4.3" transform="rotate(3 1.3 99.4)"/><ellipse cx="70.1" cy="6.2" rx="4.1" ry="4" transform="rotate(119 70.1 6.2)"/><ellipse cx="92.7" cy="0" rx="5.1" ry="3.5" transform="rotate(76 92.7 0)"/><ellipse cx="85.7" cy="8.3" rx="3.9" ry="4.1" transform="rotate(51 85.7 8.3)"/><ellipse cx="13.4" cy="94.1" rx="3.9" ry="3.5" transform="rotate(45 13.4 94.1)"/><ellipse cx="84.8" cy="81" rx="4" ry="3.4" transform="rotate(11 84.8 81)"/></g>
<g id="rg3"><ellipse cx="109.9" cy="49.6" rx="3.8" ry="4" transform="rotate(74 109.9 49.6)" opacity="0.69"/><ellipse cx="109.5" cy="91.9" rx="5.3" ry="4.7" transform="rotate(167 109.5 91.9)" opacity="0.65"/><ellipse cx="63" cy="60.8" rx="5.4" ry="3.7" transform="rotate(131 63 60.8)" opacity="0.59"/><ellipse cx="73.2" cy="80.1" rx="4.7" ry="3.4" transform="rotate(139 73.2 80.1)" opacity="0.71"/><ellipse cx="59.8" cy="43.2" rx="5.2" ry="3.8" transform="rotate(109 59.8 43.2)" opacity="0.86"/><ellipse cx="83.3" cy="-3.6" rx="5.6" ry="3.5" transform="rotate(87 83.3 -3.6)" opacity="0.56"/><ellipse cx="109.6" cy="9.6" rx="4.7" ry="4.1" transform="rotate(153 109.6 9.6)" opacity="0.34"/><ellipse cx="56.7" cy="86.6" rx="4.3" ry="3.5" transform="rotate(33 56.7 86.6)" opacity="0.71"/><ellipse cx="92.8" cy="74.6" rx="3.8" ry="3.9" transform="rotate(91 92.8 74.6)" opacity="0.37"/><ellipse cx="86.6" cy="93" rx="5.6" ry="4.3" transform="rotate(35 86.6 93)" opacity="0.83"/><ellipse cx="96.7" cy="102.7" rx="4.3" ry="4.4" transform="rotate(49 96.7 102.7)" opacity="0.63"/><ellipse cx="15.9" cy="20.2" rx="4.5" ry="4.3" transform="rotate(39 15.9 20.2)" opacity="0.37"/><ellipse cx="52.8" cy="30.8" rx="5.2" ry="4.7" transform="rotate(81 52.8 30.8)" opacity="0.72"/><ellipse cx="38.8" cy="58.3" rx="4.8" ry="3.7" transform="rotate(3 38.8 58.3)" opacity="0.81"/><ellipse cx="18.8" cy="32.5" rx="4.2" ry="3.7" transform="rotate(32 18.8 32.5)" opacity="0.57"/><ellipse cx="14.6" cy="59.8" rx="5.2" ry="3.8" transform="rotate(4 14.6 59.8)" opacity="0.31"/><ellipse cx="39.3" cy="-2.6" rx="4.1" ry="3.5" transform="rotate(12 39.3 -2.6)" opacity="0.89"/><ellipse cx="-2.5" cy="4.7" rx="4.9" ry="4.4" transform="rotate(9 -2.5 4.7)" opacity="0.62"/><ellipse cx="26.9" cy="75.5" rx="5.2" ry="3.7" transform="rotate(97 26.9 75.5)" opacity="0.44"/><ellipse cx="74.9" cy="51.3" rx="5.3" ry="3.6" transform="rotate(145 74.9 51.3)" opacity="0.51"/><ellipse cx="-3.3" cy="47.2" rx="5.1" ry="4.2" transform="rotate(79 -3.3 47.2)" opacity="0.57"/><ellipse cx="50.3" cy="110.6" rx="4.7" ry="4.3" transform="rotate(138 50.3 110.6)" opacity="0.88"/><ellipse cx="28.5" cy="56.9" rx="4.4" ry="4.6" transform="rotate(41 28.5 56.9)" opacity="0.38"/><ellipse cx="97.6" cy="23.9" rx="3.8" ry="4.2" transform="rotate(161 97.6 23.9)" opacity="0.31"/><ellipse cx="106.3" cy="71.7" rx="4" ry="4.6" transform="rotate(26 106.3 71.7)" opacity="0.43"/><ellipse cx="108.5" cy="36.6" rx="4.3" ry="4.7" transform="rotate(147 108.5 36.6)" opacity="0.51"/><ellipse cx="7" cy="85.1" rx="4.3" ry="4.5" transform="rotate(21 7 85.1)" opacity="0.82"/><ellipse cx="78" cy="40" rx="5.1" ry="3.5" transform="rotate(31 78 40)" opacity="0.76"/><ellipse cx="93.8" cy="33.4" rx="4.7" ry="4.4" transform="rotate(43 93.8 33.4)" opacity="0.42"/><ellipse cx="81.6" cy="64.7" rx="5.1" ry="4.1" transform="rotate(79 81.6 64.7)" opacity="0.33"/><ellipse cx="18.3" cy="-1.8" rx="5.4" ry="4.5" transform="rotate(57 18.3 -1.8)" opacity="0.37"/><ellipse cx="53" cy="61.1" rx="4" ry="4.4" transform="rotate(107 53 61.1)" opacity="0.90"/><ellipse cx="49.7" cy="43.1" rx="5.3" ry="4.5" transform="rotate(149 49.7 43.1)" opacity="0.71"/><ellipse cx="26.7" cy="11.9" rx="3.9" ry="3.7" transform="rotate(131 26.7 11.9)" opacity="0.66"/><ellipse cx="101.8" cy="81.7" rx="4.7" ry="4.2" transform="rotate(89 101.8 81.7)" opacity="0.75"/><ellipse cx="85.7" cy="8.3" rx="4.1" ry="4.3" transform="rotate(51 85.7 8.3)" opacity="0.43"/></g>
</defs>
<rect width="2000" height="1367" fill="#fff"/>
<text class="s" x="0" y="29.8" style="font-size:44px">A</text>
<line x1="133.3" y1="94.2" x2="133.3" y2="257" stroke="#000" stroke-width="2.4"/>
<line x1="127.8" y1="255.8" x2="133.3" y2="255.8" stroke="#000" stroke-width="2.4"/>
<line x1="127.8" y1="215.4" x2="133.3" y2="215.4" stroke="#000" stroke-width="2.4"/>
<line x1="127.8" y1="175" x2="133.3" y2="175" stroke="#000" stroke-width="2.4"/>
<line x1="127.8" y1="134.6" x2="133.3" y2="134.6" stroke="#000" stroke-width="2.4"/>
<line x1="127.8" y1="94.2" x2="138.8" y2="94.2" stroke="#000" stroke-width="2.4"/>
<text class="a" transform="translate(124.2,261.7) scale(1,1.1)" text-anchor="end" style="font-size:15px">0</text>
<text class="a" transform="translate(124.2,221.3) scale(1,1.1)" text-anchor="end" style="font-size:15px">5</text>
<text class="a" transform="translate(124.2,180.9) scale(1,1.1)" text-anchor="end" style="font-size:15px">10</text>
<text class="a" transform="translate(124.2,140.5) scale(1,1.1)" text-anchor="end" style="font-size:15px">15</text>
<text class="a" transform="translate(124.2,100.1) scale(1,1.1)" text-anchor="end" style="font-size:15px">20</text>
<line x1="133.3" y1="7.7" x2="133.3" y2="78.4" stroke="#000" stroke-width="2.4"/>
<line x1="127.8" y1="64.2" x2="133.3" y2="64.2" stroke="#000" stroke-width="2.4"/>
<text class="a" transform="translate(124.2,70.1) scale(1,1.1)" text-anchor="end" style="font-size:15px">50</text>
<line x1="127.8" y1="36.5" x2="133.3" y2="36.5" stroke="#000" stroke-width="2.4"/>
<text class="a" transform="translate(124.2,42.4) scale(1,1.1)" text-anchor="end" style="font-size:15px">100</text>
<line x1="127.8" y1="8.9" x2="133.3" y2="8.9" stroke="#000" stroke-width="2.4"/>
<text class="a" transform="translate(124.2,14.8) scale(1,1.1)" text-anchor="end" style="font-size:15px">150</text>
<line x1="127.8" y1="78.4" x2="138.8" y2="78.4" stroke="#000" stroke-width="2.4"/>
<line x1="127.4" y1="255.8" x2="657.9" y2="255.8" stroke="#000" stroke-width="2.4"/>
<line x1="149.5" y1="255.8" x2="149.5" y2="264.4" stroke="#000" stroke-width="2.4"/>
<line x1="182.2" y1="255.8" x2="182.2" y2="264.4" stroke="#000" stroke-width="2.4"/>
<line x1="214.9" y1="255.8" x2="214.9" y2="264.4" stroke="#000" stroke-width="2.4"/>
<line x1="247.5" y1="255.8" x2="247.5" y2="264.4" stroke="#000" stroke-width="2.4"/>
<line x1="280.2" y1="255.8" x2="280.2" y2="264.4" stroke="#000" stroke-width="2.4"/>
<line x1="312.9" y1="255.8" x2="312.9" y2="264.4" stroke="#000" stroke-width="2.4"/>
<line x1="345.6" y1="255.8" x2="345.6" y2="264.4" stroke="#000" stroke-width="2.4"/>
<line x1="378.3" y1="255.8" x2="378.3" y2="264.4" stroke="#000" stroke-width="2.4"/>
<line x1="410.9" y1="255.8" x2="410.9" y2="264.4" stroke="#000" stroke-width="2.4"/>
<line x1="443.6" y1="255.8" x2="443.6" y2="264.4" stroke="#000" stroke-width="2.4"/>
<line x1="476.3" y1="255.8" x2="476.3" y2="264.4" stroke="#000" stroke-width="2.4"/>
<line x1="509" y1="255.8" x2="509" y2="264.4" stroke="#000" stroke-width="2.4"/>
<line x1="541.7" y1="255.8" x2="541.7" y2="264.4" stroke="#000" stroke-width="2.4"/>
<line x1="574.3" y1="255.8" x2="574.3" y2="264.4" stroke="#000" stroke-width="2.4"/>
<line x1="607" y1="255.8" x2="607" y2="264.4" stroke="#000" stroke-width="2.4"/>
<line x1="639.7" y1="255.8" x2="639.7" y2="264.4" stroke="#000" stroke-width="2.4"/>
<path d="M140.2 255.8V250.4H158.8V255.8" fill="none" stroke="#1a1aff" stroke-width="2.8"/>
<path d="M149.5 250.4V247.8M144.2 250.4H154.8M144.2 247.8H154.8" fill="none" stroke="#1a1aff" stroke-width="2.8"/>
<circle cx="140.6" cy="249.4" r="2.1" fill="#000"/>
<circle cx="149.5" cy="246.8" r="2.1" fill="#000"/>
<circle cx="158.5" cy="248.3" r="2.1" fill="#000"/>
<path d="M172.8 255.8V181.3H191.5V255.8" fill="none" stroke="#ff1a1a" stroke-width="2.8"/>
<path d="M182.2 190.6V169.3M176.9 190.6H187.4M176.9 169.3H187.4" fill="none" stroke="#ff1a1a" stroke-width="2.8"/>
<circle cx="182.2" cy="159" r="2.1" fill="#000"/>
<circle cx="182.2" cy="167.5" r="2.1" fill="#000"/>
<circle cx="182.2" cy="203.4" r="2.1" fill="#000"/>
<circle cx="182.2" cy="186" r="2.1" fill="#000"/>
<path d="M205.5 255.8V207.8H224.2V255.8" fill="none" stroke="#3ad62a" stroke-width="2.8"/>
<path d="M214.9 211.7V202.4M209.6 211.7H220.1M209.6 202.4H220.1" fill="none" stroke="#3ad62a" stroke-width="2.8"/>
<circle cx="214.9" cy="195.9" r="2.1" fill="#000"/>
<circle cx="206.2" cy="214.9" r="2.1" fill="#000"/>
<circle cx="223.8" cy="212.3" r="2.1" fill="#000"/>
<circle cx="214.9" cy="209" r="2.1" fill="#000"/>
<text class="a" x="214.9" y="187.9" text-anchor="middle" style="font-size:16px">*</text>
<path d="M238.2 255.8V168.9H256.9V255.8" fill="none" stroke="#c63aff" stroke-width="2.8"/>
<path d="M247.5 173.8V162M242.3 173.8H252.8M242.3 162H252.8" fill="none" stroke="#c63aff" stroke-width="2.8"/>
<circle cx="247.5" cy="154.7" r="2.1" fill="#000"/>
<circle cx="238.6" cy="166.5" r="2.1" fill="#000"/>
<circle cx="247.5" cy="182.7" r="2.1" fill="#000"/>
<circle cx="247.5" cy="170" r="2.1" fill="#000"/>
<text class="a" x="247.5" y="141.7" text-anchor="middle" style="font-size:12.8px">ns</text>
<path d="M270.9 255.8V189.2H289.6V255.8" fill="none" stroke="#ee8430" stroke-width="2.8"/>
<path d="M280.2 194.5V183.7M275 194.5H285.5M275 183.7H285.5" fill="none" stroke="#ee8430" stroke-width="2.8"/>
<circle cx="280.2" cy="178.7" r="2.1" fill="#000"/>
<circle cx="280.2" cy="197.5" r="2.1" fill="#000"/>
<circle cx="280.2" cy="192" r="2.1" fill="#000"/>
<circle cx="280.2" cy="186" r="2.1" fill="#000"/>
<text class="a" x="280.2" y="166.9" text-anchor="middle" style="font-size:12.8px">ns</text>
<path d="M303.5 255.8V202.4H322.2V255.8" fill="none" stroke="#000000" stroke-width="2.8"/>
<path d="M312.9 209V195.1M307.6 209H318.1M307.6 195.1H318.1" fill="none" stroke="#000000" stroke-width="2.8"/>
<circle cx="312.9" cy="189" r="2.1" fill="#000"/>
<circle cx="312.9" cy="219.6" r="2.1" fill="#000"/>
<circle cx="312.9" cy="200" r="2.1" fill="#000"/>
<circle cx="312.9" cy="205" r="2.1" fill="#000"/>
<text class="a" x="312.9" y="177.2" text-anchor="middle" style="font-size:12.8px">ns</text>
<path d="M336.2 255.8V221.6H354.9V255.8" fill="none" stroke="#a07830" stroke-width="2.8"/>
<path d="M345.6 230.1V210.9M340.3 230.1H350.8M340.3 210.9H350.8" fill="none" stroke="#a07830" stroke-width="2.8"/>
<circle cx="345.6" cy="196.5" r="2.1" fill="#000"/>
<circle cx="345.6" cy="233" r="2.1" fill="#000"/>
<circle cx="345.6" cy="238.6" r="2.1" fill="#000"/>
<circle cx="345.6" cy="215.3" r="2.1" fill="#000"/>
<text class="a" x="345.6" y="190.9" text-anchor="middle" style="font-size:16px">*</text>
<path d="M368.9 255.8V162H387.6V255.8" fill="none" stroke="#15158f" stroke-width="2.8"/>
<path d="M378.3 178.2V143.8M373 178.2H383.5M373 143.8H383.5" fill="none" stroke="#15158f" stroke-width="2.8"/>
<circle cx="378.3" cy="115.2" r="2.1" fill="#000"/>
<circle cx="378.3" cy="154.1" r="2.1" fill="#000"/>
<circle cx="378.3" cy="180.7" r="2.1" fill="#000"/>
<circle cx="378.3" cy="194.2" r="2.1" fill="#000"/>
<text class="a" x="378.3" y="132.2" text-anchor="middle" style="font-size:12.8px">ns</text>
<path d="M401.6 255.8V215.3H420.3V255.8" fill="none" stroke="#601060" stroke-width="2.8"/>
<path d="M410.9 220.8V208M405.7 220.8H416.2M405.7 208H416.2" fill="none" stroke="#601060" stroke-width="2.8"/>
<circle cx="410.9" cy="197.9" r="2.1" fill="#000"/>
<circle cx="410.9" cy="216.7" r="2.1" fill="#000"/>
<circle cx="419.8" cy="214.9" r="2.1" fill="#000"/>
<circle cx="410.9" cy="228.7" r="2.1" fill="#000"/>
<text class="a" x="410.9" y="195.8" text-anchor="middle" style="font-size:16px">*</text>
<path d="M434.3 255.8V168.3H453V255.8" fill="none" stroke="#aa1111" stroke-width="2.8"/>
<path d="M443.6 179.3V155M438.4 179.3H448.9M438.4 155H448.9" fill="none" stroke="#aa1111" stroke-width="2.8"/>
<circle cx="443.6" cy="136.7" r="2.1" fill="#000"/>
<circle cx="443.6" cy="159" r="2.1" fill="#000"/>
<circle cx="443.6" cy="181.3" r="2.1" fill="#000"/>
<circle cx="443.6" cy="191.6" r="2.1" fill="#000"/>
<text class="a" x="443.6" y="124.9" text-anchor="middle" style="font-size:12.8px">ns</text>
<path d="M466.9 255.8V193.6H485.7V255.8" fill="none" stroke="#1e6a35" stroke-width="2.8"/>
<path d="M476.3 201.9V183.3M471.1 201.9H481.6M471.1 183.3H481.6" fill="none" stroke="#1e6a35" stroke-width="2.8"/>
<circle cx="476.3" cy="165.3" r="2.1" fill="#000"/>
<circle cx="467.4" cy="204.4" r="2.1" fill="#000"/>
<circle cx="485.1" cy="202" r="2.1" fill="#000"/>
<circle cx="476.3" cy="199.5" r="2.1" fill="#000"/>
<text class="a" x="476.3" y="150.5" text-anchor="middle" style="font-size:12.8px">ns</text>
<path d="M499.6 255.8V171.4H518.3V255.8" fill="none" stroke="#eab27a" stroke-width="2.8"/>
<path d="M509 174.4V166.5M503.7 174.4H514.2M503.7 166.5H514.2" fill="none" stroke="#eab27a" stroke-width="2.8"/>
<circle cx="509" cy="160.4" r="2.1" fill="#000"/>
<circle cx="509" cy="172.4" r="2.1" fill="#000"/>
<circle cx="517.9" cy="171.2" r="2.1" fill="#000"/>
<circle cx="509" cy="178.4" r="2.1" fill="#000"/>
<text class="a" x="509" y="137.7" text-anchor="middle" style="font-size:12.8px">ns</text>
<path d="M532.3 255.8V176.2H551V255.8" fill="none" stroke="#3aff1a" stroke-width="2.8"/>
<path d="M541.7 187.2V163.1M536.4 187.2H546.9M536.4 163.1H546.9" fill="none" stroke="#3aff1a" stroke-width="2.8"/>
<circle cx="541.7" cy="142.6" r="2.1" fill="#000"/>
<circle cx="541.7" cy="181.1" r="2.1" fill="#000"/>
<circle cx="550.6" cy="178.2" r="2.1" fill="#000"/>
<circle cx="541.7" cy="199.1" r="2.1" fill="#000"/>
<text class="a" x="541.7" y="129.8" text-anchor="middle" style="font-size:12.8px">ns</text>
<line x1="565" y1="94.2" x2="565" y2="255.8" stroke="#000" stroke-width="2.8"/>
<line x1="583.6" y1="94.2" x2="583.6" y2="255.8" stroke="#000" stroke-width="2.8"/>
<path d="M565 78.4V74.8H583.6V78.4" fill="none" stroke="#000" stroke-width="2.8"/>
<path d="M574.3 78.4V68.1M569.1 78.4H579.6M569.1 68.1H579.6" fill="none" stroke="#000" stroke-width="2.8"/>
<circle cx="565.3" cy="70.1" r="2.1" fill="#000"/>
<circle cx="583.3" cy="64.2" r="2.1" fill="#000"/>
<circle cx="574.3" cy="72.5" r="2.1" fill="#000"/>
<circle cx="574.3" cy="174.8" r="2.1" fill="#000"/>
<text class="a" x="574.3" y="52.7" text-anchor="middle" style="font-size:16px">**</text>
<line x1="597.7" y1="94.2" x2="597.7" y2="255.8" stroke="#b8b8ff" stroke-width="2.8"/>
<line x1="616.3" y1="94.2" x2="616.3" y2="255.8" stroke="#b8b8ff" stroke-width="2.8"/>
<path d="M597.7 78.4V45.8H616.3V78.4" fill="none" stroke="#b8b8ff" stroke-width="2.8"/>
<path d="M607 54.9V35.2M601.8 54.9H612.3M601.8 35.2H612.3" fill="none" stroke="#b8b8ff" stroke-width="2.8"/>
<circle cx="607" cy="16.4" r="2.1" fill="#000"/>
<circle cx="607" cy="45" r="2.1" fill="#000"/>
<circle cx="607" cy="56.9" r="2.1" fill="#000"/>
<circle cx="607" cy="61.2" r="2.1" fill="#000"/>
<text class="a" x="607" y="13.2" text-anchor="middle" style="font-size:16px">**</text>
<path d="M630.4 255.8V139.8H649.1V255.8" fill="none" stroke="#666666" stroke-width="2.8"/>
<path d="M639.7 155V122.5M634.5 155H645M634.5 122.5H645" fill="none" stroke="#666666" stroke-width="2.8"/>
<circle cx="639.7" cy="114.6" r="2.1" fill="#000"/>
<circle cx="648.6" cy="110.6" r="2.1" fill="#000"/>
<circle cx="639.7" cy="150.1" r="2.1" fill="#000"/>
<circle cx="639.7" cy="180.1" r="2.1" fill="#000"/>
<text class="a" x="639.7" y="104.1" text-anchor="middle" style="font-size:12.8px">ns</text>
<text class="s" transform="translate(154.8,278.1) rotate(-45)" text-anchor="end" style="font-size:15.2px">p-EMPTY</text>
<text class="s" transform="translate(187.5,278.1) rotate(-45)" text-anchor="end" style="font-size:15.2px">p-EMPTY</text>
<text class="s" transform="translate(220.2,278.1) rotate(-45)" text-anchor="end" style="font-size:15.2px">MGF 110-1L</text>
<text class="s" transform="translate(252.8,278.1) rotate(-45)" text-anchor="end" style="font-size:15.2px">MGF 110-13L</text>
<text class="s" transform="translate(285.5,278.1) rotate(-45)" text-anchor="end" style="font-size:15.2px">MGF 300-2L</text>
<text class="s" transform="translate(318.2,278.1) rotate(-45)" text-anchor="end" style="font-size:15.2px">MGF 360-14L</text>
<text class="s" transform="translate(350.9,278.1) rotate(-45)" text-anchor="end" style="font-size:15.2px">MGF 505-3R</text>
<text class="s" transform="translate(383.6,278.1) rotate(-45)" text-anchor="end" style="font-size:15.2px">I226L</text>
<text class="s" transform="translate(416.2,278.1) rotate(-45)" text-anchor="end" style="font-size:15.2px">E120R</text>
<text class="s" transform="translate(448.9,278.1) rotate(-45)" text-anchor="end" style="font-size:15.2px">E183L</text>
<text class="s" transform="translate(481.6,278.1) rotate(-45)" text-anchor="end" style="font-size:15.2px">E199L</text>
<text class="s" transform="translate(514.3,278.1) rotate(-45)" text-anchor="end" style="font-size:15.2px">E248R</text>
<text class="s" transform="translate(547,278.1) rotate(-45)" text-anchor="end" style="font-size:15.2px">EP296R</text>
<text class="s" transform="translate(579.6,278.1) rotate(-45)" text-anchor="end" style="font-size:15.2px">E423R</text>
<text class="s" transform="translate(612.3,278.1) rotate(-45)" text-anchor="end" style="font-size:15.2px">061R</text>
<text class="s" transform="translate(645,278.1) rotate(-45)" text-anchor="end" style="font-size:15.2px">S273R</text>
<line x1="172.6" y1="353.5" x2="649.3" y2="353.5" stroke="#000" stroke-width="2.8"/>
<text class="s" x="406.6" y="387.6" text-anchor="middle" style="font-size:18.8px">R848</text>
<text class="s" transform="translate(69.5,149.6) rotate(-90)" text-anchor="middle" style="font-size:19px">NF-κB&#160; luciferase fold</text>
<text class="s" x="711.5" y="30" style="font-size:44px">B</text>
<line x1="937.8" y1="30.6" x2="937.8" y2="167.4" stroke="#000" stroke-width="1.6"/>
<line x1="933.8" y1="166.6" x2="937.8" y2="166.6" stroke="#000" stroke-width="1.6"/>
<text class="a" transform="translate(931.5,170.6) scale(1,1.1)" text-anchor="end" style="font-size:10.2px">0</text>
<line x1="933.8" y1="132.8" x2="937.8" y2="132.8" stroke="#000" stroke-width="1.6"/>
<text class="a" transform="translate(931.5,136.8) scale(1,1.1)" text-anchor="end" style="font-size:10.2px">50</text>
<line x1="933.8" y1="99" x2="937.8" y2="99" stroke="#000" stroke-width="1.6"/>
<text class="a" transform="translate(931.5,103) scale(1,1.1)" text-anchor="end" style="font-size:10.2px">100</text>
<line x1="933.8" y1="65.2" x2="937.8" y2="65.2" stroke="#000" stroke-width="1.6"/>
<text class="a" transform="translate(931.5,69.2) scale(1,1.1)" text-anchor="end" style="font-size:10.2px">150</text>
<line x1="933.8" y1="31.4" x2="937.8" y2="31.4" stroke="#000" stroke-width="1.6"/>
<text class="a" transform="translate(931.5,35.4) scale(1,1.1)" text-anchor="end" style="font-size:10.2px">200</text>
<line x1="937.8" y1="166.6" x2="1143" y2="166.6" stroke="#000" stroke-width="1.6"/>
<line x1="957.8" y1="166.6" x2="957.8" y2="172.6" stroke="#000" stroke-width="1.6"/>
<line x1="998.8" y1="166.6" x2="998.8" y2="172.6" stroke="#000" stroke-width="1.6"/>
<line x1="1039.9" y1="166.6" x2="1039.9" y2="172.6" stroke="#000" stroke-width="1.6"/>
<line x1="1080.7" y1="166.6" x2="1080.7" y2="172.6" stroke="#000" stroke-width="1.6"/>
<line x1="1121.7" y1="166.6" x2="1121.7" y2="172.6" stroke="#000" stroke-width="1.6"/>
<path d="M945.5 166.6V165.3H970V166.6" fill="none" stroke="#1a1aff" stroke-width="1.6"/>
<path d="M957.8 166V165M951.8 166H963.8M951.8 165H963.8" fill="none" stroke="#1a1aff" stroke-width="1.6"/>
<circle cx="946.7" cy="166" r="2.7" fill="#000"/>
<circle cx="954" cy="166" r="2.7" fill="#000"/>
<circle cx="962" cy="166" r="2.7" fill="#000"/>
<circle cx="968.7" cy="166" r="2.7" fill="#000"/>
<path d="M986.5 166.6V68.8H1011V166.6" fill="none" stroke="#ff1a1a" stroke-width="1.6"/>
<path d="M998.8 71V65.2M992.8 71H1004.8M992.8 65.2H1004.8" fill="none" stroke="#ff1a1a" stroke-width="1.6"/>
<circle cx="988" cy="70.7" r="2.7" fill="#000"/>
<circle cx="998.8" cy="65.2" r="2.7" fill="#000"/>
<circle cx="1009.7" cy="63.2" r="2.7" fill="#000"/>
<circle cx="1009.7" cy="70" r="2.7" fill="#000"/>
<path d="M1027.7 166.6V146H1052.2V166.6" fill="none" stroke="#3ad62a" stroke-width="1.6"/>
<path d="M1039.9 147.5V144.5M1033.9 147.5H1045.9M1033.9 144.5H1045.9" fill="none" stroke="#3ad62a" stroke-width="1.6"/>
<circle cx="1029" cy="149" r="2.7" fill="#000"/>
<circle cx="1036.3" cy="144.4" r="2.7" fill="#000"/>
<circle cx="1043.5" cy="146.8" r="2.7" fill="#000"/>
<circle cx="1050.7" cy="144.8" r="2.7" fill="#000"/>
<text class="a" x="1039.9" y="137.5" text-anchor="middle" style="font-size:10.5px">**</text>
<path d="M1068.5 166.6V147.7H1093V166.6" fill="none" stroke="#c63aff" stroke-width="1.6"/>
<path d="M1080.7 148.5V146.8M1074.7 148.5H1086.7M1074.7 146.8H1086.7" fill="none" stroke="#c63aff" stroke-width="1.6"/>
<circle cx="1070" cy="147.7" r="2.7" fill="#000"/>
<circle cx="1077.3" cy="146.5" r="2.7" fill="#000"/>
<circle cx="1084.5" cy="147.7" r="2.7" fill="#000"/>
<circle cx="1091.8" cy="146.5" r="2.7" fill="#000"/>
<text class="a" x="1080.7" y="139.4" text-anchor="middle" style="font-size:10.5px">**</text>
<path d="M1109.5 166.6V158.1H1134V166.6" fill="none" stroke="#ee8430" stroke-width="1.6"/>
<path d="M1121.7 159V157M1115.7 159H1127.7M1115.7 157H1127.7" fill="none" stroke="#ee8430" stroke-width="1.6"/>
<circle cx="1111" cy="159.3" r="2.7" fill="#000"/>
<circle cx="1118.3" cy="156.9" r="2.7" fill="#000"/>
<circle cx="1125.6" cy="158.1" r="2.7" fill="#000"/>
<circle cx="1132.8" cy="158.1" r="2.7" fill="#000"/>
<text class="a" x="1121.7" y="145.9" text-anchor="middle" style="font-size:10.5px">**</text>
<text class="s" x="1069.3" y="12.5" text-anchor="middle" style="font-size:14.5px">MyD88</text>
<line x1="998.6" y1="24.9" x2="1124.1" y2="24.9" stroke="#000" stroke-width="1.6"/>
<text class="s" transform="translate(902,83.8) rotate(-90)" text-anchor="middle" style="font-size:16.5px">NF-κB&#160; luciferase fold</text>
<text class="s" x="845.5" y="204.5" style="font-size:18.6px">MyD88</text>
<text class="s" x="957" y="203" text-anchor="middle" style="font-size:18px">-</text>
<text class="s" x="998.8" y="204" text-anchor="middle" style="font-size:18px">+</text>
<text class="s" x="1039" y="204" text-anchor="middle" style="font-size:18px">+</text>
<text class="s" x="1079.5" y="204" text-anchor="middle" style="font-size:18px">+</text>
<text class="s" x="1120" y="204" text-anchor="middle" style="font-size:18px">+</text>
<text class="n" x="905.5" y="223.3" style="font-size:10px">kD</text>
<text class="s" x="870.5" y="251.5" text-anchor="end" style="font-size:18.5px">Myc-MGF 505-3R</text>
<text class="s" x="866" y="299.5" text-anchor="end" style="font-size:18px">GAPDH</text>
<line x1="903.8" y1="237.8" x2="920.6" y2="237.8" stroke="#000" stroke-width="1.7"/>
<text class="n" x="897" y="237.3" text-anchor="end" style="font-size:10.5px">40</text>
<line x1="903.8" y1="254.8" x2="920.6" y2="254.8" stroke="#000" stroke-width="1.7"/>
<text class="n" x="897" y="256.9" text-anchor="end" style="font-size:10.5px">35</text>
<line x1="903.8" y1="285.2" x2="920.6" y2="285.2" stroke="#000" stroke-width="1.7"/>
<text class="n" x="897" y="286.3" text-anchor="end" style="font-size:10.5px">35</text>
<line x1="903.8" y1="298.2" x2="920.6" y2="298.2" stroke="#000" stroke-width="1.7"/>
<text class="n" x="897" y="299.6" text-anchor="end" style="font-size:10.5px">25</text>
<rect x="925.5" y="225" width="219.8" height="41" fill="#d2cfdb" stroke="#000" stroke-width="2.8"/>
<rect x="925.5" y="280" width="219.8" height="33" fill="#d0cedb" stroke="#000" stroke-width="2.8"/>
<rect x="960" y="281.5" width="3" height="30" fill="#c6c6d6" opacity="0.6" filter="url(#bl1)"/>
<rect x="1000" y="281.5" width="3" height="30" fill="#c6c6d6" opacity="0.6" filter="url(#bl1)"/>
<rect x="1034" y="281.5" width="3" height="30" fill="#c6c6d6" opacity="0.6" filter="url(#bl1)"/>
<rect x="1070" y="281.5" width="3" height="30" fill="#c6c6d6" opacity="0.6" filter="url(#bl1)"/>
<rect x="1106" y="281.5" width="3" height="30" fill="#c6c6d6" opacity="0.6" filter="url(#bl1)"/>
<rect x="1140" y="281.5" width="3" height="30" fill="#c6c6d6" opacity="0.6" filter="url(#bl1)"/>
<path d="M927 238.2 h25.5 l3.5 3.3 l-3.5 3.3 h-25.5 z" fill="#3f6cc6" filter="url(#bl1)"/>
<path d="M927 251.5 h25.5 l3.5 3.3 l-3.5 3.3 h-25.5 z" fill="#3f6cc6" filter="url(#bl1)"/>
<path d="M927 282.3 h25.5 l3.5 3.3 l-3.5 3.3 h-25.5 z" fill="#3f6cc6" filter="url(#bl1)"/>
<path d="M927 297 h25.5 l3.5 3.3 l-3.5 3.3 h-25.5 z" fill="#3f6cc6" filter="url(#bl1)"/>
<path d="M927 307.3 h25.5 l3.5 3.3 l-3.5 3.3 h-25.5 z" fill="#3f6cc6" filter="url(#bl1)"/>
<path d="M1028 245.5 Q1040 241.5 1055 242.5 Q1057 245 1055 247.5 Q1040 249 1028 248.5 Z" fill="#333" opacity="0.85" filter="url(#bl1)"/>
<rect x="1061.3" y="238.8" width="28.5" height="6.6" rx="3.3" fill="#000" filter="url(#bl1)"/>
<path d="M1094 237 Q1094 235.5 1098 235.6 L1133 234 Q1137 231.5 1140 233.5 Q1142 237 1139 239.5 L1120 242.5 L1098 244.3 Q1094 244.2 1094 241 Z" fill="#000" filter="url(#bl1)"/>
<rect x="963.3" y="294.8" width="29.4" height="6.8" rx="3.4" fill="#000" filter="url(#bl1)"/>
<rect x="1001.8" y="294.8" width="25.9" height="6.8" rx="3.4" fill="#000" filter="url(#bl1)"/>
<rect x="1036" y="294.8" width="27.4" height="6.8" rx="3.4" fill="#000" filter="url(#bl1)"/>
<rect x="1073.2" y="294.8" width="29.4" height="6.8" rx="3.4" fill="#000" filter="url(#bl1)"/>
<rect x="1110.3" y="294.8" width="26.6" height="6.8" rx="3.4" fill="#000" filter="url(#bl1)"/>
<text class="s" x="1183.5" y="35.3" style="font-size:46px">C</text>
<line x1="1341.3" y1="10.7" x2="1341.3" y2="331.7" stroke="#000" stroke-width="3.4"/>
<line x1="1331.3" y1="330" x2="1341.3" y2="330" stroke="#000" stroke-width="3.4"/>
<text class="s" x="1326.3" y="336.8" text-anchor="end" style="font-size:20.7px">0</text>
<line x1="1331.3" y1="250.6" x2="1341.3" y2="250.6" stroke="#000" stroke-width="3.4"/>
<text class="s" x="1326.3" y="257.4" text-anchor="end" style="font-size:20.7px">5</text>
<line x1="1331.3" y1="171.2" x2="1341.3" y2="171.2" stroke="#000" stroke-width="3.4"/>
<text class="s" x="1326.3" y="178" text-anchor="end" style="font-size:20.7px">10</text>
<line x1="1331.3" y1="91.8" x2="1341.3" y2="91.8" stroke="#000" stroke-width="3.4"/>
<text class="s" x="1326.3" y="98.6" text-anchor="end" style="font-size:20.7px">15</text>
<line x1="1331.3" y1="12.4" x2="1341.3" y2="12.4" stroke="#000" stroke-width="3.4"/>
<text class="s" x="1326.3" y="19.2" text-anchor="end" style="font-size:20.7px">20</text>
<line x1="1341.3" y1="330" x2="1819.5" y2="330" stroke="#000" stroke-width="3.4"/>
<line x1="1425" y1="330" x2="1425" y2="340.5" stroke="#000" stroke-width="3.4"/>
<line x1="1579.6" y1="330" x2="1579.6" y2="340.5" stroke="#000" stroke-width="3.4"/>
<line x1="1734.4" y1="330" x2="1734.4" y2="340.5" stroke="#000" stroke-width="3.4"/>
<path d="M1362 330V315.3H1396.6V330" fill="none" stroke="#000" stroke-width="2.8"/>
<path d="M1379.3 313.3V310.6M1370.1 313.3H1388.5M1370.1 310.6H1388.5" fill="none" stroke="#000" stroke-width="2.8"/>
<circle cx="1365.8" cy="316.2" r="5.2" fill="#000"/>
<circle cx="1379.6" cy="310.2" r="5.2" fill="#000"/>
<circle cx="1393" cy="312.2" r="5.2" fill="#000"/>
<path d="M1407.7 330V240.6H1442.3V330" fill="none" stroke="#000" stroke-width="2.8"/>
<path d="M1425 243.9V234.6M1415.8 243.9H1434.2M1415.8 234.6H1434.2" fill="none" stroke="#000" stroke-width="2.8"/>
<rect x="1419.8" y="230.9" width="10.5" height="10.5"/>
<rect x="1419.8" y="242.7" width="10.5" height="10.5"/>
<rect x="1433.2" y="227.9" width="10.5" height="10.5"/>
<path d="M1452.5 330V288.1H1487.1V330" fill="none" stroke="#000" stroke-width="2.8"/>
<path d="M1469.8 290.8V282.6M1460.6 290.8H1479M1460.6 282.6H1479" fill="none" stroke="#000" stroke-width="2.8"/>
<path d="M1469.8 291.6l5.5 9.8h-11z"/>
<path d="M1469.8 276.6l5.5 9.8h-11z"/>
<path d="M1484 278.2l5.5 9.8h-11z"/>
<path d="M1517 330V311.2H1551.6V330" fill="none" stroke="#000" stroke-width="2.8"/>
<path d="M1534.3 313.5V306M1525.1 313.5H1543.5M1525.1 306H1543.5" fill="none" stroke="#000" stroke-width="2.8"/>
<circle cx="1521" cy="317.3" r="5.2" fill="#000"/>
<circle cx="1534.3" cy="304.6" r="5.2" fill="#000"/>
<circle cx="1548" cy="307.8" r="5.2" fill="#000"/>
<path d="M1562.2 330V251.5H1596.8V330" fill="none" stroke="#000" stroke-width="2.8"/>
<path d="M1579.5 261.1V239.7M1570.3 261.1H1588.7M1570.3 239.7H1588.7" fill="none" stroke="#000" stroke-width="2.8"/>
<rect x="1574.2" y="237.2" width="10.5" height="10.5"/>
<rect x="1574.2" y="266.4" width="10.5" height="10.5"/>
<rect x="1588" y="232.6" width="10.5" height="10.5"/>
<path d="M1607.7 330V304.6H1642.3V330" fill="none" stroke="#000" stroke-width="2.8"/>
<path d="M1625 306.5V301M1615.8 306.5H1634.2M1615.8 301H1634.2" fill="none" stroke="#000" stroke-width="2.8"/>
<path d="M1611.5 290.4l5.5 9.8h-11z"/>
<path d="M1625.2 294.9l5.5 9.8h-11z"/>
<path d="M1638.5 298.4l5.5 9.8h-11z"/>
<path d="M1672 330V316H1706.6V330" fill="none" stroke="#000" stroke-width="2.8"/>
<path d="M1689.3 317V314.5M1680.1 317H1698.5M1680.1 314.5H1698.5" fill="none" stroke="#000" stroke-width="2.8"/>
<circle cx="1676.3" cy="316.2" r="5.2" fill="#000"/>
<circle cx="1689.6" cy="312" r="5.2" fill="#000"/>
<circle cx="1702" cy="315.4" r="5.2" fill="#000"/>
<path d="M1717.7 330V81.6H1752.3V330" fill="none" stroke="#000" stroke-width="2.8"/>
<path d="M1735 83V78.5M1725.8 83H1744.2M1725.8 78.5H1744.2" fill="none" stroke="#000" stroke-width="2.8"/>
<rect x="1715.8" y="81" width="10.5" height="10.5"/>
<rect x="1729.2" y="71.5" width="10.5" height="10.5"/>
<rect x="1742.8" y="72.8" width="10.5" height="10.5"/>
<path d="M1762.7 330V256.6H1797.3V330" fill="none" stroke="#000" stroke-width="2.8"/>
<path d="M1780 257.5V255.5M1770.8 257.5H1789.2M1770.8 255.5H1789.2" fill="none" stroke="#000" stroke-width="2.8"/>
<path d="M1767.6 250.1l5.5 9.8h-11z"/>
<path d="M1780 248.9l5.5 9.8h-11z"/>
<path d="M1792.5 250.1l5.5 9.8h-11z"/>
<text class="r" x="1470.3" y="265.5" text-anchor="middle" style="font-size:21px">*</text>
<text class="r" x="1625.2" y="284.5" text-anchor="middle" style="font-size:21px">*</text>
<text class="r" x="1781" y="238.5" text-anchor="middle" style="font-size:21px">**</text>
<text class="s" x="1425" y="363" text-anchor="middle" style="font-size:20px">LPS</text>
<text class="s" x="1579.6" y="363" text-anchor="middle" style="font-size:20px">Pam3CSK4</text>
<text class="s" x="1734.4" y="363" text-anchor="middle" style="font-size:20px">R848</text>
<text class="s" transform="translate(1292,171) rotate(-90)" text-anchor="middle" style="font-size:25.5px">Relative mRNA expression</text>
<circle cx="1821.5" cy="15.6" r="5.6" fill="#000"/>
<rect x="1816" y="45.6" width="10.9" height="10.6"/>
<path d="M1821.5 81.5l5.5 11h-11z"/>
<text class="s" x="1852.3" y="24.8" style="font-size:26px">MOCK</text>
<text class="s" x="1852.3" y="60" style="font-size:26px">LPS</text>
<text class="s" x="1852.3" y="96" style="font-size:26px">MGF 505-3R</text>
<text class="s" x="1" y="428.7" style="font-size:44px">D</text>
<line x1="151.4" y1="469.5" x2="151.4" y2="683" stroke="#000" stroke-width="2.6"/>
<line x1="146.4" y1="681.7" x2="151.4" y2="681.7" stroke="#000" stroke-width="2.6"/>
<text class="a" transform="translate(142.6,687.8) scale(1,1.1)" text-anchor="end" style="font-size:15.5px">0</text>
<line x1="146.4" y1="611.4" x2="151.4" y2="611.4" stroke="#000" stroke-width="2.6"/>
<text class="a" transform="translate(142.6,617.5) scale(1,1.1)" text-anchor="end" style="font-size:15.5px">10</text>
<line x1="146.4" y1="541.1" x2="151.4" y2="541.1" stroke="#000" stroke-width="2.6"/>
<text class="a" transform="translate(142.6,547.2) scale(1,1.1)" text-anchor="end" style="font-size:15.5px">20</text>
<line x1="146.4" y1="470.8" x2="151.4" y2="470.8" stroke="#000" stroke-width="2.6"/>
<text class="a" transform="translate(142.6,476.9) scale(1,1.1)" text-anchor="end" style="font-size:15.5px">30</text>
<line x1="151.4" y1="681.7" x2="471" y2="681.7" stroke="#000" stroke-width="2.6"/>
<line x1="204.6" y1="681.7" x2="204.6" y2="689.7" stroke="#000" stroke-width="2.6"/>
<line x1="311.2" y1="681.7" x2="311.2" y2="689.7" stroke="#000" stroke-width="2.6"/>
<line x1="417.2" y1="681.7" x2="417.2" y2="689.7" stroke="#000" stroke-width="2.6"/>
<path d="M170.3 681.7V676H238.8V681.7" fill="none" stroke="#1a1aff" stroke-width="3.1"/>
<path d="M204.6 678.5V672M187.5 678.5H221.7M187.5 672H221.7" fill="none" stroke="#1a1aff" stroke-width="2.9"/>
<circle cx="188.4" cy="677.7" r="4" fill="#000"/>
<circle cx="204.6" cy="672.6" r="4" fill="#000"/>
<circle cx="221.4" cy="674.3" r="4" fill="#000"/>
<path d="M276.9 681.7V537.4H345.4V681.7" fill="none" stroke="#ff1a1a" stroke-width="3.1"/>
<path d="M311.2 556.6V515.8M294.1 556.6H328.3M294.1 515.8H328.3" fill="none" stroke="#ff1a1a" stroke-width="2.9"/>
<circle cx="311.2" cy="513.5" r="4" fill="#000"/>
<circle cx="311.2" cy="541.4" r="4" fill="#000"/>
<circle cx="311.2" cy="553.9" r="4" fill="#000"/>
<path d="M382.9 681.7V678.7H451.4V681.7" fill="none" stroke="#3ad62a" stroke-width="3.1"/>
<path d="M417.2 681V672M400.1 681H434.3M400.1 672H434.3" fill="none" stroke="#3ad62a" stroke-width="2.9"/>
<circle cx="400.4" cy="681" r="4" fill="#000"/>
<circle cx="417.2" cy="672" r="4" fill="#000"/>
<circle cx="434" cy="679.4" r="4" fill="#000"/>
<text class="s" x="295.4" y="427.3" text-anchor="middle" style="font-size:21px">PK-15</text>
<text class="s" transform="translate(109,566.6) rotate(-90)" text-anchor="middle" style="font-size:20.4px">NF-κB&#160; luciferase fold</text>
<text class="s" transform="translate(209.6,705.2) rotate(-45)" text-anchor="end" style="font-size:15.8px">p-EMPTY</text>
<text class="s" transform="translate(316.2,705.2) rotate(-45)" text-anchor="end" style="font-size:15.8px">p-EMPTY</text>
<text class="s" transform="translate(422.2,705.2) rotate(-45)" text-anchor="end" style="font-size:15.8px">MGF 505-3R</text>
<line x1="262.5" y1="801.5" x2="446.8" y2="801.5" stroke="#000" stroke-width="3"/>
<text class="s" x="355" y="837" text-anchor="middle" style="font-size:21px">LPS</text>
<text class="r" x="417.2" y="582.4" text-anchor="middle" style="font-size:16.5px">***</text>
<text class="s" x="501" y="428.5" style="font-size:44px">E</text>
<line x1="688.7" y1="431.8" x2="688.7" y2="717.2" stroke="#000" stroke-width="2.4"/>
<line x1="683.7" y1="716" x2="688.7" y2="716" stroke="#000" stroke-width="2.4"/>
<text class="a" transform="translate(680.3,722.5) scale(1,1.1)" text-anchor="end" style="font-size:16.5px">0.0</text>
<line x1="683.7" y1="645.2" x2="688.7" y2="645.2" stroke="#000" stroke-width="2.4"/>
<text class="a" transform="translate(680.3,651.7) scale(1,1.1)" text-anchor="end" style="font-size:16.5px">0.5</text>
<line x1="683.7" y1="574.5" x2="688.7" y2="574.5" stroke="#000" stroke-width="2.4"/>
<text class="a" transform="translate(680.3,581) scale(1,1.1)" text-anchor="end" style="font-size:16.5px">1.0</text>
<line x1="683.7" y1="503.8" x2="688.7" y2="503.8" stroke="#000" stroke-width="2.4"/>
<text class="a" transform="translate(680.3,510.2) scale(1,1.1)" text-anchor="end" style="font-size:16.5px">1.5</text>
<line x1="683.7" y1="433" x2="688.7" y2="433" stroke="#000" stroke-width="2.4"/>
<text class="a" transform="translate(680.3,439.5) scale(1,1.1)" text-anchor="end" style="font-size:16.5px">2.0</text>
<line x1="688.7" y1="716" x2="926.7" y2="716" stroke="#000" stroke-width="2.4"/>
<line x1="728.3" y1="716" x2="728.3" y2="725.5" stroke="#000" stroke-width="2.4"/>
<line x1="807" y1="716" x2="807" y2="725.5" stroke="#000" stroke-width="2.4"/>
<line x1="886.1" y1="716" x2="886.1" y2="725.5" stroke="#000" stroke-width="2.4"/>
<path d="M704 716V582.5H752.5V716" fill="none" stroke="#1a1aff" stroke-width="2.9"/>
<path d="M728.3 592.2V570.5M716.2 592.2H740.4M716.2 570.5H740.4" fill="none" stroke="#1a1aff" stroke-width="2.7"/>
<circle cx="711.8" cy="567.1" r="4" fill="#000"/>
<circle cx="728.3" cy="575" r="4" fill="#000"/>
<circle cx="728.3" cy="602.5" r="4" fill="#000"/>
<path d="M782.8 716V514.5H831.2V716" fill="none" stroke="#ff1a1a" stroke-width="2.9"/>
<path d="M807 520V508.6M794.9 520H819.1M794.9 508.6H819.1" fill="none" stroke="#ff1a1a" stroke-width="2.7"/>
<circle cx="790.2" cy="520" r="4" fill="#000"/>
<circle cx="807" cy="504.1" r="4" fill="#000"/>
<circle cx="824.2" cy="516.5" r="4" fill="#000"/>
<path d="M861.9 716V678.8H910.4V716" fill="none" stroke="#3ad62a" stroke-width="2.9"/>
<path d="M886.1 681.6V675.4M874 681.6H898.2M874 675.4H898.2" fill="none" stroke="#3ad62a" stroke-width="2.7"/>
<circle cx="869.2" cy="682.2" r="4" fill="#000"/>
<circle cx="886.1" cy="673.7" r="4" fill="#000"/>
<circle cx="903.3" cy="678.8" r="4" fill="#000"/>
<text class="s" x="816.6" y="428" text-anchor="middle" style="font-size:19.7px">IL-6</text>
<text class="s" transform="translate(629,579.8) rotate(-90)" text-anchor="middle" style="font-size:20.2px">Relative mRNA expression</text>
<text class="s" transform="translate(732.8,740) rotate(-45)" text-anchor="end" style="font-size:16px">p-EMPTY</text>
<text class="s" transform="translate(811.5,740) rotate(-45)" text-anchor="end" style="font-size:16px">p-EMPTY</text>
<text class="s" transform="translate(890.6,740) rotate(-45)" text-anchor="end" style="font-size:16px">MGF 505-3R</text>
<line x1="776.4" y1="812.2" x2="906" y2="812.2" stroke="#000" stroke-width="3"/>
<text class="s" x="836.6" y="842" text-anchor="middle" style="font-size:20px">R848</text>
<text class="r" x="884.7" y="659.6" text-anchor="middle" style="font-size:16.5px">***</text>
<line x1="1030.1" y1="434.2" x2="1030.1" y2="720.2" stroke="#000" stroke-width="2.4"/>
<line x1="1025.1" y1="719" x2="1030.1" y2="719" stroke="#000" stroke-width="2.4"/>
<text class="a" transform="translate(1022,725.5) scale(1,1.1)" text-anchor="end" style="font-size:16.5px">0</text>
<line x1="1025.1" y1="662.3" x2="1030.1" y2="662.3" stroke="#000" stroke-width="2.4"/>
<text class="a" transform="translate(1022,668.8) scale(1,1.1)" text-anchor="end" style="font-size:16.5px">5</text>
<line x1="1025.1" y1="605.6" x2="1030.1" y2="605.6" stroke="#000" stroke-width="2.4"/>
<text class="a" transform="translate(1022,612.1) scale(1,1.1)" text-anchor="end" style="font-size:16.5px">10</text>
<line x1="1025.1" y1="548.8" x2="1030.1" y2="548.8" stroke="#000" stroke-width="2.4"/>
<text class="a" transform="translate(1022,555.3) scale(1,1.1)" text-anchor="end" style="font-size:16.5px">15</text>
<line x1="1025.1" y1="492.1" x2="1030.1" y2="492.1" stroke="#000" stroke-width="2.4"/>
<text class="a" transform="translate(1022,498.6) scale(1,1.1)" text-anchor="end" style="font-size:16.5px">20</text>
<line x1="1025.1" y1="435.4" x2="1030.1" y2="435.4" stroke="#000" stroke-width="2.4"/>
<text class="a" transform="translate(1022,441.9) scale(1,1.1)" text-anchor="end" style="font-size:16.5px">25</text>
<line x1="1030.1" y1="719" x2="1267.6" y2="719" stroke="#000" stroke-width="2.4"/>
<line x1="1070" y1="719" x2="1070" y2="728.5" stroke="#000" stroke-width="2.4"/>
<line x1="1148" y1="719" x2="1148" y2="728.5" stroke="#000" stroke-width="2.4"/>
<line x1="1227.1" y1="719" x2="1227.1" y2="728.5" stroke="#000" stroke-width="2.4"/>
<path d="M1045.8 719V705.6H1094.2V719" fill="none" stroke="#1a1aff" stroke-width="2.9"/>
<path d="M1070 708V703M1057.9 708H1082.1M1057.9 703H1082.1" fill="none" stroke="#000" stroke-width="2.7"/>
<circle cx="1052.8" cy="708" r="4" fill="#000"/>
<circle cx="1070" cy="703.6" r="4" fill="#000"/>
<circle cx="1086.8" cy="705.3" r="4" fill="#000"/>
<path d="M1123.8 719V514.5H1172.2V719" fill="none" stroke="#ff1a1a" stroke-width="2.9"/>
<path d="M1148 557.4V470.1M1135.9 557.4H1160.1M1135.9 470.1H1160.1" fill="none" stroke="#ff1a1a" stroke-width="2.7"/>
<circle cx="1148" cy="468" r="4" fill="#000"/>
<circle cx="1148" cy="519.6" r="4" fill="#000"/>
<circle cx="1148" cy="554" r="4" fill="#000"/>
<path d="M1202.8 719V706.3H1251.3V719" fill="none" stroke="#3ad62a" stroke-width="2.9"/>
<path d="M1227.1 708.5V703.5M1215 708.5H1239.2M1215 703.5H1239.2" fill="none" stroke="#3ad62a" stroke-width="2.7"/>
<circle cx="1210.6" cy="709" r="4" fill="#000"/>
<circle cx="1227.1" cy="702.9" r="4" fill="#000"/>
<circle cx="1244.3" cy="706.3" r="4" fill="#000"/>
<text class="s" x="1168.6" y="430" text-anchor="middle" style="font-size:19.7px">TNF-α</text>
<text class="s" transform="translate(970.5,583.3) rotate(-90)" text-anchor="middle" style="font-size:20.2px">Relative mRNA expression</text>
<text class="s" transform="translate(1074.5,743) rotate(-45)" text-anchor="end" style="font-size:16px">p-EMPTY</text>
<text class="s" transform="translate(1152.5,743) rotate(-45)" text-anchor="end" style="font-size:16px">p-EMPTY</text>
<text class="s" transform="translate(1231.6,743) rotate(-45)" text-anchor="end" style="font-size:16px">MGF 505-3R</text>
<line x1="1117.7" y1="815.3" x2="1246.7" y2="815.3" stroke="#000" stroke-width="3"/>
<text class="s" x="1177.2" y="844" text-anchor="middle" style="font-size:20px">R848</text>
<text class="r" x="1227.1" y="687.1" text-anchor="middle" style="font-size:16.5px">***</text>
<line x1="1363.2" y1="431.8" x2="1363.2" y2="717.2" stroke="#000" stroke-width="2.4"/>
<line x1="1358.2" y1="716" x2="1363.2" y2="716" stroke="#000" stroke-width="2.4"/>
<text class="a" transform="translate(1355,722.5) scale(1,1.1)" text-anchor="end" style="font-size:16.5px">0</text>
<line x1="1358.2" y1="645.2" x2="1363.2" y2="645.2" stroke="#000" stroke-width="2.4"/>
<text class="a" transform="translate(1355,651.7) scale(1,1.1)" text-anchor="end" style="font-size:16.5px">10</text>
<line x1="1358.2" y1="574.5" x2="1363.2" y2="574.5" stroke="#000" stroke-width="2.4"/>
<text class="a" transform="translate(1355,581) scale(1,1.1)" text-anchor="end" style="font-size:16.5px">20</text>
<line x1="1358.2" y1="503.8" x2="1363.2" y2="503.8" stroke="#000" stroke-width="2.4"/>
<text class="a" transform="translate(1355,510.2) scale(1,1.1)" text-anchor="end" style="font-size:16.5px">30</text>
<line x1="1358.2" y1="433" x2="1363.2" y2="433" stroke="#000" stroke-width="2.4"/>
<text class="a" transform="translate(1355,439.5) scale(1,1.1)" text-anchor="end" style="font-size:16.5px">40</text>
<line x1="1363.2" y1="716" x2="1600.8" y2="716" stroke="#000" stroke-width="2.4"/>
<line x1="1402.7" y1="716" x2="1402.7" y2="725.5" stroke="#000" stroke-width="2.4"/>
<line x1="1481.8" y1="716" x2="1481.8" y2="725.5" stroke="#000" stroke-width="2.4"/>
<line x1="1560.9" y1="716" x2="1560.9" y2="725.5" stroke="#000" stroke-width="2.4"/>
<path d="M1378.5 716V709.7H1427V716" fill="none" stroke="#1a1aff" stroke-width="2.9"/>
<path d="M1402.7 711V708M1390.6 711H1414.8M1390.6 708H1414.8" fill="none" stroke="#1a1aff" stroke-width="2.7"/>
<circle cx="1385.5" cy="710.4" r="4" fill="#000"/>
<circle cx="1402.7" cy="706.3" r="4" fill="#000"/>
<circle cx="1419.9" cy="709.7" r="4" fill="#000"/>
<path d="M1457.5 716V515.5H1506V716" fill="none" stroke="#ff1a1a" stroke-width="2.9"/>
<path d="M1481.8 563.6V463.9M1469.7 563.6H1493.9M1469.7 463.9H1493.9" fill="none" stroke="#ff1a1a" stroke-width="2.7"/>
<circle cx="1464.6" cy="462.2" r="4" fill="#000"/>
<circle cx="1499" cy="467.4" r="4" fill="#000"/>
<circle cx="1481.8" cy="614.2" r="4" fill="#000"/>
<path d="M1536.7 716V706.3H1585.2V716" fill="none" stroke="#3ad62a" stroke-width="2.9"/>
<path d="M1560.9 708V704.5M1548.8 708H1573M1548.8 704.5H1573" fill="none" stroke="#3ad62a" stroke-width="2.7"/>
<circle cx="1543.7" cy="706.3" r="4" fill="#000"/>
<circle cx="1560.9" cy="704.6" r="4" fill="#000"/>
<circle cx="1578" cy="706.3" r="4" fill="#000"/>
<text class="s" x="1497.3" y="428.5" text-anchor="middle" style="font-size:19.7px">IFN-γ</text>
<text class="s" transform="translate(1304,579.8) rotate(-90)" text-anchor="middle" style="font-size:20.2px">Relative mRNA expression</text>
<text class="s" transform="translate(1407.2,740) rotate(-45)" text-anchor="end" style="font-size:16px">p-EMPTY</text>
<text class="s" transform="translate(1486.3,740) rotate(-45)" text-anchor="end" style="font-size:16px">p-EMPTY</text>
<text class="s" transform="translate(1565.4,740) rotate(-45)" text-anchor="end" style="font-size:16px">MGF 505-3R</text>
<line x1="1450.9" y1="812.2" x2="1580.1" y2="812.2" stroke="#000" stroke-width="3"/>
<text class="s" x="1511" y="842" text-anchor="middle" style="font-size:20px">R848</text>
<text class="r" x="1560.2" y="691.2" text-anchor="middle" style="font-size:16.5px">***</text>
<line x1="1686.7" y1="434.2" x2="1686.7" y2="720.3" stroke="#000" stroke-width="2.4"/>
<line x1="1681.7" y1="719.1" x2="1686.7" y2="719.1" stroke="#000" stroke-width="2.4"/>
<text class="a" transform="translate(1678.5,725.6) scale(1,1.1)" text-anchor="end" style="font-size:16.5px">0</text>
<line x1="1681.7" y1="648.2" x2="1686.7" y2="648.2" stroke="#000" stroke-width="2.4"/>
<text class="a" transform="translate(1678.5,654.7) scale(1,1.1)" text-anchor="end" style="font-size:16.5px">1</text>
<line x1="1681.7" y1="577.2" x2="1686.7" y2="577.2" stroke="#000" stroke-width="2.4"/>
<text class="a" transform="translate(1678.5,583.7) scale(1,1.1)" text-anchor="end" style="font-size:16.5px">2</text>
<line x1="1681.7" y1="506.3" x2="1686.7" y2="506.3" stroke="#000" stroke-width="2.4"/>
<text class="a" transform="translate(1678.5,512.8) scale(1,1.1)" text-anchor="end" style="font-size:16.5px">3</text>
<line x1="1681.7" y1="435.4" x2="1686.7" y2="435.4" stroke="#000" stroke-width="2.4"/>
<text class="a" transform="translate(1678.5,441.9) scale(1,1.1)" text-anchor="end" style="font-size:16.5px">4</text>
<line x1="1686.7" y1="719.1" x2="1924" y2="719.1" stroke="#000" stroke-width="2.4"/>
<line x1="1726.2" y1="719.1" x2="1726.2" y2="728.6" stroke="#000" stroke-width="2.4"/>
<line x1="1805" y1="719.1" x2="1805" y2="728.6" stroke="#000" stroke-width="2.4"/>
<line x1="1883.7" y1="719.1" x2="1883.7" y2="728.6" stroke="#000" stroke-width="2.4"/>
<path d="M1702 719.1V633.5H1750.5V719.1" fill="none" stroke="#1a1aff" stroke-width="2.9"/>
<path d="M1726.2 644.5V620.4M1714.1 644.5H1738.3M1714.1 620.4H1738.3" fill="none" stroke="#000" stroke-width="2.7"/>
<circle cx="1726.2" cy="609.1" r="4" fill="#000"/>
<circle cx="1709" cy="648.6" r="4" fill="#000"/>
<circle cx="1743.4" cy="640.4" r="4" fill="#000"/>
<path d="M1780.8 719.1V508H1829.2V719.1" fill="none" stroke="#ff1a1a" stroke-width="2.9"/>
<path d="M1805 526.9V488M1792.9 526.9H1817.1M1792.9 488H1817.1" fill="none" stroke="#ff1a1a" stroke-width="2.7"/>
<circle cx="1805" cy="468.4" r="4" fill="#000"/>
<circle cx="1787.8" cy="528.3" r="4" fill="#000"/>
<circle cx="1822.2" cy="524.1" r="4" fill="#000"/>
<path d="M1859.5 719.1V598.8H1908V719.1" fill="none" stroke="#3ad62a" stroke-width="2.9"/>
<path d="M1883.7 624.6V572.3M1871.6 624.6H1895.8M1871.6 572.3H1895.8" fill="none" stroke="#3ad62a" stroke-width="2.7"/>
<circle cx="1883.7" cy="566.1" r="4" fill="#000"/>
<circle cx="1883.7" cy="579.2" r="4" fill="#000"/>
<circle cx="1883.7" cy="649.7" r="4" fill="#000"/>
<text class="s" x="1820.1" y="430" text-anchor="middle" style="font-size:19.7px">IL-1β</text>
<text class="s" transform="translate(1627,583.3) rotate(-90)" text-anchor="middle" style="font-size:20.2px">Relative mRNA expression</text>
<text class="s" transform="translate(1730.7,743.1) rotate(-45)" text-anchor="end" style="font-size:16px">p-EMPTY</text>
<text class="s" transform="translate(1809.5,743.1) rotate(-45)" text-anchor="end" style="font-size:16px">p-EMPTY</text>
<text class="s" transform="translate(1888.2,743.1) rotate(-45)" text-anchor="end" style="font-size:16px">MGF 505-3R</text>
<line x1="1773.7" y1="815.5" x2="1902.7" y2="815.5" stroke="#000" stroke-width="3"/>
<text class="s" x="1833.9" y="844" text-anchor="middle" style="font-size:20px">R848</text>
<text class="r" x="1883.7" y="557.9" text-anchor="middle" style="font-size:16.5px">*</text>
<text class="s" x="3" y="917.5" style="font-size:44px">F</text>
<line x1="117.9" y1="921.1" x2="117.9" y2="1227.2" stroke="#000" stroke-width="2.4"/>
<line x1="112.9" y1="1226" x2="117.9" y2="1226" stroke="#000" stroke-width="2.4"/>
<text class="a" transform="translate(108.6,1232.7) scale(1,1.1)" text-anchor="end" style="font-size:17px">0</text>
<line x1="112.9" y1="1150.1" x2="117.9" y2="1150.1" stroke="#000" stroke-width="2.4"/>
<text class="a" transform="translate(108.6,1156.8) scale(1,1.1)" text-anchor="end" style="font-size:17px">5</text>
<line x1="112.9" y1="1074.2" x2="117.9" y2="1074.2" stroke="#000" stroke-width="2.4"/>
<text class="a" transform="translate(108.6,1080.8) scale(1,1.1)" text-anchor="end" style="font-size:17px">10</text>
<line x1="112.9" y1="998.2" x2="117.9" y2="998.2" stroke="#000" stroke-width="2.4"/>
<text class="a" transform="translate(108.6,1004.9) scale(1,1.1)" text-anchor="end" style="font-size:17px">15</text>
<line x1="112.9" y1="922.3" x2="117.9" y2="922.3" stroke="#000" stroke-width="2.4"/>
<text class="a" transform="translate(108.6,929) scale(1,1.1)" text-anchor="end" style="font-size:17px">20</text>
<line x1="117.9" y1="1226" x2="320.7" y2="1226" stroke="#000" stroke-width="2.4"/>
<line x1="152" y1="1226" x2="152" y2="1236" stroke="#000" stroke-width="2.4"/>
<line x1="219.5" y1="1226" x2="219.5" y2="1236" stroke="#000" stroke-width="2.4"/>
<line x1="286.6" y1="1226" x2="286.6" y2="1236" stroke="#000" stroke-width="2.4"/>
<path d="M130.5 1226V1207.4H173.5V1226" fill="none" stroke="#1a1aff" stroke-width="2.9"/>
<path d="M152 1211.5V1201.9M141.2 1211.5H162.8M141.2 1201.9H162.8" fill="none" stroke="#1a1aff" stroke-width="2.7"/>
<circle cx="134.2" cy="1214.8" r="4" fill="#000"/>
<circle cx="152" cy="1194.4" r="4" fill="#000"/>
<circle cx="152" cy="1206" r="4" fill="#000"/>
<circle cx="169.8" cy="1211.1" r="4" fill="#000"/>
<path d="M198 1226V1047.2H241V1226" fill="none" stroke="#ff1a1a" stroke-width="2.9"/>
<path d="M219.5 1070.6V1020.5M208.8 1070.6H230.2M208.8 1020.5H230.2" fill="none" stroke="#ff1a1a" stroke-width="2.7"/>
<circle cx="201.3" cy="1004.6" r="4" fill="#000"/>
<circle cx="219.5" cy="1001.6" r="4" fill="#000"/>
<circle cx="201.3" cy="1089.1" r="4" fill="#000"/>
<circle cx="237.3" cy="1088" r="4" fill="#000"/>
<path d="M265.1 1226V1209.3H308.1V1226" fill="none" stroke="#3ad62a" stroke-width="2.9"/>
<path d="M286.6 1213V1205.6M275.9 1213H297.4M275.9 1205.6H297.4" fill="none" stroke="#3ad62a" stroke-width="2.7"/>
<circle cx="268.8" cy="1214.8" r="4" fill="#000"/>
<circle cx="286.6" cy="1199.3" r="4" fill="#000"/>
<circle cx="286.6" cy="1209.3" r="4" fill="#000"/>
<circle cx="304" cy="1213.4" r="4" fill="#000"/>
<text class="s" x="263.3" y="917.5" text-anchor="middle" style="font-size:22.2px">IFN-α</text>
<text class="s" transform="translate(66.5,1079.6) rotate(-90)" text-anchor="middle" style="font-size:21.8px">Relative mRNA expression</text>
<text class="s" transform="translate(157,1251) rotate(-45)" text-anchor="end" style="font-size:17.3px">p-EMPTY</text>
<text class="s" transform="translate(224.5,1251) rotate(-45)" text-anchor="end" style="font-size:17.3px">p-EMPTY</text>
<text class="s" transform="translate(291.6,1251) rotate(-45)" text-anchor="end" style="font-size:17.3px">MGF 505-3R</text>
<line x1="212.5" y1="1329" x2="291" y2="1329" stroke="#000" stroke-width="3.5"/>
<text class="s" x="251.4" y="1360.5" text-anchor="middle" style="font-size:22px">R848</text>
<text class="r" x="287.4" y="1191.6" text-anchor="middle" style="font-size:16.5px">***</text>
<line x1="417.1" y1="921.1" x2="417.1" y2="1227.2" stroke="#000" stroke-width="2.4"/>
<line x1="412.1" y1="1226" x2="417.1" y2="1226" stroke="#000" stroke-width="2.4"/>
<text class="a" transform="translate(407.8,1232.7) scale(1,1.1)" text-anchor="end" style="font-size:17px">0</text>
<line x1="412.1" y1="1165.3" x2="417.1" y2="1165.3" stroke="#000" stroke-width="2.4"/>
<text class="a" transform="translate(407.8,1172) scale(1,1.1)" text-anchor="end" style="font-size:17px">2</text>
<line x1="412.1" y1="1104.5" x2="417.1" y2="1104.5" stroke="#000" stroke-width="2.4"/>
<text class="a" transform="translate(407.8,1111.2) scale(1,1.1)" text-anchor="end" style="font-size:17px">4</text>
<line x1="412.1" y1="1043.8" x2="417.1" y2="1043.8" stroke="#000" stroke-width="2.4"/>
<text class="a" transform="translate(407.8,1050.5) scale(1,1.1)" text-anchor="end" style="font-size:17px">6</text>
<line x1="412.1" y1="983" x2="417.1" y2="983" stroke="#000" stroke-width="2.4"/>
<text class="a" transform="translate(407.8,989.7) scale(1,1.1)" text-anchor="end" style="font-size:17px">8</text>
<line x1="412.1" y1="922.3" x2="417.1" y2="922.3" stroke="#000" stroke-width="2.4"/>
<text class="a" transform="translate(407.8,929) scale(1,1.1)" text-anchor="end" style="font-size:17px">10</text>
<line x1="417.1" y1="1226" x2="619.6" y2="1226" stroke="#000" stroke-width="2.4"/>
<line x1="450.9" y1="1226" x2="450.9" y2="1236" stroke="#000" stroke-width="2.4"/>
<line x1="518.4" y1="1226" x2="518.4" y2="1236" stroke="#000" stroke-width="2.4"/>
<line x1="585.8" y1="1226" x2="585.8" y2="1236" stroke="#000" stroke-width="2.4"/>
<path d="M429.4 1226V1191.8H472.4V1226" fill="none" stroke="#1a1aff" stroke-width="2.9"/>
<path d="M450.9 1198.2V1183.7M440.1 1198.2H461.6M440.1 1183.7H461.6" fill="none" stroke="#1a1aff" stroke-width="2.7"/>
<circle cx="450.9" cy="1171.5" r="4" fill="#000"/>
<circle cx="450.9" cy="1205.6" r="4" fill="#000"/>
<circle cx="469" cy="1191.1" r="4" fill="#000"/>
<path d="M496.9 1226V1033.2H539.9V1226" fill="none" stroke="#ff1a1a" stroke-width="2.9"/>
<path d="M518.4 1054.7V1009M507.6 1054.7H529.1M507.6 1009H529.1" fill="none" stroke="#ff1a1a" stroke-width="2.7"/>
<circle cx="518.4" cy="976" r="4" fill="#000"/>
<circle cx="518.4" cy="1015.7" r="4" fill="#000"/>
<circle cx="518.4" cy="1055.4" r="4" fill="#000"/>
<circle cx="518.4" cy="1081.4" r="4" fill="#000"/>
<path d="M564.3 1226V1191.1H607.3V1226" fill="none" stroke="#3ad62a" stroke-width="2.9"/>
<path d="M585.8 1195.6V1187M575 1195.6H596.5M575 1187H596.5" fill="none" stroke="#3ad62a" stroke-width="2.7"/>
<circle cx="567.7" cy="1183.3" r="4" fill="#000"/>
<circle cx="585.8" cy="1190" r="4" fill="#000"/>
<circle cx="585.8" cy="1200.4" r="4" fill="#000"/>
<circle cx="603.6" cy="1190" r="4" fill="#000"/>
<text class="s" x="561.8" y="917.5" text-anchor="middle" style="font-size:22.2px">IFN-β</text>
<text class="s" transform="translate(364,1080.6) rotate(-90)" text-anchor="middle" style="font-size:21.8px">Relative mRNA expression</text>
<text class="s" transform="translate(455.9,1251) rotate(-45)" text-anchor="end" style="font-size:17.3px">p-EMPTY</text>
<text class="s" transform="translate(523.4,1251) rotate(-45)" text-anchor="end" style="font-size:17.3px">p-EMPTY</text>
<text class="s" transform="translate(590.8,1251) rotate(-45)" text-anchor="end" style="font-size:17.3px">MGF 505-3R</text>
<line x1="511" y1="1329" x2="604.8" y2="1329" stroke="#000" stroke-width="3.5"/>
<text class="s" x="561.8" y="1360.5" text-anchor="middle" style="font-size:22px">R848</text>
<text class="a" x="586.1" y="1172.2" text-anchor="middle" style="font-size:23px">*</text>
<line x1="710.8" y1="921.1" x2="710.8" y2="1227.2" stroke="#000" stroke-width="2.4"/>
<line x1="705.8" y1="1226" x2="710.8" y2="1226" stroke="#000" stroke-width="2.4"/>
<text class="a" transform="translate(701.5,1232.7) scale(1,1.1)" text-anchor="end" style="font-size:17px">0</text>
<line x1="705.8" y1="1150.1" x2="710.8" y2="1150.1" stroke="#000" stroke-width="2.4"/>
<text class="a" transform="translate(701.5,1156.8) scale(1,1.1)" text-anchor="end" style="font-size:17px">20</text>
<line x1="705.8" y1="1074.2" x2="710.8" y2="1074.2" stroke="#000" stroke-width="2.4"/>
<text class="a" transform="translate(701.5,1080.8) scale(1,1.1)" text-anchor="end" style="font-size:17px">40</text>
<line x1="705.8" y1="998.2" x2="710.8" y2="998.2" stroke="#000" stroke-width="2.4"/>
<text class="a" transform="translate(701.5,1004.9) scale(1,1.1)" text-anchor="end" style="font-size:17px">60</text>
<line x1="705.8" y1="922.3" x2="710.8" y2="922.3" stroke="#000" stroke-width="2.4"/>
<text class="a" transform="translate(701.5,929) scale(1,1.1)" text-anchor="end" style="font-size:17px">80</text>
<line x1="710.8" y1="1226" x2="914" y2="1226" stroke="#000" stroke-width="2.4"/>
<line x1="745.3" y1="1226" x2="745.3" y2="1236" stroke="#000" stroke-width="2.4"/>
<line x1="812.8" y1="1226" x2="812.8" y2="1236" stroke="#000" stroke-width="2.4"/>
<line x1="880.3" y1="1226" x2="880.3" y2="1236" stroke="#000" stroke-width="2.4"/>
<path d="M723.8 1226V1219.7H766.8V1226" fill="none" stroke="#1a1aff" stroke-width="2.9"/>
<path d="M745.3 1222V1215.5M734.5 1222H756M734.5 1215.5H756" fill="none" stroke="#000" stroke-width="2.7"/>
<circle cx="727.5" cy="1222.3" r="4" fill="#000"/>
<circle cx="745.3" cy="1209.3" r="4" fill="#000"/>
<circle cx="763.5" cy="1222.3" r="4" fill="#000"/>
<path d="M791.3 1226V1039.8H834.3V1226" fill="none" stroke="#ff1a1a" stroke-width="2.9"/>
<path d="M812.8 1062.8V1012.8M802 1062.8H823.5M802 1012.8H823.5" fill="none" stroke="#ff1a1a" stroke-width="2.7"/>
<circle cx="812.8" cy="969.4" r="4" fill="#000"/>
<circle cx="812.8" cy="1038.7" r="4" fill="#000"/>
<circle cx="812.8" cy="1060.2" r="4" fill="#000"/>
<circle cx="812.8" cy="1085" r="4" fill="#000"/>
<path d="M858.8 1226V1196.3H901.8V1226" fill="none" stroke="#3ad62a" stroke-width="2.9"/>
<path d="M880.3 1198.2V1191.8M869.5 1198.2H891M869.5 1191.8H891" fill="none" stroke="#3ad62a" stroke-width="2.7"/>
<circle cx="862.1" cy="1190" r="4" fill="#000"/>
<circle cx="880.3" cy="1190.7" r="4" fill="#000"/>
<circle cx="862.1" cy="1203" r="4" fill="#000"/>
<circle cx="898.1" cy="1197.4" r="4" fill="#000"/>
<text class="s" x="856.6" y="917.5" text-anchor="middle" style="font-size:22.2px">IFN-λ</text>
<text class="s" transform="translate(657,1079.6) rotate(-90)" text-anchor="middle" style="font-size:21.8px">Relative mRNA expression</text>
<text class="s" transform="translate(750.3,1251) rotate(-45)" text-anchor="end" style="font-size:17.3px">p-EMPTY</text>
<text class="s" transform="translate(817.8,1251) rotate(-45)" text-anchor="end" style="font-size:17.3px">p-EMPTY</text>
<text class="s" transform="translate(885.3,1251) rotate(-45)" text-anchor="end" style="font-size:17.3px">MGF 505-3R</text>
<line x1="805.4" y1="1329" x2="884.4" y2="1329" stroke="#000" stroke-width="3.5"/>
<text class="s" x="846.9" y="1360.5" text-anchor="middle" style="font-size:22px">R848</text>
<text class="a" x="880.3" y="1180.7" text-anchor="middle" style="font-size:23px">*</text>
<text class="s" x="941" y="915.6" style="font-size:44px">G</text>
<text class="s" x="1101.3" y="880" text-anchor="middle" style="font-size:12.4px">Cy3-Anti-p65</text>
<text class="s" x="1232.2" y="880" text-anchor="middle" style="font-size:12.4px">DAPI</text>
<text class="s" x="1360.9" y="880" text-anchor="middle" style="font-size:12.4px">FITC-Myc</text>
<text class="s" x="1493.6" y="880" text-anchor="middle" style="font-size:12.4px">Merge</text>
<text class="s" x="1008.6" y="956.3" text-anchor="middle" style="font-size:12.6px">Mock</text>
<text class="s" x="1004.9" y="1077.3" text-anchor="middle" style="font-size:12.6px">LPS</text>
<text class="s" x="997.5" y="1197.1" text-anchor="middle" style="font-size:12.6px">MGF 505-3R</text>
<text class="s" x="959.5" y="1306.3" style="font-size:12.6px">LPS+</text>
<text class="s" x="959.5" y="1322.1" style="font-size:12.6px">MGF 505-3R</text>
<svg x="1049.4" y="901.5" width="107.5" height="107.5">
<rect width="107.5" height="107.5" fill="#000"/>
<rect width="107.5" height="107.5" fill="#560a07"/>
<use href="#rc0" fill="rgb(232,46,30)" filter="url(#bl2)"/>
<use href="#rn0" fill="#000" opacity="0.15" filter="url(#bl2)"/>
<rect width="107.5" height="107.5" fill="#000" filter="url(#spk)" opacity="0.25"/>
<circle cx="5" cy="106" r="38" fill="url(#dg)" opacity="1"/>
<circle cx="60" cy="110" r="22" fill="url(#dg)" opacity="0.6"/>
<circle cx="0" cy="50" r="14" fill="url(#dg)" opacity="0.4"/>
<rect x="81.5" y="103.6" width="25" height="1.5" fill="#eee"/>
<text class="s" x="94.5" y="101.8" text-anchor="middle" style="font-size:5.6px" fill="#fff">50 μm</text>
</svg>
<svg x="1179.6" y="901.5" width="107.5" height="107.5">
<rect width="107.5" height="107.5" fill="#000"/>
<use href="#rn0" fill="rgb(30,30,255)" filter="url(#bl2)"/>
<rect x="81.5" y="103.6" width="25" height="1.5" fill="#eee"/>
<text class="s" x="94.5" y="101.8" text-anchor="middle" style="font-size:5.6px" fill="#fff">50 μm</text>
</svg>
<svg x="1310.1" y="901.5" width="107.5" height="107.5">
<rect width="107.5" height="107.5" fill="#000"/>
<rect width="107.5" height="107.5" fill="#040904"/>
<rect x="81.5" y="103.6" width="25" height="1.5" fill="#eee"/>
<text class="s" x="94.5" y="101.8" text-anchor="middle" style="font-size:5.6px" fill="#fff">50 μm</text>
</svg>
<svg x="1440.2" y="901.5" width="107.5" height="107.5">
<rect width="107.5" height="107.5" fill="#000"/>
<rect width="107.5" height="107.5" fill="#560a07"/>
<use href="#rc0" fill="rgb(232,46,30)" filter="url(#bl2)"/>
<circle cx="5" cy="106" r="38" fill="url(#dg)" opacity="0.8"/>
<circle cx="60" cy="110" r="22" fill="url(#dg)" opacity="0.4"/>
<circle cx="0" cy="50" r="14" fill="url(#dg)" opacity="0.3"/>
<use href="#rn0" fill="rgb(118,52,255)" opacity="0.9" filter="url(#bl2)"/>
<rect x="81.5" y="103.6" width="25" height="1.5" fill="#eee"/>
<text class="s" x="94.5" y="101.8" text-anchor="middle" style="font-size:5.6px" fill="#fff">50 μm</text>
</svg>
<svg x="1049.4" y="1020.2" width="107.5" height="107.5">
<rect width="107.5" height="107.5" fill="#000"/>
<rect width="107.5" height="107.5" fill="#120202"/>
<use href="#rc1" fill="rgb(245,44,28)" filter="url(#bl2)"/>
<use href="#rn1" fill="rgb(255,60,40)" opacity="0.3" filter="url(#bl2)"/>
<rect width="107.5" height="107.5" fill="#000" filter="url(#spk)" opacity="0.25"/>
<circle cx="0" cy="5" r="30" fill="url(#dg)" opacity="1"/>
<circle cx="60" cy="48" r="18" fill="url(#dg)" opacity="0.6"/>
<circle cx="35" cy="104" r="24" fill="url(#dg)" opacity="0.7"/>
<circle cx="104" cy="95" r="20" fill="url(#dg)" opacity="0.6"/>
<circle cx="20" cy="55" r="14" fill="url(#dg)" opacity="0.5"/>
<rect x="81.5" y="103.6" width="25" height="1.5" fill="#eee"/>
<text class="s" x="94.5" y="101.8" text-anchor="middle" style="font-size:5.6px" fill="#fff">50 μm</text>
</svg>
<svg x="1179.6" y="1020.2" width="107.5" height="107.5">
<rect width="107.5" height="107.5" fill="#000"/>
<use href="#rn1" fill="rgb(30,30,255)" filter="url(#bl2)"/>
<rect x="81.5" y="103.6" width="25" height="1.5" fill="#eee"/>
<text class="s" x="94.5" y="101.8" text-anchor="middle" style="font-size:5.6px" fill="#fff">50 μm</text>
</svg>
<svg x="1310.1" y="1020.2" width="107.5" height="107.5">
<rect width="107.5" height="107.5" fill="#000"/>
<rect width="107.5" height="107.5" fill="#040904"/>
<rect x="81.5" y="103.6" width="25" height="1.5" fill="#eee"/>
<text class="s" x="94.5" y="101.8" text-anchor="middle" style="font-size:5.6px" fill="#fff">50 μm</text>
</svg>
<svg x="1440.2" y="1020.2" width="107.5" height="107.5">
<rect width="107.5" height="107.5" fill="#000"/>
<rect width="107.5" height="107.5" fill="#120202"/>
<use href="#rc1" fill="rgb(245,44,28)" filter="url(#bl2)"/>
<circle cx="0" cy="5" r="30" fill="url(#dg)" opacity="0.8"/>
<circle cx="60" cy="48" r="18" fill="url(#dg)" opacity="0.4"/>
<circle cx="35" cy="104" r="24" fill="url(#dg)" opacity="0.5"/>
<circle cx="104" cy="95" r="20" fill="url(#dg)" opacity="0.4"/>
<circle cx="20" cy="55" r="14" fill="url(#dg)" opacity="0.4"/>
<use href="#rn1" fill="rgb(118,52,255)" opacity="0.9" filter="url(#bl2)"/>
<rect x="81.5" y="103.6" width="25" height="1.5" fill="#eee"/>
<text class="s" x="94.5" y="101.8" text-anchor="middle" style="font-size:5.6px" fill="#fff">50 μm</text>
</svg>
<svg x="1049.4" y="1138.8" width="107.5" height="107.5">
<rect width="107.5" height="107.5" fill="#000"/>
<rect width="107.5" height="107.5" fill="#1a0302"/>
<use href="#rc2" fill="rgb(215,36,22)" filter="url(#bl2)"/>
<use href="#rn2" fill="rgb(255,60,40)" opacity="0.3" filter="url(#bl2)"/>
<rect width="107.5" height="107.5" fill="#000" filter="url(#spk)" opacity="0.25"/>
<circle cx="0" cy="58" r="40" fill="url(#dg)" opacity="1"/>
<circle cx="18" cy="108" r="45" fill="url(#dg)" opacity="1"/>
<circle cx="108" cy="45" r="35" fill="url(#dg)" opacity="0.8"/>
<circle cx="96" cy="108" r="30" fill="url(#dg)" opacity="0.8"/>
<circle cx="60" cy="62" r="14" fill="url(#dg)" opacity="0.5"/>
<rect x="81.5" y="103.6" width="25" height="1.5" fill="#eee"/>
<text class="s" x="94.5" y="101.8" text-anchor="middle" style="font-size:5.6px" fill="#fff">50 μm</text>
</svg>
<svg x="1179.6" y="1138.8" width="107.5" height="107.5">
<rect width="107.5" height="107.5" fill="#000"/>
<use href="#rn2" fill="rgb(30,30,190)" filter="url(#bl2)"/>
<rect x="81.5" y="103.6" width="25" height="1.5" fill="#eee"/>
<text class="s" x="94.5" y="101.8" text-anchor="middle" style="font-size:5.6px" fill="#fff">50 μm</text>
</svg>
<svg x="1310.1" y="1138.8" width="107.5" height="107.5">
<rect width="107.5" height="107.5" fill="#000"/>
<use href="#rg2" fill="rgb(70,230,40)" filter="url(#bl2)"/>
<rect width="107.5" height="107.5" fill="#000" filter="url(#spk)" opacity="0.3"/>
<rect x="81.5" y="103.6" width="25" height="1.5" fill="#eee"/>
<text class="s" x="94.5" y="101.8" text-anchor="middle" style="font-size:5.6px" fill="#fff">50 μm</text>
</svg>
<svg x="1440.2" y="1138.8" width="107.5" height="107.5">
<rect width="107.5" height="107.5" fill="#000"/>
<rect width="107.5" height="107.5" fill="#1a0302"/>
<use href="#rc2" fill="rgb(215,36,22)" filter="url(#bl2)"/>
<circle cx="0" cy="58" r="40" fill="url(#dg)" opacity="0.8"/>
<circle cx="18" cy="108" r="45" fill="url(#dg)" opacity="0.8"/>
<circle cx="108" cy="45" r="35" fill="url(#dg)" opacity="0.6"/>
<circle cx="96" cy="108" r="30" fill="url(#dg)" opacity="0.6"/>
<circle cx="60" cy="62" r="14" fill="url(#dg)" opacity="0.4"/>
<use href="#rn2" fill="rgb(118,52,255)" opacity="0.9" filter="url(#bl2)"/>
<use href="#rg2" fill="rgb(200,240,90)" opacity="0.85" filter="url(#bl2)"/>
<rect x="81.5" y="103.6" width="25" height="1.5" fill="#eee"/>
<text class="s" x="94.5" y="101.8" text-anchor="middle" style="font-size:5.6px" fill="#fff">50 μm</text>
</svg>
<svg x="1049.4" y="1256.8" width="107.5" height="107.5">
<rect width="107.5" height="107.5" fill="#000"/>
<rect width="107.5" height="107.5" fill="#220403"/>
<use href="#rc3" fill="rgb(212,36,22)" filter="url(#bl2)"/>
<use href="#rn3" fill="rgb(255,60,40)" opacity="0.3" filter="url(#bl2)"/>
<rect width="107.5" height="107.5" fill="#000" filter="url(#spk)" opacity="0.25"/>
<circle cx="104" cy="104" r="36" fill="url(#dg)" opacity="0.8"/>
<circle cx="80" cy="5" r="26" fill="url(#dg)" opacity="0.7"/>
<circle cx="5" cy="88" r="22" fill="url(#dg)" opacity="0.7"/>
<circle cx="50" cy="55" r="16" fill="url(#dg)" opacity="0.5"/>
<circle cx="108" cy="40" r="18" fill="url(#dg)" opacity="0.5"/>
<rect x="81.5" y="103.6" width="25" height="1.5" fill="#eee"/>
<text class="s" x="94.5" y="101.8" text-anchor="middle" style="font-size:5.6px" fill="#fff">50 μm</text>
</svg>
<svg x="1179.6" y="1256.8" width="107.5" height="107.5">
<rect width="107.5" height="107.5" fill="#000"/>
<use href="#rn3" fill="rgb(30,30,255)" filter="url(#bl2)"/>
<rect x="81.5" y="103.6" width="25" height="1.5" fill="#eee"/>
<text class="s" x="94.5" y="101.8" text-anchor="middle" style="font-size:5.6px" fill="#fff">50 μm</text>
</svg>
<svg x="1310.1" y="1256.8" width="107.5" height="107.5">
<rect width="107.5" height="107.5" fill="#000"/>
<use href="#rg3" fill="rgb(70,230,40)" filter="url(#bl2)"/>
<rect width="107.5" height="107.5" fill="#000" filter="url(#spk)" opacity="0.3"/>
<rect x="81.5" y="103.6" width="25" height="1.5" fill="#eee"/>
<text class="s" x="94.5" y="101.8" text-anchor="middle" style="font-size:5.6px" fill="#fff">50 μm</text>
</svg>
<svg x="1440.2" y="1256.8" width="107.5" height="107.5">
<rect width="107.5" height="107.5" fill="#000"/>
<rect width="107.5" height="107.5" fill="#220403"/>
<use href="#rc3" fill="rgb(212,36,22)" filter="url(#bl2)"/>
<circle cx="104" cy="104" r="36" fill="url(#dg)" opacity="0.6"/>
<circle cx="80" cy="5" r="26" fill="url(#dg)" opacity="0.5"/>
<circle cx="5" cy="88" r="22" fill="url(#dg)" opacity="0.5"/>
<circle cx="50" cy="55" r="16" fill="url(#dg)" opacity="0.3"/>
<circle cx="108" cy="40" r="18" fill="url(#dg)" opacity="0.4"/>
<use href="#rn3" fill="rgb(118,52,255)" opacity="0.9" filter="url(#bl2)"/>
<use href="#rg3" fill="rgb(200,240,90)" opacity="0.85" filter="url(#bl2)"/>
<rect x="81.5" y="103.6" width="25" height="1.5" fill="#eee"/>
<text class="s" x="94.5" y="101.8" text-anchor="middle" style="font-size:5.6px" fill="#fff">50 μm</text>
</svg>
<text class="s" x="1579" y="915.6" style="font-size:44px">H</text>
<line x1="1718.4" y1="933.9" x2="1718.4" y2="1215.7" stroke="#000" stroke-width="2.8"/>
<line x1="1712.4" y1="1214.3" x2="1718.4" y2="1214.3" stroke="#000" stroke-width="2.8"/>
<text class="a" transform="translate(1705.5,1222.4) scale(1,1.1)" text-anchor="end" style="font-size:20.5px">0</text>
<line x1="1712.4" y1="1144.5" x2="1718.4" y2="1144.5" stroke="#000" stroke-width="2.8"/>
<text class="a" transform="translate(1705.5,1152.6) scale(1,1.1)" text-anchor="end" style="font-size:20.5px">20</text>
<line x1="1712.4" y1="1074.8" x2="1718.4" y2="1074.8" stroke="#000" stroke-width="2.8"/>
<text class="a" transform="translate(1705.5,1082.9) scale(1,1.1)" text-anchor="end" style="font-size:20.5px">40</text>
<line x1="1712.4" y1="1005" x2="1718.4" y2="1005" stroke="#000" stroke-width="2.8"/>
<text class="a" transform="translate(1705.5,1013.1) scale(1,1.1)" text-anchor="end" style="font-size:20.5px">60</text>
<line x1="1712.4" y1="935.3" x2="1718.4" y2="935.3" stroke="#000" stroke-width="2.8"/>
<text class="a" transform="translate(1705.5,943.4) scale(1,1.1)" text-anchor="end" style="font-size:20.5px">80</text>
<line x1="1718.4" y1="1214.3" x2="1978.5" y2="1214.3" stroke="#000" stroke-width="2.8"/>
<line x1="1750" y1="1214.3" x2="1750" y2="1224.3" stroke="#000" stroke-width="2.8"/>
<line x1="1814.9" y1="1214.3" x2="1814.9" y2="1224.3" stroke="#000" stroke-width="2.8"/>
<line x1="1879.8" y1="1214.3" x2="1879.8" y2="1224.3" stroke="#000" stroke-width="2.8"/>
<line x1="1944.7" y1="1214.3" x2="1944.7" y2="1224.3" stroke="#000" stroke-width="2.8"/>
<path d="M1731 1214.3V1190.2H1769V1214.3" fill="none" stroke="#1a1aff" stroke-width="3.3"/>
<path d="M1750 1194.6V1185.4M1739.5 1194.6H1760.5M1739.5 1185.4H1760.5" fill="none" stroke="#1a1aff" stroke-width="3.1"/>
<circle cx="1734.4" cy="1196.9" r="5.2" fill="#000"/>
<circle cx="1750" cy="1182.8" r="5.2" fill="#000"/>
<circle cx="1765.9" cy="1189.4" r="5.2" fill="#000"/>
<path d="M1795.9 1214.3V1017.7H1833.9V1214.3" fill="none" stroke="#ff1a1a" stroke-width="3.3"/>
<path d="M1814.9 1045.5V986.9M1804.4 1045.5H1825.4M1804.4 986.9H1825.4" fill="none" stroke="#ff1a1a" stroke-width="3.1"/>
<circle cx="1814.9" cy="963.1" r="5.2" fill="#000"/>
<circle cx="1814.9" cy="1022.5" r="5.2" fill="#000"/>
<circle cx="1814.9" cy="1064" r="5.2" fill="#000"/>
<path d="M1860.8 1214.3V1178.3H1898.8V1214.3" fill="none" stroke="#3ad62a" stroke-width="3.3"/>
<path d="M1879.8 1187.2V1166.8M1869.3 1187.2H1890.3M1869.3 1166.8H1890.3" fill="none" stroke="#3ad62a" stroke-width="3.1"/>
<circle cx="1879.8" cy="1157.9" r="5.2" fill="#000"/>
<circle cx="1879.8" cy="1179" r="5.2" fill="#000"/>
<circle cx="1879.8" cy="1193.2" r="5.2" fill="#000"/>
<path d="M1925.7 1214.3V1106H1963.7V1214.3" fill="none" stroke="#c63aff" stroke-width="3.3"/>
<path d="M1944.7 1117.1V1092.6M1934.2 1117.1H1955.2M1934.2 1092.6H1955.2" fill="none" stroke="#c63aff" stroke-width="3.1"/>
<circle cx="1944.7" cy="1085.2" r="5.2" fill="#000"/>
<circle cx="1944.7" cy="1103" r="5.2" fill="#000"/>
<circle cx="1944.7" cy="1127.1" r="5.2" fill="#000"/>
<path d="M1814.9 912V936M1814.9 923.8H1944.7M1944.7 912V936" fill="none" stroke="#000" stroke-width="3"/>
<text class="a" x="1882.8" y="910" text-anchor="middle" style="font-size:24px">*</text>
<text class="s" transform="translate(1646.7,1067.8) rotate(-90)" text-anchor="middle" style="font-size:26.6px">nuclear translocation rate (%)</text>
<text class="s" transform="translate(1755,1246.3) rotate(-45)" text-anchor="end" style="font-size:21px">p-Empty</text>
<text class="s" transform="translate(1819.9,1246.3) rotate(-45)" text-anchor="end" style="font-size:21px">LPS+p-Empty</text>
<text class="s" transform="translate(1884.8,1246.3) rotate(-45)" text-anchor="end" style="font-size:21px">MGF 505-3R</text>
<text class="s" transform="translate(1949.7,1246.3) rotate(-45)" text-anchor="end" style="font-size:21px">LPS+MGF 505-3R</text>
</svg>
</body></html>
